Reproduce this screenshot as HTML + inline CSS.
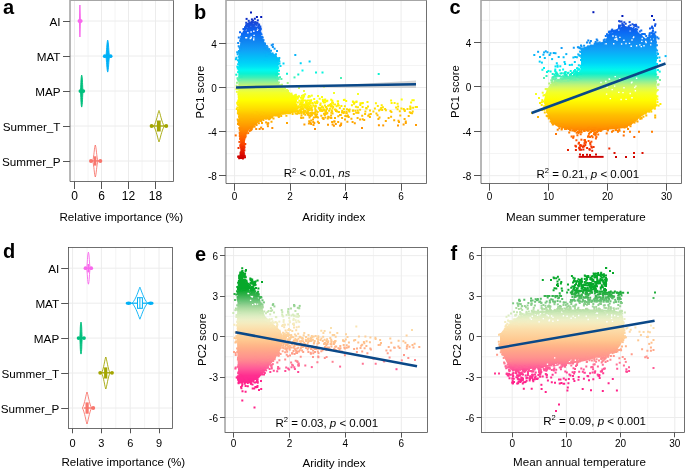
<!DOCTYPE html><html><head><meta charset="utf-8"><style>html,body{margin:0;padding:0;background:#fff;overflow:hidden}svg{display:block;will-change:transform}text{font-family:"Liberation Sans",sans-serif}</style></head><body><svg width="685" height="469" viewBox="0 0 685 469"><defs><linearGradient id="gb" gradientUnits="userSpaceOnUse" x1="0" y1="10" x2="0" y2="160"><stop offset="0.000" stop-color="#0018b8"/><stop offset="0.025" stop-color="#0018b8"/><stop offset="0.050" stop-color="#031dbb"/><stop offset="0.075" stop-color="#143ed1"/><stop offset="0.100" stop-color="#154fdf"/><stop offset="0.125" stop-color="#0f5bea"/><stop offset="0.150" stop-color="#0c67f2"/><stop offset="0.175" stop-color="#0c74f4"/><stop offset="0.200" stop-color="#1080f0"/><stop offset="0.225" stop-color="#108cf3"/><stop offset="0.250" stop-color="#1098f6"/><stop offset="0.275" stop-color="#0ea5f8"/><stop offset="0.300" stop-color="#08b4f8"/><stop offset="0.325" stop-color="#02c3f8"/><stop offset="0.350" stop-color="#00d0f8"/><stop offset="0.375" stop-color="#00e0f6"/><stop offset="0.400" stop-color="#00f8f0"/><stop offset="0.425" stop-color="#0cf2d2"/><stop offset="0.450" stop-color="#3ef0b7"/><stop offset="0.475" stop-color="#84f09d"/><stop offset="0.500" stop-color="#bbf279"/><stop offset="0.525" stop-color="#dcfa59"/><stop offset="0.550" stop-color="#f1ff2d"/><stop offset="0.575" stop-color="#f8ff16"/><stop offset="0.600" stop-color="#ffff00"/><stop offset="0.625" stop-color="#fff000"/><stop offset="0.650" stop-color="#ffe200"/><stop offset="0.675" stop-color="#ffd200"/><stop offset="0.700" stop-color="#ffc000"/><stop offset="0.725" stop-color="#ffb300"/><stop offset="0.750" stop-color="#ffa600"/><stop offset="0.775" stop-color="#ff9700"/><stop offset="0.800" stop-color="#ff8800"/><stop offset="0.825" stop-color="#ff7600"/><stop offset="0.850" stop-color="#ff6400"/><stop offset="0.875" stop-color="#fd5200"/><stop offset="0.900" stop-color="#f83f00"/><stop offset="0.925" stop-color="#ec2800"/><stop offset="0.950" stop-color="#e01400"/><stop offset="0.975" stop-color="#d30400"/><stop offset="1.000" stop-color="#cc0000"/></linearGradient><linearGradient id="gc" gradientUnits="userSpaceOnUse" x1="0" y1="10" x2="0" y2="160"><stop offset="0.000" stop-color="#0018b8"/><stop offset="0.025" stop-color="#0018b8"/><stop offset="0.050" stop-color="#0826c1"/><stop offset="0.075" stop-color="#1947d7"/><stop offset="0.100" stop-color="#1452e2"/><stop offset="0.125" stop-color="#0e5eec"/><stop offset="0.150" stop-color="#0b6af4"/><stop offset="0.175" stop-color="#0d77f3"/><stop offset="0.200" stop-color="#1083f1"/><stop offset="0.225" stop-color="#108ff4"/><stop offset="0.250" stop-color="#109bf7"/><stop offset="0.275" stop-color="#0da8f8"/><stop offset="0.300" stop-color="#07b7f8"/><stop offset="0.325" stop-color="#01c6f8"/><stop offset="0.350" stop-color="#00d2f8"/><stop offset="0.375" stop-color="#00e5f5"/><stop offset="0.400" stop-color="#02f7ea"/><stop offset="0.425" stop-color="#0ef1cd"/><stop offset="0.450" stop-color="#4bf0b3"/><stop offset="0.475" stop-color="#8ef096"/><stop offset="0.500" stop-color="#c1f475"/><stop offset="0.525" stop-color="#dffb51"/><stop offset="0.550" stop-color="#f2ff2a"/><stop offset="0.575" stop-color="#f9ff13"/><stop offset="0.600" stop-color="#fffd00"/><stop offset="0.625" stop-color="#ffef00"/><stop offset="0.650" stop-color="#ffe000"/><stop offset="0.675" stop-color="#ffd000"/><stop offset="0.700" stop-color="#ffbe00"/><stop offset="0.725" stop-color="#ffb200"/><stop offset="0.750" stop-color="#ffa500"/><stop offset="0.775" stop-color="#ff9600"/><stop offset="0.800" stop-color="#ff8600"/><stop offset="0.825" stop-color="#ff7400"/><stop offset="0.850" stop-color="#ff6300"/><stop offset="0.875" stop-color="#fd5100"/><stop offset="0.900" stop-color="#f73e00"/><stop offset="0.925" stop-color="#eb2700"/><stop offset="0.950" stop-color="#df1300"/><stop offset="0.975" stop-color="#d20400"/><stop offset="1.000" stop-color="#cc0000"/></linearGradient><linearGradient id="ge" gradientUnits="userSpaceOnUse" x1="0" y1="260" x2="0" y2="400"><stop offset="0.000" stop-color="#06a82a"/><stop offset="0.025" stop-color="#06a82a"/><stop offset="0.050" stop-color="#06a82a"/><stop offset="0.075" stop-color="#06a82a"/><stop offset="0.100" stop-color="#06a82a"/><stop offset="0.125" stop-color="#06a82a"/><stop offset="0.150" stop-color="#06a82a"/><stop offset="0.175" stop-color="#06a82a"/><stop offset="0.200" stop-color="#06a82a"/><stop offset="0.225" stop-color="#17ab36"/><stop offset="0.250" stop-color="#32b14a"/><stop offset="0.275" stop-color="#52bb64"/><stop offset="0.300" stop-color="#73c67d"/><stop offset="0.325" stop-color="#96d293"/><stop offset="0.350" stop-color="#b3dea5"/><stop offset="0.375" stop-color="#c9e7b5"/><stop offset="0.400" stop-color="#ddedc2"/><stop offset="0.425" stop-color="#ecefc7"/><stop offset="0.450" stop-color="#f4ecbf"/><stop offset="0.475" stop-color="#f9e4b3"/><stop offset="0.500" stop-color="#fcdca8"/><stop offset="0.525" stop-color="#fdd5a0"/><stop offset="0.550" stop-color="#fece97"/><stop offset="0.575" stop-color="#ffc78f"/><stop offset="0.600" stop-color="#ffbb8a"/><stop offset="0.625" stop-color="#ffb088"/><stop offset="0.650" stop-color="#ffa589"/><stop offset="0.675" stop-color="#ff9b8c"/><stop offset="0.700" stop-color="#ff918e"/><stop offset="0.725" stop-color="#ff8291"/><stop offset="0.750" stop-color="#ff6e95"/><stop offset="0.775" stop-color="#ff5a98"/><stop offset="0.800" stop-color="#ff4494"/><stop offset="0.825" stop-color="#ff2f90"/><stop offset="0.850" stop-color="#ff2990"/><stop offset="0.875" stop-color="#ff248c"/><stop offset="0.900" stop-color="#ff2088"/><stop offset="0.925" stop-color="#ff2088"/><stop offset="0.950" stop-color="#ff2088"/><stop offset="0.975" stop-color="#ff2088"/><stop offset="1.000" stop-color="#ff2088"/></linearGradient><linearGradient id="gf" gradientUnits="userSpaceOnUse" x1="0" y1="260" x2="0" y2="400"><stop offset="0.000" stop-color="#06a82a"/><stop offset="0.025" stop-color="#06a82a"/><stop offset="0.050" stop-color="#06a82a"/><stop offset="0.075" stop-color="#06a82a"/><stop offset="0.100" stop-color="#06a82a"/><stop offset="0.125" stop-color="#06a82a"/><stop offset="0.150" stop-color="#06a82a"/><stop offset="0.175" stop-color="#06a82a"/><stop offset="0.200" stop-color="#06a82a"/><stop offset="0.225" stop-color="#17ab36"/><stop offset="0.250" stop-color="#32b14a"/><stop offset="0.275" stop-color="#52bb64"/><stop offset="0.300" stop-color="#73c67d"/><stop offset="0.325" stop-color="#96d293"/><stop offset="0.350" stop-color="#b3dea5"/><stop offset="0.375" stop-color="#c9e7b5"/><stop offset="0.400" stop-color="#ddedc2"/><stop offset="0.425" stop-color="#ecefc7"/><stop offset="0.450" stop-color="#f4ecbf"/><stop offset="0.475" stop-color="#f9e4b3"/><stop offset="0.500" stop-color="#fcdca8"/><stop offset="0.525" stop-color="#fdd5a0"/><stop offset="0.550" stop-color="#fece97"/><stop offset="0.575" stop-color="#ffc78f"/><stop offset="0.600" stop-color="#ffbb8a"/><stop offset="0.625" stop-color="#ffb088"/><stop offset="0.650" stop-color="#ffa589"/><stop offset="0.675" stop-color="#ff9b8c"/><stop offset="0.700" stop-color="#ff918e"/><stop offset="0.725" stop-color="#ff8291"/><stop offset="0.750" stop-color="#ff6e95"/><stop offset="0.775" stop-color="#ff5a98"/><stop offset="0.800" stop-color="#ff4494"/><stop offset="0.825" stop-color="#ff2f90"/><stop offset="0.850" stop-color="#ff2990"/><stop offset="0.875" stop-color="#ff248c"/><stop offset="0.900" stop-color="#ff2088"/><stop offset="0.925" stop-color="#ff2088"/><stop offset="0.950" stop-color="#ff2088"/><stop offset="0.975" stop-color="#ff2088"/><stop offset="1.000" stop-color="#ff2088"/></linearGradient></defs><line x1="88.0" y1="0.5" x2="88.0" y2="181.5" stroke="#f4f4f4" stroke-width="1"/><line x1="115.0" y1="0.5" x2="115.0" y2="181.5" stroke="#f4f4f4" stroke-width="1"/><line x1="142.0" y1="0.5" x2="142.0" y2="181.5" stroke="#f4f4f4" stroke-width="1"/><line x1="169.0" y1="0.5" x2="169.0" y2="181.5" stroke="#f4f4f4" stroke-width="1"/><line x1="74.5" y1="0.5" x2="74.5" y2="181.5" stroke="#ececec" stroke-width="1"/><line x1="101.5" y1="0.5" x2="101.5" y2="181.5" stroke="#ececec" stroke-width="1"/><line x1="128.5" y1="0.5" x2="128.5" y2="181.5" stroke="#ececec" stroke-width="1"/><line x1="155.5" y1="0.5" x2="155.5" y2="181.5" stroke="#ececec" stroke-width="1"/><line x1="70" y1="21" x2="173.5" y2="21" stroke="#ececec" stroke-width="1"/><line x1="70" y1="56" x2="173.5" y2="56" stroke="#ececec" stroke-width="1"/><line x1="70" y1="91" x2="173.5" y2="91" stroke="#ececec" stroke-width="1"/><line x1="70" y1="126" x2="173.5" y2="126" stroke="#ececec" stroke-width="1"/><line x1="70" y1="161" x2="173.5" y2="161" stroke="#ececec" stroke-width="1"/><line x1="87.0" y1="247.5" x2="87.0" y2="428.5" stroke="#f4f4f4" stroke-width="1"/><line x1="115.79999999999998" y1="247.5" x2="115.79999999999998" y2="428.5" stroke="#f4f4f4" stroke-width="1"/><line x1="144.6" y1="247.5" x2="144.6" y2="428.5" stroke="#f4f4f4" stroke-width="1"/><line x1="72.6" y1="247.5" x2="72.6" y2="428.5" stroke="#ececec" stroke-width="1"/><line x1="101.39999999999999" y1="247.5" x2="101.39999999999999" y2="428.5" stroke="#ececec" stroke-width="1"/><line x1="130.2" y1="247.5" x2="130.2" y2="428.5" stroke="#ececec" stroke-width="1"/><line x1="159.0" y1="247.5" x2="159.0" y2="428.5" stroke="#ececec" stroke-width="1"/><line x1="68.5" y1="268.2" x2="172.5" y2="268.2" stroke="#ececec" stroke-width="1"/><line x1="68.5" y1="303.2" x2="172.5" y2="303.2" stroke="#ececec" stroke-width="1"/><line x1="68.5" y1="338.1" x2="172.5" y2="338.1" stroke="#ececec" stroke-width="1"/><line x1="68.5" y1="373.0" x2="172.5" y2="373.0" stroke="#ececec" stroke-width="1"/><line x1="68.5" y1="408.0" x2="172.5" y2="408.0" stroke="#ececec" stroke-width="1"/><line x1="262.35" y1="0.5" x2="262.35" y2="183.5" stroke="#f4f4f4" stroke-width="1"/><line x1="317.85" y1="0.5" x2="317.85" y2="183.5" stroke="#f4f4f4" stroke-width="1"/><line x1="373.35" y1="0.5" x2="373.35" y2="183.5" stroke="#f4f4f4" stroke-width="1"/><line x1="226" y1="153.68" x2="426.5" y2="153.68" stroke="#f4f4f4" stroke-width="1"/><line x1="226" y1="109.56" x2="426.5" y2="109.56" stroke="#f4f4f4" stroke-width="1"/><line x1="226" y1="65.44" x2="426.5" y2="65.44" stroke="#f4f4f4" stroke-width="1"/><line x1="226" y1="21.320000000000007" x2="426.5" y2="21.320000000000007" stroke="#f4f4f4" stroke-width="1"/><line x1="234.6" y1="0.5" x2="234.6" y2="183.5" stroke="#ececec" stroke-width="1"/><line x1="290.1" y1="0.5" x2="290.1" y2="183.5" stroke="#ececec" stroke-width="1"/><line x1="345.6" y1="0.5" x2="345.6" y2="183.5" stroke="#ececec" stroke-width="1"/><line x1="401.1" y1="0.5" x2="401.1" y2="183.5" stroke="#ececec" stroke-width="1"/><line x1="226" y1="175.74" x2="426.5" y2="175.74" stroke="#ececec" stroke-width="1"/><line x1="226" y1="131.62" x2="426.5" y2="131.62" stroke="#ececec" stroke-width="1"/><line x1="226" y1="87.5" x2="426.5" y2="87.5" stroke="#ececec" stroke-width="1"/><line x1="226" y1="43.38" x2="426.5" y2="43.38" stroke="#ececec" stroke-width="1"/><line x1="519.1" y1="0.5" x2="519.1" y2="183.5" stroke="#f4f4f4" stroke-width="1"/><line x1="578.1" y1="0.5" x2="578.1" y2="183.5" stroke="#f4f4f4" stroke-width="1"/><line x1="637.1" y1="0.5" x2="637.1" y2="183.5" stroke="#f4f4f4" stroke-width="1"/><line x1="481" y1="153.5" x2="681.5" y2="153.5" stroke="#f4f4f4" stroke-width="1"/><line x1="481" y1="109.10000000000001" x2="681.5" y2="109.10000000000001" stroke="#f4f4f4" stroke-width="1"/><line x1="481" y1="64.7" x2="681.5" y2="64.7" stroke="#f4f4f4" stroke-width="1"/><line x1="481" y1="20.30000000000001" x2="681.5" y2="20.30000000000001" stroke="#f4f4f4" stroke-width="1"/><line x1="489.6" y1="0.5" x2="489.6" y2="183.5" stroke="#ececec" stroke-width="1"/><line x1="548.6" y1="0.5" x2="548.6" y2="183.5" stroke="#ececec" stroke-width="1"/><line x1="607.6" y1="0.5" x2="607.6" y2="183.5" stroke="#ececec" stroke-width="1"/><line x1="666.6" y1="0.5" x2="666.6" y2="183.5" stroke="#ececec" stroke-width="1"/><line x1="481" y1="175.7" x2="681.5" y2="175.7" stroke="#ececec" stroke-width="1"/><line x1="481" y1="131.3" x2="681.5" y2="131.3" stroke="#ececec" stroke-width="1"/><line x1="481" y1="86.9" x2="681.5" y2="86.9" stroke="#ececec" stroke-width="1"/><line x1="481" y1="42.50000000000001" x2="681.5" y2="42.50000000000001" stroke="#ececec" stroke-width="1"/><line x1="261.55" y1="247.5" x2="261.55" y2="432.5" stroke="#f4f4f4" stroke-width="1"/><line x1="317.45" y1="247.5" x2="317.45" y2="432.5" stroke="#f4f4f4" stroke-width="1"/><line x1="373.35" y1="247.5" x2="373.35" y2="432.5" stroke="#f4f4f4" stroke-width="1"/><line x1="225" y1="397.255" x2="427.5" y2="397.255" stroke="#f4f4f4" stroke-width="1"/><line x1="225" y1="356.785" x2="427.5" y2="356.785" stroke="#f4f4f4" stroke-width="1"/><line x1="225" y1="316.315" x2="427.5" y2="316.315" stroke="#f4f4f4" stroke-width="1"/><line x1="225" y1="275.845" x2="427.5" y2="275.845" stroke="#f4f4f4" stroke-width="1"/><line x1="233.6" y1="247.5" x2="233.6" y2="432.5" stroke="#ececec" stroke-width="1"/><line x1="289.5" y1="247.5" x2="289.5" y2="432.5" stroke="#ececec" stroke-width="1"/><line x1="345.4" y1="247.5" x2="345.4" y2="432.5" stroke="#ececec" stroke-width="1"/><line x1="401.29999999999995" y1="247.5" x2="401.29999999999995" y2="432.5" stroke="#ececec" stroke-width="1"/><line x1="225" y1="417.49" x2="427.5" y2="417.49" stroke="#ececec" stroke-width="1"/><line x1="225" y1="377.02" x2="427.5" y2="377.02" stroke="#ececec" stroke-width="1"/><line x1="225" y1="336.55" x2="427.5" y2="336.55" stroke="#ececec" stroke-width="1"/><line x1="225" y1="296.08000000000004" x2="427.5" y2="296.08000000000004" stroke="#ececec" stroke-width="1"/><line x1="225" y1="255.61" x2="427.5" y2="255.61" stroke="#ececec" stroke-width="1"/><line x1="485.1" y1="247.5" x2="485.1" y2="432.5" stroke="#f4f4f4" stroke-width="1"/><line x1="539.3000000000001" y1="247.5" x2="539.3000000000001" y2="432.5" stroke="#f4f4f4" stroke-width="1"/><line x1="593.5" y1="247.5" x2="593.5" y2="432.5" stroke="#f4f4f4" stroke-width="1"/><line x1="647.7" y1="247.5" x2="647.7" y2="432.5" stroke="#f4f4f4" stroke-width="1"/><line x1="481.5" y1="397.255" x2="684.5" y2="397.255" stroke="#f4f4f4" stroke-width="1"/><line x1="481.5" y1="356.785" x2="684.5" y2="356.785" stroke="#f4f4f4" stroke-width="1"/><line x1="481.5" y1="316.315" x2="684.5" y2="316.315" stroke="#f4f4f4" stroke-width="1"/><line x1="481.5" y1="275.845" x2="684.5" y2="275.845" stroke="#f4f4f4" stroke-width="1"/><line x1="512.2" y1="247.5" x2="512.2" y2="432.5" stroke="#ececec" stroke-width="1"/><line x1="566.4000000000001" y1="247.5" x2="566.4000000000001" y2="432.5" stroke="#ececec" stroke-width="1"/><line x1="620.6" y1="247.5" x2="620.6" y2="432.5" stroke="#ececec" stroke-width="1"/><line x1="674.8000000000001" y1="247.5" x2="674.8000000000001" y2="432.5" stroke="#ececec" stroke-width="1"/><line x1="481.5" y1="417.49" x2="684.5" y2="417.49" stroke="#ececec" stroke-width="1"/><line x1="481.5" y1="377.02" x2="684.5" y2="377.02" stroke="#ececec" stroke-width="1"/><line x1="481.5" y1="336.55" x2="684.5" y2="336.55" stroke="#ececec" stroke-width="1"/><line x1="481.5" y1="296.08000000000004" x2="684.5" y2="296.08000000000004" stroke="#ececec" stroke-width="1"/><line x1="481.5" y1="255.61" x2="684.5" y2="255.61" stroke="#ececec" stroke-width="1"/><polygon points="246,24 252,21.5 258,23 260.5,30 261,36 264,41 266.5,48 270,52 276,55 279,60 278.5,66 278,80 279,84 281,87 286,90 292,94 296,97 297,112 285,114 272,117 262,120 255,125 249,130 246,135 245,140 244.5,150 244.5,158.5 238.5,158.5 239.5,155 240.5,150 240,140 239.5,135 239.8,130 239,125 238.6,120 238.4,115 238.3,105 238.3,70 238.5,60 238.5,56 239.5,50 240,45 240.5,40 241,35 244,30" fill="url(#gb)"/><path fill="#ffffff" d="M253.1 37.4h1.4v1.4h-1.4zM256.4 25.4h1.4v1.4h-1.4zM245.9 37.0h1.4v1.4h-1.4zM256.8 29.7h1.4v1.4h-1.4zM246.0 26.3h1.4v1.4h-1.4zM244.9 29.3h1.4v1.4h-1.4zM250.4 31.3h1.4v1.4h-1.4zM253.0 39.1h1.4v1.4h-1.4zM244.0 24.2h1.4v1.4h-1.4zM252.8 22.1h1.4v1.4h-1.4zM249.6 37.8h1.4v1.4h-1.4zM253.1 30.6h1.4v1.4h-1.4zM250.2 25.8h1.4v1.4h-1.4zM254.5 24.9h1.4v1.4h-1.4zM247.4 21.4h1.4v1.4h-1.4zM257.6 24.1h1.4v1.4h-1.4zM245.2 37.1h1.4v1.4h-1.4zM250.5 36.5h1.4v1.4h-1.4zM253.4 34.7h1.4v1.4h-1.4zM241.3 31.0h1.4v1.4h-1.4zM250.5 37.0h1.4v1.4h-1.4zM247.2 32.1h1.4v1.4h-1.4zM240.6 28.3h1.4v1.4h-1.4zM246.4 24.0h1.4v1.4h-1.4zM257.3 28.1h1.4v1.4h-1.4z"/><path fill="#184bdb" d="M248.9 22.4h2.0v2.0h-2.0zM256.5 22.5h2.0v2.0h-2.0z"/><path fill="#194ada" d="M249.1 22.1h2.0v2.0h-2.0zM256.2 22.2h2.0v2.0h-2.0z"/><path fill="#1550e0" d="M246.5 24.0h2.0v2.0h-2.0z"/><path fill="#184cdc" d="M246.6 22.8h2.0v2.0h-2.0z"/><path fill="#1949d9" d="M245.2 21.8h2.0v2.0h-2.0zM254.3 21.8h2.0v2.0h-2.0zM256.1 21.7h2.0v2.0h-2.0z"/><path fill="#164ede" d="M246.7 23.5h2.0v2.0h-2.0zM258.1 23.5h2.0v2.0h-2.0zM245.8 23.5h2.0v2.0h-2.0z"/><path fill="#1451e1" d="M247.7 24.5h2.0v2.0h-2.0zM258.1 24.5h2.0v2.0h-2.0zM245.0 24.5h2.0v2.0h-2.0zM248.9 24.6h2.0v2.0h-2.0z"/><path fill="#1138cd" d="M252.1 19.6h2.0v2.0h-2.0z"/><path fill="#1a48d8" d="M252.0 21.4h2.0v2.0h-2.0zM253.1 21.6h2.0v2.0h-2.0zM248.3 21.5h2.0v2.0h-2.0z"/><path fill="#1946d6" d="M254.4 21.1h2.0v2.0h-2.0z"/><path fill="#1452e2" d="M257.3 24.9h2.0v2.0h-2.0zM250.6 24.8h2.0v2.0h-2.0z"/><path fill="#0f5bea" d="M259.7 28.0h2.0v2.0h-2.0zM242.5 27.9h2.0v2.0h-2.0z"/><path fill="#1354e4" d="M259.3 25.5h2.0v2.0h-2.0z"/><path fill="#1059e8" d="M259.3 27.1h2.0v2.0h-2.0z"/><path fill="#164fdf" d="M255.0 23.7h2.0v2.0h-2.0zM253.0 23.7h2.0v2.0h-2.0z"/><path fill="#1058e8" d="M257.5 27.0h2.0v2.0h-2.0zM254.9 27.0h2.0v2.0h-2.0zM258.3 26.9h2.0v2.0h-2.0z"/><path fill="#0b71f5" d="M258.8 34.3h2.0v2.0h-2.0z"/><path fill="#0b6bf4" d="M259.8 32.5h2.0v2.0h-2.0z"/><path fill="#0c66f1" d="M259.3 31.2h2.0v2.0h-2.0zM239.0 31.3h2.0v2.0h-2.0z"/><path fill="#0a6ef6" d="M260.5 33.5h2.0v2.0h-2.0z"/><path fill="#0d62ef" d="M258.2 30.0h2.0v2.0h-2.0z"/><path fill="#0e5fec" d="M259.3 29.0h2.0v2.0h-2.0z"/><path fill="#0d77f3" d="M259.4 36.3h2.0v2.0h-2.0zM261.7 36.4h2.0v2.0h-2.0z"/><path fill="#1080f0" d="M262.5 39.1h2.0v2.0h-2.0z"/><path fill="#0f7ef1" d="M261.2 38.6h2.0v2.0h-2.0z"/><path fill="#107ff0" d="M259.5 38.8h2.0v2.0h-2.0z"/><path fill="#0d76f3" d="M260.9 36.0h2.0v2.0h-2.0z"/><path fill="#109af6" d="M264.3 47.0h2.0v2.0h-2.0zM265.8 47.1h2.0v2.0h-2.0z"/><path fill="#108bf3" d="M263.8 42.4h2.0v2.0h-2.0z"/><path fill="#1097f6" d="M266.5 46.3h2.0v2.0h-2.0z"/><path fill="#1099f6" d="M265.2 47.0h2.0v2.0h-2.0zM263.1 46.9h2.0v2.0h-2.0z"/><path fill="#108ff4" d="M263.9 43.8h2.0v2.0h-2.0z"/><path fill="#1093f5" d="M265.8 44.9h2.0v2.0h-2.0z"/><path fill="#108df3" d="M263.8 43.1h2.0v2.0h-2.0z"/><path fill="#0cabf8" d="M267.5 51.7h2.0v2.0h-2.0zM237.5 51.7h2.0v2.0h-2.0z"/><path fill="#10a0f8" d="M266.7 49.0h2.0v2.0h-2.0z"/><path fill="#0da8f8" d="M268.7 50.9h2.0v2.0h-2.0z"/><path fill="#0da6f8" d="M267.9 50.6h2.0v2.0h-2.0z"/><path fill="#0ea4f8" d="M267.9 50.0h2.0v2.0h-2.0zM237.9 50.0h2.0v2.0h-2.0zM238.8 50.0h2.0v2.0h-2.0zM276.0 50.0h2.0v2.0h-2.0z"/><path fill="#08b3f8" d="M270.6 53.7h2.0v2.0h-2.0zM272.6 53.8h2.0v2.0h-2.0z"/><path fill="#0fa3f8" d="M270.0 49.7h2.0v2.0h-2.0z"/><path fill="#06b8f8" d="M273.9 55.0h2.0v2.0h-2.0z"/><path fill="#0badf8" d="M269.2 52.3h2.0v2.0h-2.0zM268.7 52.2h2.0v2.0h-2.0z"/><path fill="#08b4f8" d="M271.1 54.0h2.0v2.0h-2.0zM294.3 53.9h2.0v2.0h-2.0z"/><path fill="#09b1f8" d="M275.0 53.3h2.0v2.0h-2.0zM236.7 53.2h2.0v2.0h-2.0z"/><path fill="#02c3f8" d="M276.0 57.7h2.0v2.0h-2.0z"/><path fill="#07b7f8" d="M274.5 54.7h2.0v2.0h-2.0zM240.0 54.8h2.0v2.0h-2.0z"/><path fill="#01c6f8" d="M276.1 58.6h2.0v2.0h-2.0zM277.8 58.5h2.0v2.0h-2.0zM234.9 58.3h2.0v2.0h-2.0zM264.1 58.5h2.0v2.0h-2.0z"/><path fill="#03c0f8" d="M278.3 57.0h2.0v2.0h-2.0zM235.4 56.8h2.0v2.0h-2.0z"/><path fill="#00c7f8" d="M277.0 58.7h2.0v2.0h-2.0z"/><path fill="#00c9f8" d="M277.4 59.2h2.0v2.0h-2.0zM277.8 59.1h2.0v2.0h-2.0zM237.0 59.3h2.0v2.0h-2.0z"/><path fill="#00cdf8" d="M278.4 60.5h2.0v2.0h-2.0zM308.6 60.5h2.0v2.0h-2.0z"/><path fill="#00d3f8" d="M276.9 62.3h2.0v2.0h-2.0zM299.7 62.3h2.0v2.0h-2.0zM282.5 62.5h2.0v2.0h-2.0z"/><path fill="#00d4f8" d="M278.5 62.6h2.0v2.0h-2.0z"/><path fill="#00d5f8" d="M277.3 63.0h2.0v2.0h-2.0z"/><path fill="#5ef0ac" d="M277.7 78.2h2.0v2.0h-2.0z"/><path fill="#3bf0b9" d="M276.4 76.3h2.0v2.0h-2.0z"/><path fill="#0ef1cc" d="M275.6 73.5h2.0v2.0h-2.0zM297.3 73.5h2.0v2.0h-2.0z"/><path fill="#0df2d0" d="M277.6 73.1h2.0v2.0h-2.0zM276.8 73.0h2.0v2.0h-2.0zM377.7 73.0h2.0v2.0h-2.0z"/><path fill="#3af0b9" d="M279.0 76.3h2.0v2.0h-2.0z"/><path fill="#46f0b5" d="M275.6 76.9h2.0v2.0h-2.0z"/><path fill="#03f7ea" d="M278.0 69.8h2.0v2.0h-2.0z"/><path fill="#00e9f4" d="M277.2 66.6h2.0v2.0h-2.0z"/><path fill="#37f0ba" d="M275.1 76.1h2.0v2.0h-2.0z"/><path fill="#49f0b4" d="M277.2 77.1h2.0v2.0h-2.0z"/><path fill="#00eaf3" d="M277.0 66.8h2.0v2.0h-2.0z"/><path fill="#4ef0b2" d="M275.9 77.3h2.0v2.0h-2.0z"/><path fill="#0ef1cd" d="M275.2 73.5h2.0v2.0h-2.0z"/><path fill="#98f090" d="M277.9 81.5h2.0v2.0h-2.0z"/><path fill="#a7f086" d="M276.9 82.4h2.0v2.0h-2.0z"/><path fill="#a3f089" d="M276.6 82.2h2.0v2.0h-2.0z"/><path fill="#aef082" d="M276.9 82.8h2.0v2.0h-2.0z"/><path fill="#b9f27a" d="M281.0 83.8h2.0v2.0h-2.0z"/><path fill="#bdf377" d="M279.8 84.3h2.0v2.0h-2.0zM278.6 84.3h2.0v2.0h-2.0z"/><path fill="#daf95c" d="M283.6 87.4h2.0v2.0h-2.0z"/><path fill="#d9f95f" d="M281.8 87.2h2.0v2.0h-2.0z"/><path fill="#d8f961" d="M283.9 87.1h2.0v2.0h-2.0z"/><path fill="#e6fc44" d="M280.5 89.4h2.0v2.0h-2.0z"/><path fill="#e7fd41" d="M281.5 89.6h2.0v2.0h-2.0z"/><path fill="#dbfa5b" d="M280.7 87.6h2.0v2.0h-2.0zM239.2 87.6h2.0v2.0h-2.0z"/><path fill="#e6fd43" d="M285.4 89.4h2.0v2.0h-2.0z"/><path fill="#f2ff28" d="M287.8 92.3h2.0v2.0h-2.0z"/><path fill="#e6fc45" d="M285.5 89.3h2.0v2.0h-2.0z"/><path fill="#e8fd40" d="M285.6 89.7h2.0v2.0h-2.0z"/><path fill="#e3fc4a" d="M286.2 89.0h2.0v2.0h-2.0z"/><path fill="#f3ff26" d="M290.5 92.6h2.0v2.0h-2.0z"/><path fill="#e9fd3e" d="M287.0 89.9h2.0v2.0h-2.0z"/><path fill="#f7ff19" d="M290.8 94.8h2.0v2.0h-2.0zM307.9 94.9h2.0v2.0h-2.0z"/><path fill="#f9ff13" d="M294.4 95.8h2.0v2.0h-2.0zM293.5 95.7h2.0v2.0h-2.0z"/><path fill="#f5ff1f" d="M294.9 93.8h2.0v2.0h-2.0z"/><path fill="#f8ff16" d="M294.4 95.3h2.0v2.0h-2.0zM298.0 95.3h2.0v2.0h-2.0zM303.1 95.4h2.0v2.0h-2.0z"/><path fill="#fbff0c" d="M294.8 97.0h2.0v2.0h-2.0z"/><path fill="#ffde00" d="M294.4 107.5h2.0v2.0h-2.0zM295.6 107.4h2.0v2.0h-2.0zM292.1 107.6h2.0v2.0h-2.0zM318.0 107.4h2.0v2.0h-2.0zM309.4 107.4h2.0v2.0h-2.0zM331.6 107.5h2.0v2.0h-2.0zM365.5 107.5h2.0v2.0h-2.0zM301.6 107.6h2.0v2.0h-2.0zM314.2 107.4h2.0v2.0h-2.0zM400.4 107.4h2.0v2.0h-2.0zM307.3 107.6h2.0v2.0h-2.0z"/><path fill="#fffb00" d="M294.9 100.0h2.0v2.0h-2.0zM309.4 100.0h2.0v2.0h-2.0zM345.2 99.9h2.0v2.0h-2.0zM322.0 100.1h2.0v2.0h-2.0z"/><path fill="#ffdf00" d="M295.9 107.2h2.0v2.0h-2.0zM239.3 107.2h2.0v2.0h-2.0zM326.1 107.4h2.0v2.0h-2.0zM319.2 107.3h2.0v2.0h-2.0z"/><path fill="#fdff07" d="M296.6 97.8h2.0v2.0h-2.0zM301.4 97.8h2.0v2.0h-2.0z"/><path fill="#ffdc00" d="M295.2 108.0h2.0v2.0h-2.0zM235.8 107.9h2.0v2.0h-2.0zM306.3 107.9h2.0v2.0h-2.0zM306.9 108.0h2.0v2.0h-2.0zM342.8 107.9h2.0v2.0h-2.0zM310.6 108.1h2.0v2.0h-2.0zM325.7 108.0h2.0v2.0h-2.0zM384.1 108.0h2.0v2.0h-2.0zM409.3 108.0h2.0v2.0h-2.0zM406.5 107.9h2.0v2.0h-2.0z"/><path fill="#ffe100" d="M297.2 106.7h2.0v2.0h-2.0zM296.1 106.8h2.0v2.0h-2.0zM238.3 106.7h2.0v2.0h-2.0zM293.0 106.7h2.0v2.0h-2.0zM295.1 106.6h2.0v2.0h-2.0zM308.5 106.8h2.0v2.0h-2.0zM304.3 106.7h2.0v2.0h-2.0zM412.1 106.8h2.0v2.0h-2.0zM395.1 106.6h2.0v2.0h-2.0zM322.2 106.6h2.0v2.0h-2.0zM317.8 106.7h2.0v2.0h-2.0zM409.6 106.7h2.0v2.0h-2.0z"/><path fill="#ffd300" d="M296.7 110.0h2.0v2.0h-2.0zM294.0 110.2h2.0v2.0h-2.0zM321.1 110.1h2.0v2.0h-2.0zM335.0 110.1h2.0v2.0h-2.0zM304.6 110.1h2.0v2.0h-2.0zM403.8 110.1h2.0v2.0h-2.0zM389.5 110.1h2.0v2.0h-2.0zM398.8 110.2h2.0v2.0h-2.0z"/><path fill="#ffdd00" d="M295.7 107.7h2.0v2.0h-2.0zM295.9 107.7h2.0v2.0h-2.0zM328.9 107.8h2.0v2.0h-2.0zM305.5 107.8h2.0v2.0h-2.0zM373.9 107.6h2.0v2.0h-2.0z"/><path fill="#ffe500" d="M295.2 105.7h2.0v2.0h-2.0zM296.2 105.8h2.0v2.0h-2.0zM308.6 105.8h2.0v2.0h-2.0zM354.9 105.7h2.0v2.0h-2.0zM314.3 105.7h2.0v2.0h-2.0zM313.6 105.6h2.0v2.0h-2.0zM367.0 105.6h2.0v2.0h-2.0zM308.2 105.7h2.0v2.0h-2.0zM397.1 105.6h2.0v2.0h-2.0z"/><path fill="#fff400" d="M294.5 101.7h2.0v2.0h-2.0zM304.9 101.8h2.0v2.0h-2.0zM307.2 101.9h2.0v2.0h-2.0zM353.5 101.7h2.0v2.0h-2.0zM332.0 101.8h2.0v2.0h-2.0zM308.9 101.9h2.0v2.0h-2.0zM316.1 101.9h2.0v2.0h-2.0zM361.8 101.9h2.0v2.0h-2.0z"/><path fill="#faff10" d="M296.6 96.4h2.0v2.0h-2.0zM237.8 96.3h2.0v2.0h-2.0z"/><path fill="#ffeb00" d="M295.4 104.1h2.0v2.0h-2.0zM330.6 104.1h2.0v2.0h-2.0zM300.7 104.0h2.0v2.0h-2.0zM304.0 104.3h2.0v2.0h-2.0zM359.3 104.1h2.0v2.0h-2.0zM380.7 104.2h2.0v2.0h-2.0zM336.7 104.2h2.0v2.0h-2.0zM350.9 104.2h2.0v2.0h-2.0zM337.1 104.3h2.0v2.0h-2.0z"/><path fill="#ffc900" d="M287.3 112.2h2.0v2.0h-2.0zM289.1 112.2h2.0v2.0h-2.0zM286.7 112.1h2.0v2.0h-2.0zM236.9 112.2h2.0v2.0h-2.0zM268.6 112.2h2.0v2.0h-2.0zM309.1 112.2h2.0v2.0h-2.0zM297.0 112.2h2.0v2.0h-2.0zM298.4 112.3h2.0v2.0h-2.0zM345.8 112.2h2.0v2.0h-2.0zM325.5 112.1h2.0v2.0h-2.0zM345.3 112.2h2.0v2.0h-2.0z"/><path fill="#ffca00" d="M285.9 112.0h2.0v2.0h-2.0zM261.7 112.0h2.0v2.0h-2.0zM263.5 112.0h2.0v2.0h-2.0zM309.7 112.0h2.0v2.0h-2.0zM326.3 111.9h2.0v2.0h-2.0zM409.8 111.9h2.0v2.0h-2.0zM306.0 111.9h2.0v2.0h-2.0zM311.8 112.0h2.0v2.0h-2.0zM342.7 112.1h2.0v2.0h-2.0zM300.6 112.0h2.0v2.0h-2.0z"/><path fill="#ffcd00" d="M291.3 111.3h2.0v2.0h-2.0zM253.8 111.5h2.0v2.0h-2.0zM260.4 111.3h2.0v2.0h-2.0zM254.6 111.3h2.0v2.0h-2.0zM299.8 111.4h2.0v2.0h-2.0zM311.0 111.4h2.0v2.0h-2.0zM357.4 111.5h2.0v2.0h-2.0z"/><path fill="#ffd100" d="M286.6 110.6h2.0v2.0h-2.0zM295.1 110.5h2.0v2.0h-2.0zM293.4 110.5h2.0v2.0h-2.0zM292.9 110.6h2.0v2.0h-2.0zM306.7 110.5h2.0v2.0h-2.0zM331.1 110.5h2.0v2.0h-2.0zM348.4 110.6h2.0v2.0h-2.0zM300.7 110.5h2.0v2.0h-2.0zM336.2 110.6h2.0v2.0h-2.0zM364.4 110.5h2.0v2.0h-2.0zM324.7 110.5h2.0v2.0h-2.0zM315.9 110.5h2.0v2.0h-2.0zM372.4 110.6h2.0v2.0h-2.0z"/><path fill="#ffcc00" d="M285.9 111.6h2.0v2.0h-2.0zM283.2 111.6h2.0v2.0h-2.0zM256.0 111.5h2.0v2.0h-2.0zM303.1 111.6h2.0v2.0h-2.0zM307.0 111.5h2.0v2.0h-2.0zM313.8 111.7h2.0v2.0h-2.0zM341.0 111.6h2.0v2.0h-2.0z"/><path fill="#ffd500" d="M294.2 109.6h2.0v2.0h-2.0zM237.1 109.5h2.0v2.0h-2.0zM303.0 109.6h2.0v2.0h-2.0zM298.2 109.5h2.0v2.0h-2.0zM369.0 109.6h2.0v2.0h-2.0zM347.6 109.5h2.0v2.0h-2.0zM330.6 109.6h2.0v2.0h-2.0zM352.2 109.5h2.0v2.0h-2.0z"/><path fill="#ffc800" d="M284.1 112.4h2.0v2.0h-2.0zM281.4 112.3h2.0v2.0h-2.0zM294.6 112.4h2.0v2.0h-2.0zM411.1 112.3h2.0v2.0h-2.0zM325.9 112.4h2.0v2.0h-2.0z"/><path fill="#ffce00" d="M286.8 111.2h2.0v2.0h-2.0zM237.2 111.2h2.0v2.0h-2.0zM300.3 111.2h2.0v2.0h-2.0zM408.8 111.2h2.0v2.0h-2.0zM316.7 111.1h2.0v2.0h-2.0zM306.5 111.2h2.0v2.0h-2.0z"/><path fill="#ffbd00" d="M285.4 114.8h2.0v2.0h-2.0zM277.2 114.7h2.0v2.0h-2.0zM344.3 114.9h2.0v2.0h-2.0zM320.3 114.7h2.0v2.0h-2.0zM315.2 114.9h2.0v2.0h-2.0zM367.3 114.7h2.0v2.0h-2.0zM361.2 114.8h2.0v2.0h-2.0z"/><path fill="#ffbc00" d="M280.2 115.1h2.0v2.0h-2.0zM268.2 115.3h2.0v2.0h-2.0zM309.5 115.0h2.0v2.0h-2.0zM337.3 115.3h2.0v2.0h-2.0zM346.0 115.2h2.0v2.0h-2.0zM407.7 115.1h2.0v2.0h-2.0z"/><path fill="#ffbb00" d="M278.3 115.3h2.0v2.0h-2.0zM270.5 115.4h2.0v2.0h-2.0zM315.1 115.6h2.0v2.0h-2.0z"/><path fill="#ffb900" d="M271.1 116.1h2.0v2.0h-2.0zM277.8 115.9h2.0v2.0h-2.0zM238.4 115.9h2.0v2.0h-2.0zM368.9 115.9h2.0v2.0h-2.0zM316.0 116.1h2.0v2.0h-2.0zM347.7 115.9h2.0v2.0h-2.0z"/><path fill="#ffb300" d="M272.5 117.6h2.0v2.0h-2.0zM265.0 117.8h2.0v2.0h-2.0zM260.9 117.9h2.0v2.0h-2.0zM350.4 117.7h2.0v2.0h-2.0z"/><path fill="#ffc300" d="M278.7 113.4h2.0v2.0h-2.0zM368.3 113.4h2.0v2.0h-2.0z"/><path fill="#ffc700" d="M282.2 112.5h2.0v2.0h-2.0zM256.3 112.6h2.0v2.0h-2.0zM310.2 112.6h2.0v2.0h-2.0zM375.4 112.6h2.0v2.0h-2.0zM312.5 112.5h2.0v2.0h-2.0zM331.6 112.6h2.0v2.0h-2.0z"/><path fill="#ffc100" d="M277.5 113.7h2.0v2.0h-2.0zM251.2 113.8h2.0v2.0h-2.0zM304.3 113.7h2.0v2.0h-2.0z"/><path fill="#ffbe00" d="M275.2 114.6h2.0v2.0h-2.0zM269.0 114.4h2.0v2.0h-2.0zM330.1 114.5h2.0v2.0h-2.0zM308.0 114.5h2.0v2.0h-2.0zM399.3 114.6h2.0v2.0h-2.0zM346.9 114.5h2.0v2.0h-2.0z"/><path fill="#ffbf00" d="M277.2 114.3h2.0v2.0h-2.0zM239.3 114.4h2.0v2.0h-2.0zM259.0 114.2h2.0v2.0h-2.0zM263.4 114.1h2.0v2.0h-2.0zM300.5 114.2h2.0v2.0h-2.0zM310.4 114.3h2.0v2.0h-2.0zM323.8 114.1h2.0v2.0h-2.0zM309.9 114.2h2.0v2.0h-2.0zM376.5 114.3h2.0v2.0h-2.0z"/><path fill="#ffb400" d="M267.1 117.5h2.0v2.0h-2.0zM268.9 117.4h2.0v2.0h-2.0zM326.8 117.4h2.0v2.0h-2.0z"/><path fill="#ffaf00" d="M262.4 119.1h2.0v2.0h-2.0zM249.2 119.0h2.0v2.0h-2.0zM363.2 119.0h2.0v2.0h-2.0z"/><path fill="#ffb700" d="M260.5 116.7h2.0v2.0h-2.0zM270.7 116.6h2.0v2.0h-2.0zM268.7 116.7h2.0v2.0h-2.0zM302.2 116.7h2.0v2.0h-2.0zM324.3 116.6h2.0v2.0h-2.0zM316.9 116.5h2.0v2.0h-2.0zM308.6 116.6h2.0v2.0h-2.0z"/><path fill="#ffb800" d="M268.8 116.3h2.0v2.0h-2.0zM260.1 116.3h2.0v2.0h-2.0zM300.2 116.4h2.0v2.0h-2.0zM312.8 116.5h2.0v2.0h-2.0zM378.5 116.4h2.0v2.0h-2.0zM327.7 116.2h2.0v2.0h-2.0zM314.4 116.2h2.0v2.0h-2.0z"/><path fill="#ffb600" d="M265.9 116.9h2.0v2.0h-2.0zM268.9 117.0h2.0v2.0h-2.0zM356.6 116.9h2.0v2.0h-2.0zM387.6 116.9h2.0v2.0h-2.0zM329.6 116.8h2.0v2.0h-2.0zM300.4 116.9h2.0v2.0h-2.0zM341.1 117.0h2.0v2.0h-2.0z"/><path fill="#ffa600" d="M254.8 121.6h2.0v2.0h-2.0zM254.8 121.6h2.0v2.0h-2.0zM309.1 121.6h2.0v2.0h-2.0z"/><path fill="#ff9c00" d="M255.6 124.0h2.0v2.0h-2.0zM312.5 123.9h2.0v2.0h-2.0zM339.9 124.1h2.0v2.0h-2.0z"/><path fill="#ffa400" d="M255.4 122.1h2.0v2.0h-2.0zM261.0 122.1h2.0v2.0h-2.0zM313.3 122.1h2.0v2.0h-2.0zM317.9 121.9h2.0v2.0h-2.0zM404.8 122.1h2.0v2.0h-2.0zM286.0 122.0h2.0v2.0h-2.0z"/><path fill="#ffad00" d="M259.6 119.6h2.0v2.0h-2.0zM237.1 119.6h2.0v2.0h-2.0zM253.3 119.5h2.0v2.0h-2.0z"/><path fill="#ffae00" d="M259.5 119.4h2.0v2.0h-2.0zM310.2 119.4h2.0v2.0h-2.0zM393.2 119.3h2.0v2.0h-2.0z"/><path fill="#ffaa00" d="M255.8 120.5h2.0v2.0h-2.0zM404.8 120.5h2.0v2.0h-2.0zM333.5 120.4h2.0v2.0h-2.0z"/><path fill="#ff9f00" d="M254.2 123.3h2.0v2.0h-2.0zM266.5 123.2h2.0v2.0h-2.0zM331.6 123.4h2.0v2.0h-2.0zM310.2 123.1h2.0v2.0h-2.0z"/><path fill="#ffa300" d="M257.9 122.3h2.0v2.0h-2.0zM267.3 122.2h2.0v2.0h-2.0zM309.7 122.2h2.0v2.0h-2.0zM353.8 122.3h2.0v2.0h-2.0z"/><path fill="#ff9000" d="M250.5 126.9h2.0v2.0h-2.0zM238.4 127.0h2.0v2.0h-2.0zM271.3 126.9h2.0v2.0h-2.0zM361.0 127.0h2.0v2.0h-2.0z"/><path fill="#ff9800" d="M251.9 124.9h2.0v2.0h-2.0z"/><path fill="#ff8e00" d="M249.8 127.5h2.0v2.0h-2.0zM239.3 127.5h2.0v2.0h-2.0z"/><path fill="#ff8d00" d="M247.5 127.8h2.0v2.0h-2.0zM240.7 127.8h2.0v2.0h-2.0z"/><path fill="#ff9300" d="M251.7 126.3h2.0v2.0h-2.0zM250.4 126.4h2.0v2.0h-2.0zM249.8 126.3h2.0v2.0h-2.0z"/><path fill="#ff8700" d="M249.8 129.2h2.0v2.0h-2.0z"/><path fill="#ff8b00" d="M250.8 128.3h2.0v2.0h-2.0zM261.8 128.1h2.0v2.0h-2.0zM258.6 128.1h2.0v2.0h-2.0z"/><path fill="#ff7700" d="M245.5 132.4h2.0v2.0h-2.0z"/><path fill="#ff7300" d="M244.3 133.3h2.0v2.0h-2.0zM238.9 133.3h2.0v2.0h-2.0z"/><path fill="#ff8300" d="M245.0 130.0h2.0v2.0h-2.0zM248.6 129.9h2.0v2.0h-2.0z"/><path fill="#ff7900" d="M247.2 132.1h2.0v2.0h-2.0z"/><path fill="#ff5a00" d="M243.3 138.5h2.0v2.0h-2.0z"/><path fill="#ff6500" d="M244.3 136.2h2.0v2.0h-2.0z"/><path fill="#ff6400" d="M243.4 136.5h2.0v2.0h-2.0zM240.0 136.4h2.0v2.0h-2.0z"/><path fill="#ff6300" d="M243.1 136.7h2.0v2.0h-2.0z"/><path fill="#ff6b00" d="M244.6 134.9h2.0v2.0h-2.0z"/><path fill="#f84200" d="M243.6 143.5h2.0v2.0h-2.0z"/><path fill="#f13300" d="M242.4 146.0h2.0v2.0h-2.0z"/><path fill="#ee2c00" d="M242.8 147.0h2.0v2.0h-2.0zM237.5 147.1h2.0v2.0h-2.0z"/><path fill="#f43800" d="M242.6 145.2h2.0v2.0h-2.0zM239.6 145.2h2.0v2.0h-2.0z"/><path fill="#f23400" d="M243.2 145.8h2.0v2.0h-2.0z"/><path fill="#f94400" d="M244.2 143.1h2.0v2.0h-2.0zM244.3 143.0h2.0v2.0h-2.0z"/><path fill="#fa4600" d="M242.4 142.7h2.0v2.0h-2.0z"/><path fill="#f02f00" d="M243.5 146.5h2.0v2.0h-2.0z"/><path fill="#fa4800" d="M242.6 142.3h2.0v2.0h-2.0z"/><path fill="#cf0200" d="M244.0 156.2h2.0v2.0h-2.0zM241.6 156.3h2.0v2.0h-2.0zM240.5 156.2h2.0v2.0h-2.0zM239.6 156.2h2.0v2.0h-2.0z"/><path fill="#db0d00" d="M241.3 152.8h2.0v2.0h-2.0z"/><path fill="#e71f00" d="M243.4 149.3h2.0v2.0h-2.0z"/><path fill="#d80800" d="M242.5 153.7h2.0v2.0h-2.0z"/><path fill="#d40600" d="M243.7 154.8h2.0v2.0h-2.0z"/><path fill="#dc0e00" d="M242.5 152.6h2.0v2.0h-2.0zM240.2 152.7h2.0v2.0h-2.0z"/><path fill="#e01400" d="M242.5 151.5h2.0v2.0h-2.0z"/><path fill="#d20400" d="M237.5 155.5h2.0v2.0h-2.0z"/><path fill="#d30400" d="M240.8 155.3h2.0v2.0h-2.0z"/><path fill="#cd0000" d="M240.0 156.9h2.0v2.0h-2.0z"/><path fill="#cc0000" d="M238.2 157.3h2.0v2.0h-2.0zM241.9 157.4h2.0v2.0h-2.0z"/><path fill="#d40500" d="M239.9 154.9h2.0v2.0h-2.0z"/><path fill="#d10300" d="M237.2 155.8h2.0v2.0h-2.0z"/><path fill="#df1200" d="M239.6 151.7h2.0v2.0h-2.0z"/><path fill="#dd0f00" d="M242.2 152.4h2.0v2.0h-2.0z"/><path fill="#e01300" d="M240.4 151.5h2.0v2.0h-2.0z"/><path fill="#e31900" d="M241.1 150.5h2.0v2.0h-2.0z"/><path fill="#fc4f00" d="M238.4 140.9h2.0v2.0h-2.0z"/><path fill="#ea2400" d="M240.6 148.3h2.0v2.0h-2.0z"/><path fill="#f03000" d="M240.0 146.5h2.0v2.0h-2.0zM240.2 146.4h2.0v2.0h-2.0z"/><path fill="#f03100" d="M240.8 146.3h2.0v2.0h-2.0z"/><path fill="#f84100" d="M239.5 143.7h2.0v2.0h-2.0z"/><path fill="#f13200" d="M240.4 146.1h2.0v2.0h-2.0z"/><path fill="#f53a00" d="M239.6 144.8h2.0v2.0h-2.0z"/><path fill="#ff5d00" d="M239.2 138.0h2.0v2.0h-2.0z"/><path fill="#ff6000" d="M239.2 137.4h2.0v2.0h-2.0z"/><path fill="#ff6800" d="M239.5 135.6h2.0v2.0h-2.0z"/><path fill="#ff6a00" d="M238.8 135.1h2.0v2.0h-2.0z"/><path fill="#ff7500" d="M240.3 132.8h2.0v2.0h-2.0z"/><path fill="#ff7b00" d="M239.2 131.6h2.0v2.0h-2.0z"/><path fill="#ff7a00" d="M238.7 131.8h2.0v2.0h-2.0z"/><path fill="#ff7400" d="M239.2 133.2h2.0v2.0h-2.0z"/><path fill="#ff8900" d="M239.6 128.7h2.0v2.0h-2.0zM250.0 128.8h2.0v2.0h-2.0z"/><path fill="#ff8c00" d="M240.2 127.9h2.0v2.0h-2.0zM255.2 127.9h2.0v2.0h-2.0zM314.0 128.0h2.0v2.0h-2.0z"/><path fill="#ff8800" d="M238.8 128.9h2.0v2.0h-2.0z"/><path fill="#ffa000" d="M238.9 123.1h2.0v2.0h-2.0zM237.0 123.0h2.0v2.0h-2.0zM334.8 123.1h2.0v2.0h-2.0z"/><path fill="#ff9d00" d="M238.0 123.8h2.0v2.0h-2.0zM253.4 123.8h2.0v2.0h-2.0zM327.0 123.7h2.0v2.0h-2.0z"/><path fill="#ffa800" d="M237.4 121.0h2.0v2.0h-2.0zM312.3 121.0h2.0v2.0h-2.0zM331.1 121.0h2.0v2.0h-2.0zM337.2 121.0h2.0v2.0h-2.0zM398.0 121.0h2.0v2.0h-2.0z"/><path fill="#ffb100" d="M236.7 118.5h2.0v2.0h-2.0zM268.1 118.2h2.0v2.0h-2.0zM252.3 118.3h2.0v2.0h-2.0zM312.0 118.5h2.0v2.0h-2.0zM361.7 118.2h2.0v2.0h-2.0zM344.0 118.5h2.0v2.0h-2.0z"/><path fill="#ffb000" d="M240.6 118.7h2.0v2.0h-2.0zM250.3 118.7h2.0v2.0h-2.0zM359.1 118.5h2.0v2.0h-2.0z"/><path fill="#ffba00" d="M238.1 115.6h2.0v2.0h-2.0zM251.2 115.7h2.0v2.0h-2.0zM327.3 115.7h2.0v2.0h-2.0zM390.1 115.8h2.0v2.0h-2.0z"/><path fill="#ffd800" d="M237.8 108.9h2.0v2.0h-2.0zM299.3 108.8h2.0v2.0h-2.0zM348.1 109.0h2.0v2.0h-2.0zM314.6 108.9h2.0v2.0h-2.0zM334.8 108.8h2.0v2.0h-2.0zM307.4 108.8h2.0v2.0h-2.0zM403.5 109.0h2.0v2.0h-2.0z"/><path fill="#ffd400" d="M237.1 109.8h2.0v2.0h-2.0zM341.2 109.9h2.0v2.0h-2.0zM335.5 109.8h2.0v2.0h-2.0zM354.4 109.8h2.0v2.0h-2.0zM325.2 109.7h2.0v2.0h-2.0zM319.4 109.8h2.0v2.0h-2.0zM328.1 109.7h2.0v2.0h-2.0zM351.8 109.8h2.0v2.0h-2.0z"/><path fill="#ffe200" d="M236.4 106.5h2.0v2.0h-2.0zM306.2 106.4h2.0v2.0h-2.0zM299.1 106.6h2.0v2.0h-2.0zM320.4 106.6h2.0v2.0h-2.0z"/><path fill="#ffc400" d="M237.7 113.2h2.0v2.0h-2.0zM269.9 113.2h2.0v2.0h-2.0zM306.9 113.1h2.0v2.0h-2.0zM316.0 113.3h2.0v2.0h-2.0z"/><path fill="#ffec00" d="M237.2 103.9h2.0v2.0h-2.0zM237.3 103.8h2.0v2.0h-2.0zM305.4 103.8h2.0v2.0h-2.0zM319.3 104.0h2.0v2.0h-2.0zM328.7 103.9h2.0v2.0h-2.0z"/><path fill="#f8ff15" d="M237.9 95.4h2.0v2.0h-2.0z"/><path fill="#35f0bb" d="M238.5 76.0h2.0v2.0h-2.0z"/><path fill="#faff0e" d="M237.9 96.6h2.0v2.0h-2.0z"/><path fill="#07f5df" d="M237.1 71.1h2.0v2.0h-2.0z"/><path fill="#75f0a4" d="M237.5 79.4h2.0v2.0h-2.0z"/><path fill="#2bf0be" d="M240.5 75.5h2.0v2.0h-2.0z"/><path fill="#cef76c" d="M236.9 85.9h2.0v2.0h-2.0z"/><path fill="#c2f474" d="M235.6 84.7h2.0v2.0h-2.0z"/><path fill="#fff700" d="M237.2 101.0h2.0v2.0h-2.0zM366.5 101.1h2.0v2.0h-2.0zM352.3 101.1h2.0v2.0h-2.0zM355.4 101.0h2.0v2.0h-2.0z"/><path fill="#4cf0b3" d="M236.6 77.2h2.0v2.0h-2.0z"/><path fill="#f4ff24" d="M237.5 93.1h2.0v2.0h-2.0zM357.0 93.0h2.0v2.0h-2.0z"/><path fill="#defa54" d="M235.3 88.1h2.0v2.0h-2.0z"/><path fill="#f5ff20" d="M237.6 93.7h2.0v2.0h-2.0z"/><path fill="#9cf08d" d="M236.0 81.8h2.0v2.0h-2.0z"/><path fill="#eeff33" d="M235.9 90.8h2.0v2.0h-2.0z"/><path fill="#78f0a3" d="M237.7 79.6h2.0v2.0h-2.0z"/><path fill="#ffef00" d="M236.6 103.1h2.0v2.0h-2.0z"/><path fill="#6ef0a7" d="M239.2 79.0h2.0v2.0h-2.0z"/><path fill="#62f0ab" d="M237.1 78.4h2.0v2.0h-2.0z"/><path fill="#dffb51" d="M237.0 88.3h2.0v2.0h-2.0z"/><path fill="#f4ff22" d="M238.0 93.3h2.0v2.0h-2.0zM304.1 93.3h2.0v2.0h-2.0z"/><path fill="#fdff06" d="M238.5 97.9h2.0v2.0h-2.0zM313.2 97.9h2.0v2.0h-2.0z"/><path fill="#dbfa59" d="M237.3 87.7h2.0v2.0h-2.0z"/><path fill="#5df0ac" d="M236.8 78.1h2.0v2.0h-2.0z"/><path fill="#f6ff1b" d="M238.5 94.4h2.0v2.0h-2.0z"/><path fill="#d2f76a" d="M237.9 86.3h2.0v2.0h-2.0z"/><path fill="#fffc00" d="M237.3 99.6h2.0v2.0h-2.0zM298.4 99.8h2.0v2.0h-2.0zM301.3 99.6h2.0v2.0h-2.0zM331.3 99.8h2.0v2.0h-2.0zM326.3 99.8h2.0v2.0h-2.0z"/><path fill="#daf95d" d="M238.2 87.4h2.0v2.0h-2.0z"/><path fill="#fff500" d="M236.2 101.7h2.0v2.0h-2.0zM296.8 101.6h2.0v2.0h-2.0zM322.7 101.5h2.0v2.0h-2.0zM331.1 101.4h2.0v2.0h-2.0zM410.1 101.6h2.0v2.0h-2.0z"/><path fill="#0ff1cb" d="M235.3 73.7h2.0v2.0h-2.0z"/><path fill="#f0ff30" d="M237.6 91.1h2.0v2.0h-2.0z"/><path fill="#00e7f4" d="M237.1 66.3h2.0v2.0h-2.0z"/><path fill="#00daf7" d="M239.4 64.3h2.0v2.0h-2.0z"/><path fill="#00f6f1" d="M237.7 68.6h2.0v2.0h-2.0z"/><path fill="#00eef2" d="M236.8 67.5h2.0v2.0h-2.0z"/><path fill="#00d6f8" d="M237.1 63.3h2.0v2.0h-2.0zM238.0 63.2h2.0v2.0h-2.0z"/><path fill="#00e3f5" d="M236.3 65.7h2.0v2.0h-2.0z"/><path fill="#00d0f8" d="M238.5 61.5h2.0v2.0h-2.0z"/><path fill="#00cef8" d="M237.9 61.0h2.0v2.0h-2.0z"/><path fill="#04bff8" d="M238.8 56.7h2.0v2.0h-2.0z"/><path fill="#05bbf8" d="M237.8 55.7h2.0v2.0h-2.0z"/><path fill="#0ca9f8" d="M236.2 51.3h2.0v2.0h-2.0zM263.6 51.3h2.0v2.0h-2.0z"/><path fill="#109bf7" d="M239.2 47.4h2.0v2.0h-2.0z"/><path fill="#1098f6" d="M238.5 46.6h2.0v2.0h-2.0zM239.3 46.6h2.0v2.0h-2.0z"/><path fill="#109ff8" d="M239.1 48.7h2.0v2.0h-2.0zM266.5 48.6h2.0v2.0h-2.0z"/><path fill="#1094f5" d="M237.7 45.2h2.0v2.0h-2.0z"/><path fill="#108af2" d="M237.2 42.0h2.0v2.0h-2.0z"/><path fill="#1084f1" d="M241.5 40.5h2.0v2.0h-2.0z"/><path fill="#1083f1" d="M240.9 40.1h2.0v2.0h-2.0zM239.5 40.1h2.0v2.0h-2.0z"/><path fill="#1082f0" d="M239.3 39.6h2.0v2.0h-2.0z"/><path fill="#0c75f4" d="M240.1 35.7h2.0v2.0h-2.0z"/><path fill="#0f7df1" d="M239.9 38.2h2.0v2.0h-2.0z"/><path fill="#0e7bf2" d="M240.5 37.7h2.0v2.0h-2.0z"/><path fill="#0f7cf1" d="M239.8 37.9h2.0v2.0h-2.0z"/><path fill="#0d78f3" d="M237.8 36.5h2.0v2.0h-2.0z"/><path fill="#0a6cf5" d="M241.7 33.1h2.0v2.0h-2.0z"/><path fill="#0b6af4" d="M241.2 32.5h2.0v2.0h-2.0z"/><path fill="#0b6cf5" d="M241.2 33.0h2.0v2.0h-2.0z"/><path fill="#0d64f0" d="M242.8 30.6h2.0v2.0h-2.0z"/><path fill="#0d63ef" d="M243.9 30.3h2.0v2.0h-2.0z"/><path fill="#0f5cea" d="M242.9 28.0h2.0v2.0h-2.0z"/><path fill="#1255e5" d="M245.6 25.8h2.0v2.0h-2.0z"/><path fill="#1156e6" d="M244.0 26.2h2.0v2.0h-2.0zM249.3 26.4h2.0v2.0h-2.0zM244.5 26.2h2.0v2.0h-2.0zM250.0 26.4h2.0v2.0h-2.0z"/><path fill="#0f5deb" d="M244.0 28.5h2.0v2.0h-2.0z"/><path fill="#0a2ac4" d="M245.6 17.9h2.0v2.0h-2.0z"/><path fill="#0827c2" d="M253.8 17.7h2.0v2.0h-2.0z"/><path fill="#1551e1" d="M253.0 24.4h2.0v2.0h-2.0z"/><path fill="#1353e3" d="M246.5 25.1h2.0v2.0h-2.0z"/><path fill="#1157e7" d="M259.1 26.5h2.0v2.0h-2.0z"/><path fill="#1742d4" d="M250.5 20.7h2.0v2.0h-2.0z"/><path fill="#1743d5" d="M251.2 20.9h2.0v2.0h-2.0z"/><path fill="#0c2ec6" d="M250.9 18.4h2.0v2.0h-2.0z"/><path fill="#1036cc" d="M256.8 19.3h2.0v2.0h-2.0z"/><path fill="#123ace" d="M247.7 19.8h2.0v2.0h-2.0z"/><path fill="#109df7" d="M268.2 48.2h2.0v2.0h-2.0z"/><path fill="#1096f6" d="M271.9 46.0h2.0v2.0h-2.0z"/><path fill="#08b5f8" d="M264.5 54.2h2.0v2.0h-2.0zM271.4 54.2h2.0v2.0h-2.0z"/><path fill="#109cf7" d="M273.6 47.7h2.0v2.0h-2.0z"/><path fill="#108ef4" d="M271.9 43.5h2.0v2.0h-2.0zM263.1 43.6h2.0v2.0h-2.0zM264.0 43.5h2.0v2.0h-2.0z"/><path fill="#0aaef8" d="M271.5 52.4h2.0v2.0h-2.0z"/><path fill="#07b5f8" d="M265.2 54.3h2.0v2.0h-2.0z"/><path fill="#00c8f8" d="M265.8 58.9h2.0v2.0h-2.0z"/><path fill="#0aaff8" d="M267.0 52.7h2.0v2.0h-2.0z"/><path fill="#01c5f8" d="M276.9 58.2h2.0v2.0h-2.0z"/><path fill="#109ef7" d="M267.7 48.2h2.0v2.0h-2.0zM265.8 48.3h2.0v2.0h-2.0z"/><path fill="#1091f4" d="M270.7 44.2h2.0v2.0h-2.0z"/><path fill="#07b6f8" d="M265.9 54.3h2.0v2.0h-2.0z"/><path fill="#03c2f8" d="M276.5 57.4h2.0v2.0h-2.0z"/><path fill="#ffc600" d="M263.0 112.7h2.0v2.0h-2.0zM260.1 112.7h2.0v2.0h-2.0zM296.1 112.8h2.0v2.0h-2.0zM302.8 112.7h2.0v2.0h-2.0zM323.0 112.7h2.0v2.0h-2.0z"/><path fill="#ffa200" d="M251.8 122.4h2.0v2.0h-2.0zM267.0 122.5h2.0v2.0h-2.0zM307.9 122.4h2.0v2.0h-2.0zM340.2 122.4h2.0v2.0h-2.0z"/><path fill="#ff9e00" d="M251.8 123.5h2.0v2.0h-2.0zM249.3 123.6h2.0v2.0h-2.0zM402.6 123.6h2.0v2.0h-2.0zM303.4 123.6h2.0v2.0h-2.0z"/><path fill="#ff9700" d="M266.9 125.2h2.0v2.0h-2.0z"/><path fill="#ffab00" d="M255.8 120.1h2.0v2.0h-2.0zM260.2 120.1h2.0v2.0h-2.0zM308.2 120.2h2.0v2.0h-2.0z"/><path fill="#ff9100" d="M260.1 126.6h2.0v2.0h-2.0z"/><path fill="#ffa700" d="M265.1 121.4h2.0v2.0h-2.0z"/><path fill="#ff9500" d="M253.6 125.7h2.0v2.0h-2.0z"/><path fill="#ffa900" d="M270.5 120.7h2.0v2.0h-2.0zM346.4 120.7h2.0v2.0h-2.0zM351.6 120.9h2.0v2.0h-2.0zM316.9 120.8h2.0v2.0h-2.0zM333.2 120.6h2.0v2.0h-2.0z"/><path fill="#fff000" d="M300.9 102.8h2.0v2.0h-2.0zM308.5 102.9h2.0v2.0h-2.0zM329.8 102.9h2.0v2.0h-2.0z"/><path fill="#fffd00" d="M308.2 99.5h2.0v2.0h-2.0zM307.1 99.5h2.0v2.0h-2.0zM301.4 99.5h2.0v2.0h-2.0zM300.3 99.4h2.0v2.0h-2.0zM304.1 99.6h2.0v2.0h-2.0zM306.6 99.5h2.0v2.0h-2.0zM302.2 99.6h2.0v2.0h-2.0zM390.1 99.4h2.0v2.0h-2.0z"/><path fill="#fffa00" d="M305.4 100.3h2.0v2.0h-2.0zM309.7 100.2h2.0v2.0h-2.0zM337.1 100.3h2.0v2.0h-2.0zM315.9 100.3h2.0v2.0h-2.0zM336.7 100.2h2.0v2.0h-2.0zM325.6 100.2h2.0v2.0h-2.0z"/><path fill="#ffd600" d="M292.1 109.3h2.0v2.0h-2.0zM308.8 109.3h2.0v2.0h-2.0zM307.2 109.3h2.0v2.0h-2.0zM378.1 109.4h2.0v2.0h-2.0zM319.0 109.3h2.0v2.0h-2.0zM322.8 109.3h2.0v2.0h-2.0zM321.8 109.4h2.0v2.0h-2.0zM356.7 109.4h2.0v2.0h-2.0zM311.1 109.2h2.0v2.0h-2.0z"/><path fill="#fff600" d="M301.8 101.2h2.0v2.0h-2.0zM299.8 101.3h2.0v2.0h-2.0zM313.8 101.3h2.0v2.0h-2.0zM308.8 101.3h2.0v2.0h-2.0zM324.0 101.2h2.0v2.0h-2.0z"/><path fill="#faff0f" d="M293.5 96.4h2.0v2.0h-2.0zM296.3 96.6h2.0v2.0h-2.0z"/><path fill="#f6ff1c" d="M293.8 94.3h2.0v2.0h-2.0z"/><path fill="#ffe700" d="M294.8 105.1h2.0v2.0h-2.0zM300.4 105.3h2.0v2.0h-2.0zM297.5 105.2h2.0v2.0h-2.0zM306.4 105.2h2.0v2.0h-2.0zM330.8 105.3h2.0v2.0h-2.0zM307.7 105.1h2.0v2.0h-2.0zM335.6 105.2h2.0v2.0h-2.0zM343.9 105.3h2.0v2.0h-2.0z"/><path fill="#fff300" d="M299.4 102.2h2.0v2.0h-2.0zM305.4 102.1h2.0v2.0h-2.0zM311.2 102.0h2.0v2.0h-2.0zM299.9 102.1h2.0v2.0h-2.0zM299.8 102.0h2.0v2.0h-2.0zM390.6 102.0h2.0v2.0h-2.0zM393.6 102.0h2.0v2.0h-2.0z"/><path fill="#ffcf00" d="M297.2 111.0h2.0v2.0h-2.0zM302.6 110.9h2.0v2.0h-2.0zM390.4 111.0h2.0v2.0h-2.0zM324.5 110.9h2.0v2.0h-2.0zM337.9 111.0h2.0v2.0h-2.0z"/><path fill="#ffed00" d="M298.9 103.6h2.0v2.0h-2.0zM298.8 103.7h2.0v2.0h-2.0zM302.0 103.7h2.0v2.0h-2.0zM299.2 103.6h2.0v2.0h-2.0zM306.0 103.6h2.0v2.0h-2.0zM334.0 103.6h2.0v2.0h-2.0zM333.2 103.6h2.0v2.0h-2.0z"/><path fill="#fbff0e" d="M292.9 96.6h2.0v2.0h-2.0zM302.2 96.6h2.0v2.0h-2.0z"/><path fill="#f7ff1b" d="M310.8 94.6h2.0v2.0h-2.0z"/><path fill="#fbff0b" d="M291.3 97.1h2.0v2.0h-2.0z"/><path fill="#f9ff14" d="M295.3 95.6h2.0v2.0h-2.0zM308.9 95.6h2.0v2.0h-2.0zM296.8 95.7h2.0v2.0h-2.0z"/><path fill="#faff12" d="M297.4 96.1h2.0v2.0h-2.0z"/><path fill="#ffe400" d="M301.8 106.0h2.0v2.0h-2.0zM299.7 106.0h2.0v2.0h-2.0zM361.6 105.9h2.0v2.0h-2.0zM325.0 106.1h2.0v2.0h-2.0zM299.4 106.1h2.0v2.0h-2.0zM415.9 106.1h2.0v2.0h-2.0zM414.7 105.9h2.0v2.0h-2.0zM301.8 106.0h2.0v2.0h-2.0z"/><path fill="#ffd200" d="M299.6 110.4h2.0v2.0h-2.0zM411.7 110.4h2.0v2.0h-2.0zM314.7 110.2h2.0v2.0h-2.0zM299.2 110.3h2.0v2.0h-2.0z"/><path fill="#ffe900" d="M293.3 104.7h2.0v2.0h-2.0zM327.1 104.7h2.0v2.0h-2.0zM304.6 104.8h2.0v2.0h-2.0zM323.9 104.6h2.0v2.0h-2.0zM312.3 104.6h2.0v2.0h-2.0z"/><path fill="#ffe300" d="M294.5 106.2h2.0v2.0h-2.0zM356.9 106.3h2.0v2.0h-2.0zM306.0 106.3h2.0v2.0h-2.0zM381.9 106.2h2.0v2.0h-2.0zM303.8 106.2h2.0v2.0h-2.0zM310.8 106.3h2.0v2.0h-2.0zM332.2 106.1h2.0v2.0h-2.0zM356.4 106.3h2.0v2.0h-2.0z"/><path fill="#ffc500" d="M291.6 112.9h2.0v2.0h-2.0zM364.1 112.9h2.0v2.0h-2.0zM324.8 113.0h2.0v2.0h-2.0zM352.8 113.0h2.0v2.0h-2.0zM369.8 113.1h2.0v2.0h-2.0z"/><path fill="#f7ff18" d="M300.9 94.9h2.0v2.0h-2.0z"/><path fill="#fcff09" d="M302.0 97.5h2.0v2.0h-2.0z"/><path fill="#f6ff1d" d="M302.4 94.1h2.0v2.0h-2.0z"/><path fill="#ffdb00" d="M293.4 108.3h2.0v2.0h-2.0zM302.0 108.1h2.0v2.0h-2.0zM402.7 108.1h2.0v2.0h-2.0zM300.3 108.1h2.0v2.0h-2.0zM396.6 108.3h2.0v2.0h-2.0z"/><path fill="#fbff0d" d="M300.0 96.8h2.0v2.0h-2.0z"/><path fill="#f8ff17" d="M308.1 95.1h2.0v2.0h-2.0z"/><path fill="#ffd900" d="M300.2 108.6h2.0v2.0h-2.0zM359.1 108.8h2.0v2.0h-2.0zM348.6 108.6h2.0v2.0h-2.0zM299.8 108.8h2.0v2.0h-2.0zM323.5 108.8h2.0v2.0h-2.0zM319.8 108.7h2.0v2.0h-2.0zM320.3 108.7h2.0v2.0h-2.0zM379.5 108.6h2.0v2.0h-2.0z"/><path fill="#ffff00" d="M294.9 99.1h2.0v2.0h-2.0zM323.9 99.0h2.0v2.0h-2.0zM342.9 99.1h2.0v2.0h-2.0z"/><path fill="#ffcb00" d="M303.6 111.7h2.0v2.0h-2.0zM314.1 111.8h2.0v2.0h-2.0zM355.2 111.8h2.0v2.0h-2.0zM330.3 111.8h2.0v2.0h-2.0zM357.2 111.7h2.0v2.0h-2.0z"/><path fill="#fdff08" d="M291.3 97.7h2.0v2.0h-2.0zM318.7 97.7h2.0v2.0h-2.0z"/><path fill="#ffd000" d="M300.2 110.7h2.0v2.0h-2.0zM345.5 110.8h2.0v2.0h-2.0zM304.3 110.8h2.0v2.0h-2.0zM343.1 110.8h2.0v2.0h-2.0z"/><path fill="#f8ff18" d="M303.0 95.0h2.0v2.0h-2.0zM317.0 95.0h2.0v2.0h-2.0z"/><path fill="#fffe00" d="M310.2 99.3h2.0v2.0h-2.0zM411.4 99.2h2.0v2.0h-2.0zM412.7 99.2h2.0v2.0h-2.0z"/><path fill="#ffff01" d="M321.8 98.8h2.0v2.0h-2.0zM343.6 98.8h2.0v2.0h-2.0zM330.2 98.7h2.0v2.0h-2.0z"/><path fill="#ffda00" d="M334.0 108.4h2.0v2.0h-2.0zM346.0 108.3h2.0v2.0h-2.0zM322.5 108.5h2.0v2.0h-2.0z"/><path fill="#ffb500" d="M334.0 117.1h2.0v2.0h-2.0zM330.3 117.1h2.0v2.0h-2.0zM321.6 117.1h2.0v2.0h-2.0zM322.0 117.3h2.0v2.0h-2.0z"/><path fill="#ffea00" d="M306.3 104.5h2.0v2.0h-2.0zM337.8 104.5h2.0v2.0h-2.0zM309.8 104.5h2.0v2.0h-2.0zM302.4 104.4h2.0v2.0h-2.0zM328.5 104.4h2.0v2.0h-2.0zM307.0 104.3h2.0v2.0h-2.0z"/><path fill="#ffc000" d="M339.8 113.9h2.0v2.0h-2.0zM307.3 114.1h2.0v2.0h-2.0zM310.8 114.1h2.0v2.0h-2.0zM315.1 114.1h2.0v2.0h-2.0zM339.0 114.0h2.0v2.0h-2.0z"/><path fill="#fff900" d="M355.5 100.6h2.0v2.0h-2.0zM351.9 100.6h2.0v2.0h-2.0z"/><path fill="#fff200" d="M314.6 102.5h2.0v2.0h-2.0zM374.9 102.2h2.0v2.0h-2.0zM359.4 102.3h2.0v2.0h-2.0zM361.2 102.3h2.0v2.0h-2.0z"/><path fill="#fff100" d="M319.6 102.6h2.0v2.0h-2.0zM353.0 102.7h2.0v2.0h-2.0zM337.1 102.6h2.0v2.0h-2.0zM311.8 102.6h2.0v2.0h-2.0zM396.6 102.7h2.0v2.0h-2.0z"/><path fill="#fff800" d="M305.6 100.7h2.0v2.0h-2.0zM316.4 100.9h2.0v2.0h-2.0z"/><path fill="#f9ff12" d="M321.0 96.0h2.0v2.0h-2.0z"/><path fill="#feff03" d="M400.7 98.5h2.0v2.0h-2.0zM324.2 98.4h2.0v2.0h-2.0z"/><path fill="#ffe600" d="M303.8 105.3h2.0v2.0h-2.0zM314.8 105.3h2.0v2.0h-2.0zM321.1 105.4h2.0v2.0h-2.0zM330.0 105.5h2.0v2.0h-2.0zM409.2 105.4h2.0v2.0h-2.0z"/><path fill="#ffd700" d="M384.9 109.2h2.0v2.0h-2.0zM381.2 109.0h2.0v2.0h-2.0z"/><path fill="#ffee00" d="M303.3 103.5h2.0v2.0h-2.0zM306.6 103.4h2.0v2.0h-2.0z"/><path fill="#ffe800" d="M340.4 105.0h2.0v2.0h-2.0zM314.5 105.0h2.0v2.0h-2.0zM376.8 105.0h2.0v2.0h-2.0z"/><path fill="#ffb200" d="M377.4 118.0h2.0v2.0h-2.0zM322.6 118.0h2.0v2.0h-2.0zM403.6 118.1h2.0v2.0h-2.0z"/><path fill="#faff11" d="M307.4 96.2h2.0v2.0h-2.0z"/><path fill="#ffe000" d="M338.8 107.1h2.0v2.0h-2.0zM365.3 107.0h2.0v2.0h-2.0zM380.2 107.0h2.0v2.0h-2.0z"/><path fill="#ffc200" d="M314.1 113.6h2.0v2.0h-2.0z"/><path fill="#ff9900" d="M332.9 124.8h2.0v2.0h-2.0zM339.1 124.7h2.0v2.0h-2.0z"/><path fill="#ff9b00" d="M377.9 124.3h2.0v2.0h-2.0zM397.0 124.4h2.0v2.0h-2.0zM415.0 124.1h2.0v2.0h-2.0z"/><path fill="#ffac00" d="M397.5 119.7h2.0v2.0h-2.0zM384.8 120.0h2.0v2.0h-2.0z"/><path fill="#ff9a00" d="M382.2 124.4h2.0v2.0h-2.0z"/><path fill="#0018b8" d="M250.0 11.5h2.0v2.0h-2.0z"/><path fill="#0019b9" d="M255.9 16.0h2.0v2.0h-2.0zM260.2 16.0h2.0v2.0h-2.0z"/><path fill="#02f7ec" d="M301.5 69.5h2.0v2.0h-2.0z"/><path fill="#0cf2d3" d="M286.0 72.7h2.0v2.0h-2.0z"/><path fill="#3cf0b8" d="M293.5 76.4h2.0v2.0h-2.0z"/><path fill="#08f4dc" d="M315.0 71.5h2.0v2.0h-2.0zM321.5 71.5h2.0v2.0h-2.0z"/><path fill="#48f0b4" d="M340.0 77.0h2.0v2.0h-2.0z"/><path fill="#00def6" d="M279.5 65.0h2.0v2.0h-2.0z"/><path fill="#5bf0ad" d="M280.4 78.0h2.0v2.0h-2.0z"/><path fill="#a0f08a" d="M286.7 82.0h2.0v2.0h-2.0z"/><path fill="#d7f962" d="M298.0 87.0h2.0v2.0h-2.0z"/><path fill="#ff6e00" d="M234.7 134.4h2.0v2.0h-2.0z"/><path fill="#eafd3d" d="M303.0 90.0h2.0v2.0h-2.0z"/><path fill="#cff76b" d="M323.0 86.0h2.0v2.0h-2.0z"/><path fill="#f2ff2a" d="M333.0 92.0h2.0v2.0h-2.0z"/><polygon points="320,86.2 416,80.6 416,88 320,87.6" fill="#c8c8c8" opacity="0.75"/><line x1="236" y1="87.4" x2="416" y2="84.2" stroke="#0a4888" stroke-width="2.5"/><polygon points="581,48 590,45.5 600,43 605,41 608,35 614,32 618,28 624,26 630,27 636,29 640,34 645,38 650,36 652,32 655,33 656.5,38 656.5,106 652,110 645,114 638,119 632,124 625,128 605,130 585,130.5 568,129.5 558,127 552,123 548,116 545,108 544,100 546,92 549,86 556,80 566,77 576,74 581,70" fill="url(#gc)"/><path fill="#ffffff" d="M645.3 37.1h1.4v1.4h-1.4zM639.2 44.2h1.4v1.4h-1.4zM629.4 30.2h1.4v1.4h-1.4zM645.4 41.8h1.4v1.4h-1.4zM650.3 34.2h1.4v1.4h-1.4zM643.3 45.0h1.4v1.4h-1.4zM619.2 36.7h1.4v1.4h-1.4zM618.0 29.4h1.4v1.4h-1.4zM612.3 35.3h1.4v1.4h-1.4zM605.4 43.1h1.4v1.4h-1.4zM623.2 39.5h1.4v1.4h-1.4zM615.2 35.8h1.4v1.4h-1.4zM641.5 37.8h1.4v1.4h-1.4zM632.7 36.9h1.4v1.4h-1.4zM630.5 45.5h1.4v1.4h-1.4zM614.3 38.6h1.4v1.4h-1.4zM637.8 30.9h1.4v1.4h-1.4zM653.2 38.3h1.4v1.4h-1.4zM613.0 43.0h1.4v1.4h-1.4zM645.0 40.7h1.4v1.4h-1.4zM650.6 30.9h1.4v1.4h-1.4zM628.8 42.7h1.4v1.4h-1.4zM650.6 40.8h1.4v1.4h-1.4zM633.0 36.3h1.4v1.4h-1.4zM631.3 39.3h1.4v1.4h-1.4zM650.0 44.2h1.4v1.4h-1.4zM640.6 45.9h1.4v1.4h-1.4zM603.0 43.2h1.4v1.4h-1.4zM625.3 42.8h1.4v1.4h-1.4zM615.9 37.7h1.4v1.4h-1.4zM645.5 29.9h1.4v1.4h-1.4zM615.6 38.1h1.4v1.4h-1.4zM647.0 34.2h1.4v1.4h-1.4zM645.4 33.7h1.4v1.4h-1.4zM616.3 39.3h1.4v1.4h-1.4zM635.9 45.1h1.4v1.4h-1.4zM648.6 33.8h1.4v1.4h-1.4zM641.1 40.7h1.4v1.4h-1.4zM620.9 43.3h1.4v1.4h-1.4zM649.6 37.9h1.4v1.4h-1.4z"/><path fill="#ffffff" d="M635.9 77.5h1.4v1.4h-1.4zM605.9 93.4h1.4v1.4h-1.4zM611.5 88.9h1.4v1.4h-1.4zM619.2 77.9h1.4v1.4h-1.4zM629.5 92.8h1.4v1.4h-1.4zM605.1 80.8h1.4v1.4h-1.4zM631.3 97.1h1.4v1.4h-1.4zM634.1 86.8h1.4v1.4h-1.4zM614.0 85.4h1.4v1.4h-1.4zM606.4 86.7h1.4v1.4h-1.4zM608.5 78.3h1.4v1.4h-1.4zM614.5 75.9h1.4v1.4h-1.4zM618.1 91.7h1.4v1.4h-1.4zM625.4 98.7h1.4v1.4h-1.4zM634.7 90.1h1.4v1.4h-1.4zM635.2 85.4h1.4v1.4h-1.4zM631.3 81.4h1.4v1.4h-1.4zM620.4 98.8h1.4v1.4h-1.4zM623.3 87.0h1.4v1.4h-1.4zM630.8 82.1h1.4v1.4h-1.4zM632.5 74.8h1.4v1.4h-1.4zM608.8 78.7h1.4v1.4h-1.4zM609.6 97.9h1.4v1.4h-1.4zM600.3 81.8h1.4v1.4h-1.4zM622.3 91.9h1.4v1.4h-1.4z"/><path fill="#1095f5" d="M583.1 44.7h2.0v2.0h-2.0zM580.0 44.6h2.0v2.0h-2.0zM589.8 44.6h2.0v2.0h-2.0zM591.3 44.7h2.0v2.0h-2.0z"/><path fill="#109bf7" d="M588.2 46.7h2.0v2.0h-2.0zM572.8 46.7h2.0v2.0h-2.0zM577.9 46.4h2.0v2.0h-2.0z"/><path fill="#109df7" d="M584.8 47.1h2.0v2.0h-2.0z"/><path fill="#109af7" d="M586.9 46.4h2.0v2.0h-2.0z"/><path fill="#10a1f8" d="M585.4 48.3h2.0v2.0h-2.0z"/><path fill="#109ef8" d="M586.2 47.6h2.0v2.0h-2.0z"/><path fill="#1098f6" d="M580.5 45.5h2.0v2.0h-2.0z"/><path fill="#1097f6" d="M587.1 45.3h2.0v2.0h-2.0z"/><path fill="#1096f6" d="M589.6 45.1h2.0v2.0h-2.0z"/><path fill="#1096f5" d="M593.2 45.0h2.0v2.0h-2.0z"/><path fill="#108df3" d="M594.7 42.2h2.0v2.0h-2.0zM595.6 42.3h2.0v2.0h-2.0zM600.3 42.3h2.0v2.0h-2.0zM597.3 42.3h2.0v2.0h-2.0z"/><path fill="#108ef4" d="M597.2 42.6h2.0v2.0h-2.0z"/><path fill="#1089f2" d="M594.6 41.1h2.0v2.0h-2.0zM603.1 40.9h2.0v2.0h-2.0z"/><path fill="#1090f4" d="M593.7 43.1h2.0v2.0h-2.0zM602.4 43.0h2.0v2.0h-2.0z"/><path fill="#1081f0" d="M595.7 38.6h2.0v2.0h-2.0zM603.8 38.5h2.0v2.0h-2.0zM653.7 38.5h2.0v2.0h-2.0z"/><path fill="#109ff8" d="M590.0 47.9h2.0v2.0h-2.0zM579.7 47.7h2.0v2.0h-2.0z"/><path fill="#1084f1" d="M602.8 39.3h2.0v2.0h-2.0zM607.6 39.5h2.0v2.0h-2.0zM587.3 39.6h2.0v2.0h-2.0z"/><path fill="#108cf3" d="M602.2 41.8h2.0v2.0h-2.0zM654.0 41.9h2.0v2.0h-2.0z"/><path fill="#0d76f3" d="M606.8 35.0h2.0v2.0h-2.0zM609.1 35.2h2.0v2.0h-2.0zM645.2 35.1h2.0v2.0h-2.0zM650.6 35.2h2.0v2.0h-2.0z"/><path fill="#0d78f3" d="M607.1 35.6h2.0v2.0h-2.0zM650.5 35.8h2.0v2.0h-2.0z"/><path fill="#1088f2" d="M605.8 40.8h2.0v2.0h-2.0z"/><path fill="#0c75f4" d="M604.8 34.9h2.0v2.0h-2.0zM640.2 34.8h2.0v2.0h-2.0zM648.3 34.7h2.0v2.0h-2.0z"/><path fill="#0c67f1" d="M608.4 30.4h2.0v2.0h-2.0zM610.1 30.5h2.0v2.0h-2.0zM638.8 30.4h2.0v2.0h-2.0z"/><path fill="#0b72f5" d="M608.3 33.9h2.0v2.0h-2.0zM639.6 33.8h2.0v2.0h-2.0z"/><path fill="#0a6cf5" d="M609.8 32.1h2.0v2.0h-2.0z"/><path fill="#0c67f2" d="M610.8 30.6h2.0v2.0h-2.0z"/><path fill="#0c68f2" d="M615.0 30.8h2.0v2.0h-2.0z"/><path fill="#0d65f0" d="M612.7 29.8h2.0v2.0h-2.0z"/><path fill="#0d62ef" d="M616.3 29.1h2.0v2.0h-2.0z"/><path fill="#0d64ef" d="M614.5 29.5h2.0v2.0h-2.0zM610.7 29.5h2.0v2.0h-2.0z"/><path fill="#0c66f1" d="M613.9 30.2h2.0v2.0h-2.0zM651.8 30.3h2.0v2.0h-2.0zM611.9 30.1h2.0v2.0h-2.0z"/><path fill="#1254e4" d="M622.5 24.7h2.0v2.0h-2.0zM621.7 24.7h2.0v2.0h-2.0z"/><path fill="#1058e8" d="M622.7 26.1h2.0v2.0h-2.0zM623.6 25.9h2.0v2.0h-2.0zM618.0 26.0h2.0v2.0h-2.0z"/><path fill="#1156e6" d="M618.7 25.2h2.0v2.0h-2.0zM627.8 25.2h2.0v2.0h-2.0zM635.6 25.4h2.0v2.0h-2.0z"/><path fill="#1354e4" d="M618.1 24.4h2.0v2.0h-2.0zM619.7 24.4h2.0v2.0h-2.0z"/><path fill="#164ede" d="M621.4 22.6h2.0v2.0h-2.0zM624.7 22.7h2.0v2.0h-2.0z"/><path fill="#0f5deb" d="M622.7 27.4h2.0v2.0h-2.0zM649.0 27.4h2.0v2.0h-2.0z"/><path fill="#0f5bea" d="M627.3 27.0h2.0v2.0h-2.0zM650.8 26.8h2.0v2.0h-2.0z"/><path fill="#0e5eec" d="M626.8 27.8h2.0v2.0h-2.0zM629.4 27.8h2.0v2.0h-2.0z"/><path fill="#0e5fec" d="M634.8 28.0h2.0v2.0h-2.0z"/><path fill="#0e5fed" d="M631.6 28.2h2.0v2.0h-2.0z"/><path fill="#0e61ed" d="M629.0 28.5h2.0v2.0h-2.0z"/><path fill="#0d64f0" d="M632.7 29.7h2.0v2.0h-2.0zM640.3 29.6h2.0v2.0h-2.0zM652.0 29.6h2.0v2.0h-2.0z"/><path fill="#105ae9" d="M632.7 26.4h2.0v2.0h-2.0z"/><path fill="#0d62ee" d="M631.5 29.0h2.0v2.0h-2.0z"/><path fill="#0b6af4" d="M635.7 31.5h2.0v2.0h-2.0z"/><path fill="#1059e9" d="M637.4 26.3h2.0v2.0h-2.0z"/><path fill="#0e60ed" d="M636.2 28.5h2.0v2.0h-2.0z"/><path fill="#0a6ef6" d="M633.9 32.7h2.0v2.0h-2.0zM609.2 32.7h2.0v2.0h-2.0z"/><path fill="#0b70f5" d="M643.9 33.3h2.0v2.0h-2.0zM642.9 33.1h2.0v2.0h-2.0zM606.0 33.2h2.0v2.0h-2.0z"/><path fill="#0a6ff6" d="M641.2 32.9h2.0v2.0h-2.0zM653.2 32.8h2.0v2.0h-2.0z"/><path fill="#0c73f4" d="M640.2 34.2h2.0v2.0h-2.0zM652.5 34.2h2.0v2.0h-2.0z"/><path fill="#0f7ef1" d="M647.0 37.6h2.0v2.0h-2.0zM646.5 37.6h2.0v2.0h-2.0zM657.5 37.6h2.0v2.0h-2.0z"/><path fill="#107ff0" d="M648.5 37.8h2.0v2.0h-2.0z"/><path fill="#0a6df5" d="M648.8 32.2h2.0v2.0h-2.0z"/><path fill="#0b6bf4" d="M650.4 31.7h2.0v2.0h-2.0zM612.5 31.9h2.0v2.0h-2.0z"/><path fill="#0b71f5" d="M648.6 33.6h2.0v2.0h-2.0zM608.4 33.6h2.0v2.0h-2.0z"/><path fill="#0d77f3" d="M654.4 35.3h2.0v2.0h-2.0z"/><path fill="#0e7af2" d="M656.2 36.3h2.0v2.0h-2.0z"/><path fill="#0f7df1" d="M653.7 37.2h2.0v2.0h-2.0zM653.8 37.2h2.0v2.0h-2.0z"/><path fill="#faff11" d="M656.4 95.5h2.0v2.0h-2.0z"/><path fill="#c9f570" d="M654.2 84.8h2.0v2.0h-2.0z"/><path fill="#13f0c7" d="M655.2 73.5h2.0v2.0h-2.0z"/><path fill="#00d4f8" d="M653.2 62.0h2.0v2.0h-2.0z"/><path fill="#ffff01" d="M656.3 98.3h2.0v2.0h-2.0z"/><path fill="#eafe3c" d="M656.0 89.5h2.0v2.0h-2.0z"/><path fill="#0ea5f8" d="M656.1 49.5h2.0v2.0h-2.0zM582.0 49.5h2.0v2.0h-2.0z"/><path fill="#41f0b6" d="M656.2 76.0h2.0v2.0h-2.0zM552.4 76.0h2.0v2.0h-2.0zM566.1 76.0h2.0v2.0h-2.0z"/><path fill="#07b5f8" d="M652.3 53.5h2.0v2.0h-2.0z"/><path fill="#00cbf8" d="M654.9 59.1h2.0v2.0h-2.0z"/><path fill="#67f0a9" d="M654.7 78.0h2.0v2.0h-2.0z"/><path fill="#02c3f8" d="M656.1 57.0h2.0v2.0h-2.0zM543.8 56.9h2.0v2.0h-2.0z"/><path fill="#ffe700" d="M657.6 104.6h2.0v2.0h-2.0z"/><path fill="#0fa2f8" d="M654.9 48.5h2.0v2.0h-2.0z"/><path fill="#00f4f1" d="M654.0 67.7h2.0v2.0h-2.0z"/><path fill="#05f6e5" d="M654.4 69.7h2.0v2.0h-2.0z"/><path fill="#fcff0b" d="M655.0 96.7h2.0v2.0h-2.0z"/><path fill="#108af3" d="M654.9 41.3h2.0v2.0h-2.0z"/><path fill="#ffe900" d="M655.6 104.1h2.0v2.0h-2.0z"/><path fill="#09b1f8" d="M656.3 52.3h2.0v2.0h-2.0zM549.5 52.3h2.0v2.0h-2.0z"/><path fill="#c4f572" d="M652.7 84.3h2.0v2.0h-2.0z"/><path fill="#00d1f8" d="M652.6 61.0h2.0v2.0h-2.0zM573.8 61.0h2.0v2.0h-2.0zM563.5 60.9h2.0v2.0h-2.0z"/><path fill="#02c4f8" d="M654.1 57.2h2.0v2.0h-2.0z"/><path fill="#06b9f8" d="M654.3 54.3h2.0v2.0h-2.0zM578.3 54.4h2.0v2.0h-2.0z"/><path fill="#f0ff2f" d="M654.8 90.6h2.0v2.0h-2.0z"/><path fill="#5df0ad" d="M656.7 77.5h2.0v2.0h-2.0zM570.9 77.5h2.0v2.0h-2.0z"/><path fill="#b1f07f" d="M653.5 82.4h2.0v2.0h-2.0z"/><path fill="#dafa5b" d="M653.0 87.0h2.0v2.0h-2.0zM654.7 87.0h2.0v2.0h-2.0z"/><path fill="#ffee00" d="M659.4 103.0h2.0v2.0h-2.0z"/><path fill="#40f0b7" d="M656.8 75.9h2.0v2.0h-2.0zM552.6 75.9h2.0v2.0h-2.0z"/><path fill="#04bef8" d="M653.5 55.7h2.0v2.0h-2.0z"/><path fill="#98f090" d="M654.9 80.9h2.0v2.0h-2.0z"/><path fill="#02c2f8" d="M658.4 56.6h2.0v2.0h-2.0zM572.4 56.6h2.0v2.0h-2.0z"/><path fill="#1093f5" d="M655.9 44.2h2.0v2.0h-2.0zM653.8 44.1h2.0v2.0h-2.0z"/><path fill="#1094f5" d="M654.4 44.5h2.0v2.0h-2.0z"/><path fill="#e7fd42" d="M656.7 89.0h2.0v2.0h-2.0z"/><path fill="#00d7f8" d="M656.0 63.0h2.0v2.0h-2.0zM564.1 62.9h2.0v2.0h-2.0z"/><path fill="#f8ff16" d="M652.0 94.8h2.0v2.0h-2.0zM545.2 94.8h2.0v2.0h-2.0z"/><path fill="#00cdf8" d="M658.9 59.9h2.0v2.0h-2.0z"/><path fill="#bef377" d="M656.9 83.7h2.0v2.0h-2.0zM556.6 83.7h2.0v2.0h-2.0z"/><path fill="#ffe800" d="M655.1 104.4h2.0v2.0h-2.0z"/><path fill="#aef081" d="M654.4 82.2h2.0v2.0h-2.0z"/><path fill="#eafe3b" d="M652.2 89.6h2.0v2.0h-2.0z"/><path fill="#05bbf8" d="M655.4 54.9h2.0v2.0h-2.0z"/><path fill="#10f0c9" d="M654.1 73.3h2.0v2.0h-2.0zM575.9 73.2h2.0v2.0h-2.0zM556.5 73.2h2.0v2.0h-2.0z"/><path fill="#e0fb50" d="M653.4 87.9h2.0v2.0h-2.0z"/><path fill="#f3ff27" d="M654.0 91.9h2.0v2.0h-2.0z"/><path fill="#07f4de" d="M658.7 70.6h2.0v2.0h-2.0z"/><path fill="#eefe35" d="M654.2 90.1h2.0v2.0h-2.0z"/><path fill="#08b3f8" d="M657.0 53.0h2.0v2.0h-2.0z"/><path fill="#baf279" d="M657.6 83.4h2.0v2.0h-2.0z"/><path fill="#f9ff14" d="M655.4 95.2h2.0v2.0h-2.0z"/><path fill="#fff500" d="M656.5 101.1h2.0v2.0h-2.0z"/><path fill="#ffea00" d="M653.6 103.9h2.0v2.0h-2.0zM540.7 104.0h2.0v2.0h-2.0z"/><path fill="#00e8f4" d="M655.5 65.8h2.0v2.0h-2.0zM556.6 65.8h2.0v2.0h-2.0z"/><path fill="#1086f2" d="M653.7 40.1h2.0v2.0h-2.0zM589.9 40.1h2.0v2.0h-2.0z"/><path fill="#ffdb00" d="M653.8 107.6h2.0v2.0h-2.0z"/><path fill="#ffe500" d="M653.8 105.2h2.0v2.0h-2.0zM543.2 105.2h2.0v2.0h-2.0zM547.4 105.1h2.0v2.0h-2.0z"/><path fill="#ffdd00" d="M653.4 107.2h2.0v2.0h-2.0zM544.1 107.2h2.0v2.0h-2.0z"/><path fill="#ffe000" d="M651.1 106.5h2.0v2.0h-2.0z"/><path fill="#ffe400" d="M653.8 105.5h2.0v2.0h-2.0z"/><path fill="#ffd500" d="M649.5 109.1h2.0v2.0h-2.0z"/><path fill="#ffc500" d="M644.5 112.5h2.0v2.0h-2.0z"/><path fill="#ffce00" d="M648.1 110.7h2.0v2.0h-2.0z"/><path fill="#ffcd00" d="M645.0 110.9h2.0v2.0h-2.0z"/><path fill="#ffcf00" d="M650.3 110.6h2.0v2.0h-2.0z"/><path fill="#ffbd00" d="M645.3 114.4h2.0v2.0h-2.0zM654.2 114.5h2.0v2.0h-2.0z"/><path fill="#ffca00" d="M644.8 111.6h2.0v2.0h-2.0zM543.8 111.5h2.0v2.0h-2.0z"/><path fill="#ffb900" d="M638.9 115.5h2.0v2.0h-2.0z"/><path fill="#ffb500" d="M640.3 116.9h2.0v2.0h-2.0z"/><path fill="#ffcb00" d="M642.7 111.4h2.0v2.0h-2.0z"/><path fill="#ffb800" d="M642.4 115.8h2.0v2.0h-2.0zM547.6 115.8h2.0v2.0h-2.0zM537.0 116.0h2.0v2.0h-2.0z"/><path fill="#ffb200" d="M639.2 117.8h2.0v2.0h-2.0z"/><path fill="#ffb300" d="M640.6 117.4h2.0v2.0h-2.0zM547.8 117.4h2.0v2.0h-2.0z"/><path fill="#ffbb00" d="M638.5 115.1h2.0v2.0h-2.0z"/><path fill="#ffb700" d="M636.9 116.3h2.0v2.0h-2.0z"/><path fill="#ffab00" d="M634.6 119.8h2.0v2.0h-2.0z"/><path fill="#ffbe00" d="M632.1 114.2h2.0v2.0h-2.0z"/><path fill="#ffac00" d="M630.4 119.3h2.0v2.0h-2.0z"/><path fill="#ffa800" d="M636.5 120.5h2.0v2.0h-2.0zM549.6 120.5h2.0v2.0h-2.0z"/><path fill="#ffa600" d="M631.9 121.2h2.0v2.0h-2.0z"/><path fill="#ffb000" d="M635.9 118.4h2.0v2.0h-2.0z"/><path fill="#ffa200" d="M630.4 122.0h2.0v2.0h-2.0z"/><path fill="#ff9400" d="M625.9 125.6h2.0v2.0h-2.0z"/><path fill="#ff9500" d="M625.7 125.4h2.0v2.0h-2.0zM624.1 125.5h2.0v2.0h-2.0zM616.0 125.3h2.0v2.0h-2.0z"/><path fill="#ff9e00" d="M629.9 123.1h2.0v2.0h-2.0z"/><path fill="#ff9600" d="M629.5 125.2h2.0v2.0h-2.0z"/><path fill="#ff8a00" d="M627.0 128.1h2.0v2.0h-2.0zM602.0 128.2h2.0v2.0h-2.0z"/><path fill="#ff9b00" d="M628.2 123.8h2.0v2.0h-2.0zM556.5 124.0h2.0v2.0h-2.0z"/><path fill="#ff8800" d="M615.2 128.5h2.0v2.0h-2.0zM598.6 128.6h2.0v2.0h-2.0zM598.8 128.6h2.0v2.0h-2.0z"/><path fill="#ff7600" d="M605.7 132.4h2.0v2.0h-2.0z"/><path fill="#ff8900" d="M618.2 128.3h2.0v2.0h-2.0zM614.8 128.4h2.0v2.0h-2.0zM575.9 128.3h2.0v2.0h-2.0zM560.6 128.4h2.0v2.0h-2.0z"/><path fill="#ff9100" d="M623.6 126.5h2.0v2.0h-2.0z"/><path fill="#ff9300" d="M609.8 125.9h2.0v2.0h-2.0z"/><path fill="#ff9700" d="M620.7 124.8h2.0v2.0h-2.0z"/><path fill="#ff8200" d="M612.2 129.8h2.0v2.0h-2.0zM590.4 129.8h2.0v2.0h-2.0zM583.5 129.9h2.0v2.0h-2.0zM573.4 130.0h2.0v2.0h-2.0z"/><path fill="#ff8600" d="M614.7 129.1h2.0v2.0h-2.0zM582.9 129.2h2.0v2.0h-2.0zM573.7 129.1h2.0v2.0h-2.0z"/><path fill="#ff9000" d="M611.9 126.6h2.0v2.0h-2.0z"/><path fill="#ff8b00" d="M606.6 127.9h2.0v2.0h-2.0zM606.5 127.8h2.0v2.0h-2.0zM588.0 127.9h2.0v2.0h-2.0zM568.9 128.0h2.0v2.0h-2.0zM568.1 128.0h2.0v2.0h-2.0zM564.1 127.9h2.0v2.0h-2.0zM565.2 128.0h2.0v2.0h-2.0zM567.8 127.9h2.0v2.0h-2.0z"/><path fill="#ff8d00" d="M615.7 127.3h2.0v2.0h-2.0zM593.4 127.3h2.0v2.0h-2.0zM558.3 127.3h2.0v2.0h-2.0zM560.9 127.5h2.0v2.0h-2.0zM587.1 127.4h2.0v2.0h-2.0zM580.0 127.4h2.0v2.0h-2.0z"/><path fill="#ff8400" d="M606.7 129.5h2.0v2.0h-2.0zM593.0 129.5h2.0v2.0h-2.0zM571.3 129.5h2.0v2.0h-2.0zM598.0 129.4h2.0v2.0h-2.0z"/><path fill="#ff8700" d="M607.0 128.8h2.0v2.0h-2.0zM615.1 128.9h2.0v2.0h-2.0zM591.2 128.9h2.0v2.0h-2.0zM572.7 128.9h2.0v2.0h-2.0zM556.7 128.8h2.0v2.0h-2.0z"/><path fill="#ff8300" d="M618.5 129.7h2.0v2.0h-2.0zM592.6 129.7h2.0v2.0h-2.0zM587.0 129.7h2.0v2.0h-2.0z"/><path fill="#ff8100" d="M616.9 130.1h2.0v2.0h-2.0zM599.7 130.1h2.0v2.0h-2.0zM583.3 130.1h2.0v2.0h-2.0zM591.7 130.0h2.0v2.0h-2.0zM597.1 130.1h2.0v2.0h-2.0z"/><path fill="#ff8500" d="M600.5 129.3h2.0v2.0h-2.0zM585.6 129.2h2.0v2.0h-2.0zM587.8 129.3h2.0v2.0h-2.0zM578.3 129.2h2.0v2.0h-2.0zM575.4 129.2h2.0v2.0h-2.0zM580.5 129.3h2.0v2.0h-2.0zM594.0 129.3h2.0v2.0h-2.0zM569.1 129.2h2.0v2.0h-2.0z"/><path fill="#ff8000" d="M595.8 130.3h2.0v2.0h-2.0zM596.2 130.3h2.0v2.0h-2.0zM573.9 130.3h2.0v2.0h-2.0zM573.9 130.3h2.0v2.0h-2.0z"/><path fill="#ff8f00" d="M588.2 126.8h2.0v2.0h-2.0z"/><path fill="#ff8c00" d="M587.3 127.5h2.0v2.0h-2.0zM594.5 127.5h2.0v2.0h-2.0zM577.3 127.7h2.0v2.0h-2.0zM564.5 127.7h2.0v2.0h-2.0z"/><path fill="#ff7b00" d="M580.6 131.3h2.0v2.0h-2.0zM589.0 131.4h2.0v2.0h-2.0zM594.6 131.4h2.0v2.0h-2.0z"/><path fill="#ff7a00" d="M568.2 131.5h2.0v2.0h-2.0z"/><path fill="#ff7f00" d="M577.9 130.6h2.0v2.0h-2.0z"/><path fill="#ff7e00" d="M580.1 130.8h2.0v2.0h-2.0zM651.0 130.7h2.0v2.0h-2.0zM611.0 130.7h2.0v2.0h-2.0zM617.0 130.7h2.0v2.0h-2.0zM623.0 130.7h2.0v2.0h-2.0zM629.0 130.7h2.0v2.0h-2.0zM638.0 130.7h2.0v2.0h-2.0z"/><path fill="#ff9f00" d="M559.7 123.0h2.0v2.0h-2.0zM556.8 122.9h2.0v2.0h-2.0z"/><path fill="#ff9d00" d="M561.2 123.5h2.0v2.0h-2.0zM555.0 123.3h2.0v2.0h-2.0zM551.8 123.4h2.0v2.0h-2.0zM552.2 123.3h2.0v2.0h-2.0z"/><path fill="#ffa300" d="M551.2 121.8h2.0v2.0h-2.0z"/><path fill="#ffb600" d="M549.1 116.5h2.0v2.0h-2.0zM654.2 116.5h2.0v2.0h-2.0z"/><path fill="#ffb400" d="M549.5 117.0h2.0v2.0h-2.0z"/><path fill="#ffa500" d="M551.0 121.4h2.0v2.0h-2.0z"/><path fill="#ffaf00" d="M550.1 118.5h2.0v2.0h-2.0z"/><path fill="#ffba00" d="M546.4 115.2h2.0v2.0h-2.0z"/><path fill="#ffd600" d="M543.3 108.8h2.0v2.0h-2.0zM541.0 109.0h2.0v2.0h-2.0z"/><path fill="#ffbc00" d="M545.7 114.8h2.0v2.0h-2.0z"/><path fill="#ffdf00" d="M547.7 106.7h2.0v2.0h-2.0z"/><path fill="#ffcc00" d="M546.1 111.2h2.0v2.0h-2.0z"/><path fill="#fff700" d="M542.5 100.5h2.0v2.0h-2.0z"/><path fill="#fffa00" d="M546.9 99.6h2.0v2.0h-2.0z"/><path fill="#fff200" d="M544.1 101.9h2.0v2.0h-2.0z"/><path fill="#fff400" d="M540.8 101.2h2.0v2.0h-2.0z"/><path fill="#fffc00" d="M541.3 99.2h2.0v2.0h-2.0z"/><path fill="#f7ff1b" d="M543.7 94.0h2.0v2.0h-2.0z"/><path fill="#f8ff18" d="M542.5 94.5h2.0v2.0h-2.0z"/><path fill="#f4ff22" d="M545.6 92.8h2.0v2.0h-2.0z"/><path fill="#f2ff28" d="M541.7 91.7h2.0v2.0h-2.0z"/><path fill="#f5ff20" d="M545.7 93.1h2.0v2.0h-2.0z"/><path fill="#f4ff24" d="M547.4 92.5h2.0v2.0h-2.0z"/><path fill="#ecfe38" d="M546.7 89.8h2.0v2.0h-2.0z"/><path fill="#e1fb4e" d="M544.7 88.0h2.0v2.0h-2.0zM545.9 88.0h2.0v2.0h-2.0z"/><path fill="#e3fc4a" d="M545.7 88.3h2.0v2.0h-2.0z"/><path fill="#f2ff2b" d="M547.0 91.3h2.0v2.0h-2.0z"/><path fill="#dffb51" d="M548.5 87.7h2.0v2.0h-2.0z"/><path fill="#8df098" d="M553.7 80.1h2.0v2.0h-2.0z"/><path fill="#71f0a5" d="M554.1 78.6h2.0v2.0h-2.0zM568.9 78.6h2.0v2.0h-2.0z"/><path fill="#bff376" d="M551.7 83.8h2.0v2.0h-2.0z"/><path fill="#a2f089" d="M550.6 81.5h2.0v2.0h-2.0z"/><path fill="#b3f17e" d="M548.2 82.6h2.0v2.0h-2.0zM553.3 82.6h2.0v2.0h-2.0z"/><path fill="#8df097" d="M554.7 80.2h2.0v2.0h-2.0z"/><path fill="#b7f27b" d="M552.5 83.0h2.0v2.0h-2.0z"/><path fill="#c1f475" d="M549.8 84.0h2.0v2.0h-2.0z"/><path fill="#77f0a3" d="M557.5 78.9h2.0v2.0h-2.0z"/><path fill="#64f0aa" d="M559.7 77.9h2.0v2.0h-2.0zM552.7 77.9h2.0v2.0h-2.0z"/><path fill="#61f0ab" d="M555.2 77.7h2.0v2.0h-2.0z"/><path fill="#2ff0bd" d="M555.5 75.0h2.0v2.0h-2.0zM545.5 75.0h2.0v2.0h-2.0z"/><path fill="#74f0a4" d="M563.4 78.7h2.0v2.0h-2.0z"/><path fill="#66f0a9" d="M561.4 78.0h2.0v2.0h-2.0z"/><path fill="#2ef0bd" d="M564.7 74.9h2.0v2.0h-2.0zM558.6 75.0h2.0v2.0h-2.0z"/><path fill="#2cf0be" d="M564.1 74.9h2.0v2.0h-2.0zM576.1 74.9h2.0v2.0h-2.0z"/><path fill="#2af0bf" d="M564.7 74.7h2.0v2.0h-2.0z"/><path fill="#3df0b8" d="M568.4 75.8h2.0v2.0h-2.0z"/><path fill="#21f0c2" d="M569.3 74.3h2.0v2.0h-2.0zM556.8 74.3h2.0v2.0h-2.0z"/><path fill="#20f0c2" d="M569.6 74.2h2.0v2.0h-2.0z"/><path fill="#4df0b2" d="M568.1 76.6h2.0v2.0h-2.0z"/><path fill="#4ff0b1" d="M565.5 76.7h2.0v2.0h-2.0z"/><path fill="#4af0b3" d="M570.3 76.5h2.0v2.0h-2.0z"/><path fill="#5ef0ac" d="M569.1 77.5h2.0v2.0h-2.0zM554.5 77.5h2.0v2.0h-2.0z"/><path fill="#17f0c6" d="M569.9 73.7h2.0v2.0h-2.0z"/><path fill="#01f7ed" d="M578.7 68.6h2.0v2.0h-2.0zM554.3 68.6h2.0v2.0h-2.0zM577.3 68.7h2.0v2.0h-2.0z"/><path fill="#1ef0c3" d="M576.9 74.1h2.0v2.0h-2.0zM568.9 74.1h2.0v2.0h-2.0zM576.2 74.1h2.0v2.0h-2.0z"/><path fill="#00f8ef" d="M578.2 68.4h2.0v2.0h-2.0z"/><path fill="#10f0c8" d="M576.5 73.3h2.0v2.0h-2.0z"/><path fill="#0cf2d3" d="M576.3 72.0h2.0v2.0h-2.0zM577.1 71.9h2.0v2.0h-2.0zM571.1 72.0h2.0v2.0h-2.0z"/><path fill="#00caf8" d="M580.0 58.9h2.0v2.0h-2.0z"/><path fill="#0bacf8" d="M580.1 51.0h2.0v2.0h-2.0zM546.5 51.2h2.0v2.0h-2.0z"/><path fill="#00e2f6" d="M579.6 64.8h2.0v2.0h-2.0zM579.8 64.8h2.0v2.0h-2.0z"/><path fill="#03c0f8" d="M580.3 56.2h2.0v2.0h-2.0z"/><path fill="#00d2f8" d="M582.1 61.5h2.0v2.0h-2.0z"/><path fill="#00ebf3" d="M579.8 66.3h2.0v2.0h-2.0z"/><path fill="#00f3f1" d="M576.8 67.4h2.0v2.0h-2.0z"/><path fill="#00ecf3" d="M581.6 66.3h2.0v2.0h-2.0z"/><path fill="#00d5f8" d="M581.6 62.2h2.0v2.0h-2.0zM555.8 62.2h2.0v2.0h-2.0z"/><path fill="#00f2f1" d="M576.0 67.3h2.0v2.0h-2.0z"/><path fill="#06baf8" d="M579.1 54.6h2.0v2.0h-2.0z"/><path fill="#08b5f8" d="M577.3 53.4h2.0v2.0h-2.0z"/><path fill="#09b2f8" d="M582.4 52.7h2.0v2.0h-2.0z"/><path fill="#00dff6" d="M577.8 64.3h2.0v2.0h-2.0zM556.5 64.4h2.0v2.0h-2.0z"/><path fill="#00d8f8" d="M581.3 63.3h2.0v2.0h-2.0z"/><path fill="#0caaf8" d="M579.1 50.6h2.0v2.0h-2.0z"/><path fill="#0ab0f8" d="M554.5 52.2h2.0v2.0h-2.0zM552.7 52.1h2.0v2.0h-2.0z"/><path fill="#00dbf7" d="M571.0 63.7h2.0v2.0h-2.0z"/><path fill="#06f5e2" d="M554.2 70.1h2.0v2.0h-2.0zM573.1 70.1h2.0v2.0h-2.0z"/><path fill="#09f4da" d="M564.6 71.0h2.0v2.0h-2.0zM546.0 71.0h2.0v2.0h-2.0z"/><path fill="#00e5f5" d="M559.3 65.3h2.0v2.0h-2.0z"/><path fill="#0cf2d2" d="M566.9 72.1h2.0v2.0h-2.0z"/><path fill="#00c8f8" d="M551.1 58.1h2.0v2.0h-2.0z"/><path fill="#03c1f8" d="M575.9 56.3h2.0v2.0h-2.0zM562.6 56.3h2.0v2.0h-2.0z"/><path fill="#02f7eb" d="M541.4 68.8h2.0v2.0h-2.0zM574.1 68.9h2.0v2.0h-2.0z"/><path fill="#109cf7" d="M578.8 46.9h2.0v2.0h-2.0zM560.6 47.1h2.0v2.0h-2.0z"/><path fill="#109af6" d="M576.9 46.2h2.0v2.0h-2.0z"/><path fill="#08b4f8" d="M565.3 53.1h2.0v2.0h-2.0z"/><path fill="#0badf8" d="M543.1 51.4h2.0v2.0h-2.0z"/><path fill="#0da8f8" d="M544.8 50.3h2.0v2.0h-2.0z"/><path fill="#07b7f8" d="M548.6 54.0h2.0v2.0h-2.0zM533.3 54.0h2.0v2.0h-2.0z"/><path fill="#0af3d8" d="M555.3 71.3h2.0v2.0h-2.0z"/><path fill="#03f7e9" d="M558.8 69.2h2.0v2.0h-2.0zM574.0 69.1h2.0v2.0h-2.0z"/><path fill="#07b6f8" d="M542.4 53.7h2.0v2.0h-2.0z"/><path fill="#04bff8" d="M574.2 55.9h2.0v2.0h-2.0zM557.7 55.9h2.0v2.0h-2.0z"/><path fill="#00ddf7" d="M568.8 64.0h2.0v2.0h-2.0z"/><path fill="#05f5e3" d="M547.4 69.9h2.0v2.0h-2.0zM569.7 69.9h2.0v2.0h-2.0z"/><path fill="#0cabf8" d="M537.1 50.8h2.0v2.0h-2.0z"/><path fill="#01f8ee" d="M562.1 68.5h2.0v2.0h-2.0z"/><path fill="#00d3f8" d="M540.9 61.6h2.0v2.0h-2.0z"/><path fill="#00d0f8" d="M538.7 60.6h2.0v2.0h-2.0z"/><path fill="#00e6f5" d="M554.5 65.4h2.0v2.0h-2.0z"/><path fill="#0ef1ce" d="M563.4 72.6h2.0v2.0h-2.0zM554.6 72.6h2.0v2.0h-2.0z"/><path fill="#07f5df" d="M549.6 70.5h2.0v2.0h-2.0z"/><path fill="#93f093" d="M560.3 80.6h2.0v2.0h-2.0z"/><path fill="#39f0b9" d="M573.8 75.5h2.0v2.0h-2.0zM570.7 75.6h2.0v2.0h-2.0z"/><path fill="#8af099" d="M562.3 80.0h2.0v2.0h-2.0zM563.3 80.0h2.0v2.0h-2.0zM551.3 80.0h2.0v2.0h-2.0z"/><path fill="#69f0a8" d="M551.5 78.1h2.0v2.0h-2.0zM571.6 78.1h2.0v2.0h-2.0z"/><path fill="#0ff1cb" d="M580.0 73.0h2.0v2.0h-2.0z"/><path fill="#33f0bc" d="M562.1 75.2h2.0v2.0h-2.0z"/><path fill="#87f09b" d="M566.0 79.8h2.0v2.0h-2.0zM567.5 79.8h2.0v2.0h-2.0z"/><path fill="#4cf0b2" d="M551.4 76.6h2.0v2.0h-2.0z"/><path fill="#14f0c6" d="M573.0 73.6h2.0v2.0h-2.0z"/><path fill="#3af0b9" d="M554.5 75.6h2.0v2.0h-2.0z"/><path fill="#33f0bb" d="M558.2 75.2h2.0v2.0h-2.0z"/><path fill="#73f0a5" d="M573.7 78.6h2.0v2.0h-2.0zM565.8 78.7h2.0v2.0h-2.0z"/><path fill="#0bf2d4" d="M567.5 71.8h2.0v2.0h-2.0zM576.0 71.9h2.0v2.0h-2.0z"/><path fill="#88f09b" d="M555.9 79.8h2.0v2.0h-2.0z"/><path fill="#0ff0ca" d="M563.8 73.1h2.0v2.0h-2.0zM551.7 73.1h2.0v2.0h-2.0zM569.9 73.1h2.0v2.0h-2.0z"/><path fill="#8bf099" d="M565.9 80.0h2.0v2.0h-2.0z"/><path fill="#9ef08c" d="M554.2 81.2h2.0v2.0h-2.0z"/><path fill="#6ef0a6" d="M574.8 78.4h2.0v2.0h-2.0z"/><path fill="#3cf0b8" d="M569.8 75.7h2.0v2.0h-2.0z"/><path fill="#bcf378" d="M551.1 83.5h2.0v2.0h-2.0z"/><path fill="#46f0b5" d="M569.5 76.3h2.0v2.0h-2.0zM570.6 76.2h2.0v2.0h-2.0z"/><path fill="#7af0a2" d="M566.9 79.1h2.0v2.0h-2.0z"/><path fill="#51f0b1" d="M567.2 76.8h2.0v2.0h-2.0z"/><path fill="#0df1ce" d="M559.5 72.5h2.0v2.0h-2.0z"/><path fill="#70f0a6" d="M572.6 78.5h2.0v2.0h-2.0z"/><path fill="#bbf378" d="M553.2 83.5h2.0v2.0h-2.0zM554.5 83.5h2.0v2.0h-2.0z"/><path fill="#d2f869" d="M549.3 85.7h2.0v2.0h-2.0z"/><path fill="#15f0c6" d="M564.7 73.6h2.0v2.0h-2.0z"/><path fill="#6af0a8" d="M560.8 78.2h2.0v2.0h-2.0z"/><path fill="#06f5e0" d="M579.7 70.2h2.0v2.0h-2.0zM576.1 70.3h2.0v2.0h-2.0z"/><path fill="#55f0af" d="M579.9 77.1h2.0v2.0h-2.0z"/><path fill="#31f0bc" d="M554.4 75.1h2.0v2.0h-2.0z"/><path fill="#68f0a9" d="M551.9 78.1h2.0v2.0h-2.0z"/><path fill="#c9f66f" d="M550.9 84.9h2.0v2.0h-2.0z"/><path fill="#96f092" d="M553.9 80.7h2.0v2.0h-2.0z"/><path fill="#7bf0a2" d="M558.5 79.1h2.0v2.0h-2.0zM567.1 79.1h2.0v2.0h-2.0z"/><path fill="#5af0ae" d="M570.6 77.3h2.0v2.0h-2.0zM573.7 77.3h2.0v2.0h-2.0z"/><path fill="#89f09a" d="M565.0 79.9h2.0v2.0h-2.0zM564.1 79.9h2.0v2.0h-2.0z"/><path fill="#0df1cf" d="M577.6 72.5h2.0v2.0h-2.0z"/><path fill="#3bf0b9" d="M577.5 75.7h2.0v2.0h-2.0zM560.1 75.7h2.0v2.0h-2.0z"/><path fill="#80f0a0" d="M550.3 79.3h2.0v2.0h-2.0z"/><path fill="#36f0bb" d="M555.7 75.4h2.0v2.0h-2.0z"/><path fill="#18f0c5" d="M553.5 73.8h2.0v2.0h-2.0z"/><path fill="#44f0b6" d="M578.5 76.1h2.0v2.0h-2.0z"/><path fill="#63f0aa" d="M560.5 77.8h2.0v2.0h-2.0z"/><path fill="#53f0b0" d="M562.2 76.9h2.0v2.0h-2.0z"/><path fill="#5bf0ad" d="M562.3 77.4h2.0v2.0h-2.0z"/><path fill="#7ff0a0" d="M556.7 79.3h2.0v2.0h-2.0z"/><path fill="#0df2d0" d="M560.8 72.3h2.0v2.0h-2.0zM575.1 72.3h2.0v2.0h-2.0zM555.7 72.3h2.0v2.0h-2.0z"/><path fill="#26f0c0" d="M565.7 74.5h2.0v2.0h-2.0z"/><path fill="#a3f089" d="M551.6 81.5h2.0v2.0h-2.0z"/><path fill="#0ef1cc" d="M573.5 72.8h2.0v2.0h-2.0z"/><path fill="#09f3d9" d="M574.8 71.1h2.0v2.0h-2.0zM564.3 71.2h2.0v2.0h-2.0zM572.5 71.2h2.0v2.0h-2.0z"/><path fill="#47f0b4" d="M563.7 76.3h2.0v2.0h-2.0zM573.8 76.3h2.0v2.0h-2.0z"/><path fill="#72f0a5" d="M576.9 78.6h2.0v2.0h-2.0z"/><path fill="#b0f080" d="M555.5 82.4h2.0v2.0h-2.0z"/><path fill="#0cf2d1" d="M563.5 72.2h2.0v2.0h-2.0z"/><path fill="#caf66e" d="M551.1 84.9h2.0v2.0h-2.0z"/><path fill="#50f0b1" d="M571.4 76.8h2.0v2.0h-2.0z"/><path fill="#19f0c5" d="M565.3 73.8h2.0v2.0h-2.0z"/><path fill="#84f09d" d="M559.2 79.6h2.0v2.0h-2.0z"/><path fill="#5ff0ac" d="M573.6 77.6h2.0v2.0h-2.0z"/><path fill="#48f0b4" d="M568.6 76.3h2.0v2.0h-2.0z"/><path fill="#c7f570" d="M550.7 84.7h2.0v2.0h-2.0z"/><path fill="#0ff1cc" d="M555.8 72.9h2.0v2.0h-2.0z"/><path fill="#aff081" d="M554.9 82.3h2.0v2.0h-2.0z"/><path fill="#0df2d1" d="M574.5 72.3h2.0v2.0h-2.0z"/><path fill="#1845d6" d="M618.1 20.1h2.0v2.0h-2.0z"/><path fill="#1a48d8" d="M620.5 20.4h2.0v2.0h-2.0zM619.1 20.4h2.0v2.0h-2.0z"/><path fill="#1255e5" d="M622.5 25.1h2.0v2.0h-2.0zM634.2 25.1h2.0v2.0h-2.0zM654.0 24.8h2.0v2.0h-2.0z"/><path fill="#1353e3" d="M622.7 24.3h2.0v2.0h-2.0zM634.8 24.3h2.0v2.0h-2.0zM629.4 24.3h2.0v2.0h-2.0z"/><path fill="#1451e1" d="M621.6 23.7h2.0v2.0h-2.0zM634.9 23.7h2.0v2.0h-2.0z"/><path fill="#184bdb" d="M623.3 21.3h2.0v2.0h-2.0z"/><path fill="#194ada" d="M628.6 21.1h2.0v2.0h-2.0z"/><path fill="#1452e2" d="M633.1 24.0h2.0v2.0h-2.0z"/><path fill="#1550e0" d="M631.5 23.3h2.0v2.0h-2.0zM654.4 23.3h2.0v2.0h-2.0z"/><path fill="#0f5ceb" d="M630.0 27.2h2.0v2.0h-2.0zM651.9 27.2h2.0v2.0h-2.0z"/><path fill="#0b6af3" d="M654.4 31.3h2.0v2.0h-2.0zM608.0 31.3h2.0v2.0h-2.0z"/><path fill="#1157e7" d="M651.1 25.6h2.0v2.0h-2.0z"/><path fill="#0e61ee" d="M611.2 28.6h2.0v2.0h-2.0z"/><path fill="#108bf3" d="M586.0 41.5h2.0v2.0h-2.0zM588.8 41.7h2.0v2.0h-2.0zM598.7 41.6h2.0v2.0h-2.0z"/><path fill="#1085f1" d="M596.4 39.6h2.0v2.0h-2.0z"/><path fill="#f53b00" d="M582.5 144.5h2.0v2.0h-2.0z"/><path fill="#ff7d00" d="M576.9 131.0h2.0v2.0h-2.0zM578.6 131.0h2.0v2.0h-2.0zM596.2 131.0h2.0v2.0h-2.0z"/><path fill="#ff6a00" d="M590.7 135.0h2.0v2.0h-2.0z"/><path fill="#f23400" d="M590.3 145.5h2.0v2.0h-2.0zM575.0 145.6h2.0v2.0h-2.0z"/><path fill="#ff6b00" d="M587.6 134.7h2.0v2.0h-2.0zM622.7 134.6h2.0v2.0h-2.0z"/><path fill="#ff7800" d="M593.3 131.9h2.0v2.0h-2.0z"/><path fill="#ff6700" d="M570.6 135.5h2.0v2.0h-2.0z"/><path fill="#ff6600" d="M587.0 135.8h2.0v2.0h-2.0z"/><path fill="#e51b00" d="M591.2 149.8h2.0v2.0h-2.0z"/><path fill="#f43900" d="M574.4 144.8h2.0v2.0h-2.0z"/><path fill="#f94500" d="M577.6 142.6h2.0v2.0h-2.0z"/><path fill="#e82000" d="M588.7 148.8h2.0v2.0h-2.0zM574.9 148.9h2.0v2.0h-2.0zM580.2 148.8h2.0v2.0h-2.0z"/><path fill="#ff5e00" d="M594.9 137.5h2.0v2.0h-2.0z"/><path fill="#fa4700" d="M583.5 142.1h2.0v2.0h-2.0z"/><path fill="#fc4f00" d="M590.4 140.7h2.0v2.0h-2.0z"/><path fill="#ec2900" d="M578.6 147.4h2.0v2.0h-2.0z"/><path fill="#e82100" d="M578.8 148.7h2.0v2.0h-2.0z"/><path fill="#f13100" d="M592.6 146.0h2.0v2.0h-2.0z"/><path fill="#f53a00" d="M579.1 144.6h2.0v2.0h-2.0z"/><path fill="#f13200" d="M581.9 145.9h2.0v2.0h-2.0z"/><path fill="#ff6500" d="M595.4 136.0h2.0v2.0h-2.0zM589.0 136.0h2.0v2.0h-2.0zM633.3 136.0h2.0v2.0h-2.0z"/><path fill="#fe5500" d="M583.5 139.3h2.0v2.0h-2.0z"/><path fill="#ff8e00" d="M570.0 127.0h2.0v2.0h-2.0zM591.5 127.1h2.0v2.0h-2.0z"/><path fill="#fe5600" d="M583.8 139.1h2.0v2.0h-2.0zM575.4 139.2h2.0v2.0h-2.0z"/><path fill="#ff7100" d="M594.3 133.5h2.0v2.0h-2.0z"/><path fill="#f73e00" d="M584.3 144.0h2.0v2.0h-2.0zM579.6 143.9h2.0v2.0h-2.0z"/><path fill="#ea2400" d="M588.5 148.1h2.0v2.0h-2.0z"/><path fill="#ff7200" d="M592.9 133.3h2.0v2.0h-2.0zM579.7 133.3h2.0v2.0h-2.0z"/><path fill="#fd5200" d="M587.6 139.9h2.0v2.0h-2.0zM584.1 140.0h2.0v2.0h-2.0z"/><path fill="#f02f00" d="M590.9 146.4h2.0v2.0h-2.0zM578.6 146.4h2.0v2.0h-2.0z"/><path fill="#ff6400" d="M591.6 136.2h2.0v2.0h-2.0z"/><path fill="#ff5800" d="M580.4 138.7h2.0v2.0h-2.0z"/><path fill="#f84000" d="M589.4 143.5h2.0v2.0h-2.0z"/><path fill="#fa4800" d="M589.2 142.0h2.0v2.0h-2.0z"/><path fill="#f33500" d="M583.3 145.4h2.0v2.0h-2.0z"/><path fill="#ff7c00" d="M590.0 131.0h2.0v2.0h-2.0z"/><path fill="#ff7000" d="M597.2 133.5h2.0v2.0h-2.0z"/><path fill="#ff6800" d="M572.6 135.4h2.0v2.0h-2.0z"/><path fill="#e92200" d="M582.4 148.5h2.0v2.0h-2.0z"/><path fill="#fb4a00" d="M584.8 141.6h2.0v2.0h-2.0z"/><path fill="#ee2c00" d="M578.3 147.0h2.0v2.0h-2.0z"/><path fill="#fb4c00" d="M584.8 141.2h2.0v2.0h-2.0z"/><path fill="#ee2b00" d="M586.1 147.0h2.0v2.0h-2.0z"/><path fill="#ff6d00" d="M576.4 134.3h2.0v2.0h-2.0zM594.6 134.2h2.0v2.0h-2.0z"/><path fill="#ff7900" d="M575.7 131.8h2.0v2.0h-2.0zM594.2 131.7h2.0v2.0h-2.0z"/><path fill="#fb4900" d="M578.0 141.8h2.0v2.0h-2.0z"/><path fill="#ff7400" d="M594.7 132.7h2.0v2.0h-2.0zM588.0 132.7h2.0v2.0h-2.0z"/><path fill="#f43800" d="M580.2 144.9h2.0v2.0h-2.0z"/><path fill="#ff7700" d="M577.5 132.1h2.0v2.0h-2.0z"/><path fill="#ff6100" d="M572.2 136.8h2.0v2.0h-2.0z"/><path fill="#d80900" d="M579.0 153.5h2.0v2.0h-2.0z"/><path fill="#d70700" d="M582.0 154.0h2.0v2.0h-2.0zM589.0 154.0h2.0v2.0h-2.0z"/><path fill="#d70800" d="M586.0 153.8h2.0v2.0h-2.0z"/><path fill="#d80800" d="M595.0 153.6h2.0v2.0h-2.0z"/><path fill="#0018b8" d="M592.4 11.2h2.0v2.0h-2.0z"/><path fill="#0119b9" d="M621.4 15.0h2.0v2.0h-2.0zM651.0 15.0h2.0v2.0h-2.0z"/><path fill="#133cd0" d="M653.0 19.0h2.0v2.0h-2.0z"/><path fill="#03bff8" d="M539.0 56.0h2.0v2.0h-2.0z"/><path fill="#00f0f2" d="M543.0 67.0h2.0v2.0h-2.0z"/><path fill="#54f0b0" d="M543.0 77.0h2.0v2.0h-2.0z"/><path fill="#f5ff21" d="M535.0 93.0h2.0v2.0h-2.0z"/><path fill="#fcff09" d="M538.0 97.0h2.0v2.0h-2.0z"/><path fill="#ff7300" d="M555.0 133.0h2.0v2.0h-2.0z"/><path fill="#e71f00" d="M567.0 149.0h2.0v2.0h-2.0z"/><path fill="#ffd300" d="M643.0 109.7h2.0v2.0h-2.0z"/><path fill="#ffa400" d="M633.5 121.6h2.0v2.0h-2.0z"/><path fill="#ec2800" d="M608.3 147.5h2.0v2.0h-2.0z"/><path fill="#dd1000" d="M613.5 152.0h2.0v2.0h-2.0zM633.0 152.0h2.0v2.0h-2.0zM641.5 152.0h2.0v2.0h-2.0z"/><path fill="#05bcf8" d="M664.6 55.1h2.0v2.0h-2.0z"/><path fill="#fff100" d="M539.0 102.0h2.0v2.0h-2.0z"/><path fill="#ffc800" d="M531.0 112.0h2.0v2.0h-2.0z"/><path fill="#cf0200" d="M625.0 156.0h2.0v2.0h-2.0zM633.0 156.0h2.0v2.0h-2.0zM615.0 156.0h2.0v2.0h-2.0z"/><path fill="#79f0a2" d="M659.0 79.0h2.0v2.0h-2.0z"/><path fill="#02f7ea" d="M657.0 69.0h2.0v2.0h-2.0z"/><rect x="578.6" y="155.9" width="25" height="1.9" fill="#cc0000"/><line x1="531.6" y1="113" x2="665.5" y2="63.5" stroke="#0a4888" stroke-width="2.5"/><polygon points="238.5,284 243,281 247,283 252,288 256,292 259.5,297 261,303 263,310 265,316 271,322 278,328 282,334 283,340 282,346 280,351 275,359 270,365 265,371 259,378 252,382 246,383 240,382 238.5,378 237.5,360 237,340 237,320 237.5,300 238,290" fill="url(#ge)"/><path fill="#ffffff" d="M254.0 291.9h1.4v1.4h-1.4zM247.9 292.9h1.4v1.4h-1.4zM251.5 296.4h1.4v1.4h-1.4zM250.5 291.5h1.4v1.4h-1.4zM256.5 292.0h1.4v1.4h-1.4zM250.6 295.6h1.4v1.4h-1.4zM249.9 299.7h1.4v1.4h-1.4zM247.4 292.8h1.4v1.4h-1.4zM251.8 291.7h1.4v1.4h-1.4zM257.2 293.3h1.4v1.4h-1.4zM251.8 295.3h1.4v1.4h-1.4zM257.1 291.0h1.4v1.4h-1.4zM257.1 303.4h1.4v1.4h-1.4zM249.8 290.2h1.4v1.4h-1.4zM256.6 292.6h1.4v1.4h-1.4zM249.3 288.6h1.4v1.4h-1.4zM254.3 303.2h1.4v1.4h-1.4zM257.8 297.3h1.4v1.4h-1.4zM252.0 303.9h1.4v1.4h-1.4zM254.9 303.6h1.4v1.4h-1.4z"/><path fill="#06a82a" d="M241.6 282.4h2.0v2.0h-2.0zM238.1 282.7h2.0v2.0h-2.0zM237.1 281.8h2.0v2.0h-2.0zM242.4 280.7h2.0v2.0h-2.0zM240.3 285.7h2.0v2.0h-2.0zM241.1 283.7h2.0v2.0h-2.0zM244.9 280.6h2.0v2.0h-2.0zM241.9 280.8h2.0v2.0h-2.0zM243.7 279.7h2.0v2.0h-2.0zM250.1 282.0h2.0v2.0h-2.0zM248.3 283.6h2.0v2.0h-2.0zM248.4 287.3h2.0v2.0h-2.0zM250.7 286.1h2.0v2.0h-2.0zM247.2 282.7h2.0v2.0h-2.0zM251.9 285.8h2.0v2.0h-2.0zM252.3 287.2h2.0v2.0h-2.0zM237.8 286.4h2.0v2.0h-2.0zM236.3 286.1h2.0v2.0h-2.0zM239.0 285.6h2.0v2.0h-2.0zM239.3 285.5h2.0v2.0h-2.0zM239.2 285.4h2.0v2.0h-2.0zM236.9 288.1h2.0v2.0h-2.0zM245.0 269.1h2.0v2.0h-2.0zM239.8 281.9h2.0v2.0h-2.0zM239.4 271.5h2.0v2.0h-2.0zM238.9 280.0h2.0v2.0h-2.0zM240.1 279.0h2.0v2.0h-2.0zM243.7 276.1h2.0v2.0h-2.0zM245.9 281.6h2.0v2.0h-2.0zM240.2 278.9h2.0v2.0h-2.0zM242.1 287.0h2.0v2.0h-2.0zM241.5 270.1h2.0v2.0h-2.0zM243.8 273.9h2.0v2.0h-2.0zM240.2 272.0h2.0v2.0h-2.0zM240.2 282.2h2.0v2.0h-2.0zM242.8 285.2h2.0v2.0h-2.0zM238.5 278.3h2.0v2.0h-2.0zM240.9 275.3h2.0v2.0h-2.0zM243.3 285.1h2.0v2.0h-2.0zM241.3 280.0h2.0v2.0h-2.0zM239.7 274.6h2.0v2.0h-2.0zM244.0 279.1h2.0v2.0h-2.0zM242.1 275.5h2.0v2.0h-2.0zM239.0 286.6h2.0v2.0h-2.0zM238.6 275.5h2.0v2.0h-2.0zM244.3 275.6h2.0v2.0h-2.0zM242.2 280.8h2.0v2.0h-2.0zM242.0 286.0h2.0v2.0h-2.0zM237.9 281.0h2.0v2.0h-2.0zM244.6 270.1h2.0v2.0h-2.0zM242.4 278.7h2.0v2.0h-2.0zM241.1 280.8h2.0v2.0h-2.0zM243.1 284.5h2.0v2.0h-2.0zM245.6 283.4h2.0v2.0h-2.0zM239.9 272.2h2.0v2.0h-2.0zM238.1 274.9h2.0v2.0h-2.0zM238.6 284.0h2.0v2.0h-2.0zM243.7 282.5h2.0v2.0h-2.0zM240.9 279.2h2.0v2.0h-2.0zM242.7 273.0h2.0v2.0h-2.0zM245.2 279.6h2.0v2.0h-2.0zM240.8 270.4h2.0v2.0h-2.0zM240.0 282.0h2.0v2.0h-2.0zM242.7 275.7h2.0v2.0h-2.0zM245.1 284.2h2.0v2.0h-2.0zM244.8 276.2h2.0v2.0h-2.0zM242.6 274.7h2.0v2.0h-2.0zM239.3 273.5h2.0v2.0h-2.0zM238.5 274.3h2.0v2.0h-2.0zM239.5 283.8h2.0v2.0h-2.0zM241.3 273.4h2.0v2.0h-2.0zM243.7 273.9h2.0v2.0h-2.0zM242.5 272.9h2.0v2.0h-2.0zM241.8 288.1h2.0v2.0h-2.0zM240.2 280.6h2.0v2.0h-2.0zM241.4 270.5h2.0v2.0h-2.0zM237.7 287.5h2.0v2.0h-2.0zM240.6 284.1h2.0v2.0h-2.0zM241.2 287.4h2.0v2.0h-2.0zM239.3 279.6h2.0v2.0h-2.0zM242.4 286.5h2.0v2.0h-2.0zM241.8 282.0h2.0v2.0h-2.0zM238.8 281.0h2.0v2.0h-2.0zM243.7 285.1h2.0v2.0h-2.0zM239.5 278.7h2.0v2.0h-2.0zM240.2 277.5h2.0v2.0h-2.0zM239.4 275.3h2.0v2.0h-2.0zM245.2 287.5h2.0v2.0h-2.0zM245.0 269.0h2.0v2.0h-2.0zM244.1 279.9h2.0v2.0h-2.0zM245.7 288.2h2.0v2.0h-2.0zM237.9 280.0h2.0v2.0h-2.0zM239.7 278.7h2.0v2.0h-2.0zM238.1 276.9h2.0v2.0h-2.0zM241.9 273.6h2.0v2.0h-2.0zM241.4 277.3h2.0v2.0h-2.0zM239.4 275.2h2.0v2.0h-2.0zM238.1 287.6h2.0v2.0h-2.0zM241.9 282.2h2.0v2.0h-2.0zM245.5 279.9h2.0v2.0h-2.0zM240.0 280.7h2.0v2.0h-2.0zM242.0 275.6h2.0v2.0h-2.0zM239.6 276.9h2.0v2.0h-2.0zM244.1 272.6h2.0v2.0h-2.0zM240.0 271.7h2.0v2.0h-2.0zM241.0 277.2h2.0v2.0h-2.0zM239.7 286.8h2.0v2.0h-2.0zM240.3 277.9h2.0v2.0h-2.0zM240.9 284.4h2.0v2.0h-2.0zM237.7 284.3h2.0v2.0h-2.0zM239.5 278.9h2.0v2.0h-2.0zM243.6 272.8h2.0v2.0h-2.0zM242.2 287.4h2.0v2.0h-2.0zM239.0 279.3h2.0v2.0h-2.0zM239.2 272.2h2.0v2.0h-2.0zM241.9 279.0h2.0v2.0h-2.0zM243.3 287.9h2.0v2.0h-2.0zM243.9 276.4h2.0v2.0h-2.0zM241.9 283.8h2.0v2.0h-2.0zM245.0 284.0h2.0v2.0h-2.0zM242.0 271.9h2.0v2.0h-2.0zM250.7 278.6h2.0v2.0h-2.0zM249.6 282.1h2.0v2.0h-2.0zM250.7 287.1h2.0v2.0h-2.0zM249.3 284.8h2.0v2.0h-2.0zM254.0 281.7h2.0v2.0h-2.0zM252.5 283.6h2.0v2.0h-2.0zM249.3 278.2h2.0v2.0h-2.0zM251.5 280.3h2.0v2.0h-2.0zM249.7 279.4h2.0v2.0h-2.0zM249.2 284.7h2.0v2.0h-2.0zM251.1 279.2h2.0v2.0h-2.0zM250.9 279.1h2.0v2.0h-2.0zM255.0 287.1h2.0v2.0h-2.0zM253.6 287.7h2.0v2.0h-2.0zM249.7 278.1h2.0v2.0h-2.0zM251.8 286.9h2.0v2.0h-2.0zM250.9 280.2h2.0v2.0h-2.0zM252.7 284.4h2.0v2.0h-2.0zM253.1 281.3h2.0v2.0h-2.0zM249.3 277.6h2.0v2.0h-2.0zM249.6 287.1h2.0v2.0h-2.0zM252.9 282.6h2.0v2.0h-2.0zM251.2 278.6h2.0v2.0h-2.0zM254.6 280.6h2.0v2.0h-2.0zM251.8 282.7h2.0v2.0h-2.0zM257.4 287.5h2.0v2.0h-2.0zM253.9 281.0h2.0v2.0h-2.0zM254.6 283.8h2.0v2.0h-2.0zM253.7 284.2h2.0v2.0h-2.0zM251.4 282.1h2.0v2.0h-2.0zM249.8 282.5h2.0v2.0h-2.0zM241.2 267.2h2.0v2.0h-2.0zM256.6 279.5h2.0v2.0h-2.0zM261.0 281.0h2.0v2.0h-2.0z"/><path fill="#15ab35" d="M250.3 290.3h2.0v2.0h-2.0zM254.2 290.3h2.0v2.0h-2.0zM249.7 290.3h2.0v2.0h-2.0zM250.8 290.2h2.0v2.0h-2.0z"/><path fill="#19ac38" d="M252.6 290.8h2.0v2.0h-2.0zM257.1 290.8h2.0v2.0h-2.0z"/><path fill="#0da92f" d="M251.0 289.2h2.0v2.0h-2.0zM237.8 289.3h2.0v2.0h-2.0zM239.8 289.2h2.0v2.0h-2.0z"/><path fill="#25ae40" d="M256.1 292.3h2.0v2.0h-2.0zM250.9 292.3h2.0v2.0h-2.0z"/><path fill="#4eba61" d="M254.9 297.1h2.0v2.0h-2.0zM258.8 297.1h2.0v2.0h-2.0z"/><path fill="#31b049" d="M257.0 293.8h2.0v2.0h-2.0z"/><path fill="#3ab350" d="M256.6 294.8h2.0v2.0h-2.0z"/><path fill="#2daf46" d="M257.8 293.3h2.0v2.0h-2.0zM235.3 293.4h2.0v2.0h-2.0z"/><path fill="#3fb554" d="M258.1 295.4h2.0v2.0h-2.0z"/><path fill="#78c880" d="M257.6 301.5h2.0v2.0h-2.0z"/><path fill="#49b85c" d="M260.4 296.5h2.0v2.0h-2.0z"/><path fill="#62c171" d="M261.5 299.3h2.0v2.0h-2.0z"/><path fill="#45b75a" d="M260.0 296.1h2.0v2.0h-2.0z"/><path fill="#58bd69" d="M256.5 298.2h2.0v2.0h-2.0z"/><path fill="#82cb87" d="M260.5 302.5h2.0v2.0h-2.0z"/><path fill="#90d090" d="M261.5 303.9h2.0v2.0h-2.0z"/><path fill="#8ccf8d" d="M258.3 303.5h2.0v2.0h-2.0z"/><path fill="#87cd8a" d="M260.3 302.9h2.0v2.0h-2.0z"/><path fill="#a1d79a" d="M261.7 305.9h2.0v2.0h-2.0z"/><path fill="#a8da9e" d="M261.4 306.7h2.0v2.0h-2.0z"/><path fill="#bfe3ad" d="M260.4 309.7h2.0v2.0h-2.0z"/><path fill="#c8e6b4" d="M259.0 311.3h2.0v2.0h-2.0zM287.1 311.3h2.0v2.0h-2.0z"/><path fill="#c6e5b3" d="M266.5 311.0h2.0v2.0h-2.0z"/><path fill="#cbe7b6" d="M260.8 311.7h2.0v2.0h-2.0z"/><path fill="#cde8b8" d="M265.0 312.2h2.0v2.0h-2.0z"/><path fill="#c3e4b0" d="M263.3 310.5h2.0v2.0h-2.0z"/><path fill="#d4ebbd" d="M269.2 313.3h2.0v2.0h-2.0z"/><path fill="#eef0c7" d="M266.3 318.8h2.0v2.0h-2.0zM268.5 319.0h2.0v2.0h-2.0zM292.4 318.9h2.0v2.0h-2.0zM282.7 319.0h2.0v2.0h-2.0z"/><path fill="#ebefc6" d="M268.6 318.2h2.0v2.0h-2.0z"/><path fill="#f5ebbe" d="M267.9 322.4h2.0v2.0h-2.0zM276.0 322.3h2.0v2.0h-2.0zM292.8 322.4h2.0v2.0h-2.0z"/><path fill="#f2eec5" d="M268.3 320.3h2.0v2.0h-2.0z"/><path fill="#eff0c8" d="M264.6 319.2h2.0v2.0h-2.0z"/><path fill="#f1efc6" d="M267.0 319.9h2.0v2.0h-2.0zM297.3 319.8h2.0v2.0h-2.0zM288.6 319.8h2.0v2.0h-2.0z"/><path fill="#f4ecc0" d="M270.7 321.8h2.0v2.0h-2.0zM272.8 321.8h2.0v2.0h-2.0z"/><path fill="#fae1ae" d="M274.1 327.1h2.0v2.0h-2.0zM330.0 327.0h2.0v2.0h-2.0z"/><path fill="#f9e5b4" d="M272.8 325.4h2.0v2.0h-2.0z"/><path fill="#f9e4b3" d="M268.9 325.7h2.0v2.0h-2.0zM297.8 325.7h2.0v2.0h-2.0zM355.3 325.6h2.0v2.0h-2.0z"/><path fill="#f9e6b5" d="M270.2 324.9h2.0v2.0h-2.0zM281.2 325.0h2.0v2.0h-2.0zM275.9 325.0h2.0v2.0h-2.0z"/><path fill="#fae3b2" d="M275.8 326.0h2.0v2.0h-2.0z"/><path fill="#f1efc5" d="M271.5 320.2h2.0v2.0h-2.0zM236.8 320.2h2.0v2.0h-2.0z"/><path fill="#fdd6a1" d="M282.1 331.8h2.0v2.0h-2.0zM303.3 332.0h2.0v2.0h-2.0zM322.4 332.0h2.0v2.0h-2.0z"/><path fill="#fdd8a3" d="M279.0 331.2h2.0v2.0h-2.0z"/><path fill="#fcdca9" d="M275.5 328.8h2.0v2.0h-2.0z"/><path fill="#fcdaa6" d="M278.6 329.7h2.0v2.0h-2.0zM323.6 330.0h2.0v2.0h-2.0z"/><path fill="#fcdba7" d="M277.1 329.5h2.0v2.0h-2.0z"/><path fill="#fcdba6" d="M277.1 329.6h2.0v2.0h-2.0zM284.6 329.6h2.0v2.0h-2.0zM320.3 329.7h2.0v2.0h-2.0z"/><path fill="#fed09a" d="M282.6 334.8h2.0v2.0h-2.0zM236.4 334.9h2.0v2.0h-2.0zM314.7 334.9h2.0v2.0h-2.0zM287.0 334.9h2.0v2.0h-2.0zM310.8 335.0h2.0v2.0h-2.0z"/><path fill="#fecc95" d="M282.5 337.0h2.0v2.0h-2.0zM236.1 337.0h2.0v2.0h-2.0zM233.6 337.0h2.0v2.0h-2.0zM374.4 336.8h2.0v2.0h-2.0zM317.4 336.8h2.0v2.0h-2.0zM329.3 336.9h2.0v2.0h-2.0zM309.9 337.1h2.0v2.0h-2.0zM301.3 336.9h2.0v2.0h-2.0z"/><path fill="#ffc991" d="M283.1 338.8h2.0v2.0h-2.0zM281.9 338.5h2.0v2.0h-2.0zM311.7 338.7h2.0v2.0h-2.0zM317.0 338.8h2.0v2.0h-2.0zM344.8 338.6h2.0v2.0h-2.0zM323.6 338.7h2.0v2.0h-2.0zM311.9 338.7h2.0v2.0h-2.0zM304.8 338.7h2.0v2.0h-2.0zM330.2 338.7h2.0v2.0h-2.0zM311.6 338.7h2.0v2.0h-2.0z"/><path fill="#fdd39d" d="M278.7 333.7h2.0v2.0h-2.0zM237.0 333.6h2.0v2.0h-2.0zM293.9 333.5h2.0v2.0h-2.0zM282.7 333.6h2.0v2.0h-2.0zM287.7 333.4h2.0v2.0h-2.0z"/><path fill="#ffbf8c" d="M283.6 341.8h2.0v2.0h-2.0zM390.3 341.7h2.0v2.0h-2.0zM303.2 341.8h2.0v2.0h-2.0z"/><path fill="#ffbc8a" d="M279.7 342.9h2.0v2.0h-2.0zM284.2 342.8h2.0v2.0h-2.0zM316.5 342.8h2.0v2.0h-2.0zM293.8 342.8h2.0v2.0h-2.0zM287.0 342.7h2.0v2.0h-2.0zM413.6 342.7h2.0v2.0h-2.0zM284.3 342.7h2.0v2.0h-2.0zM329.6 342.9h2.0v2.0h-2.0zM323.1 342.9h2.0v2.0h-2.0z"/><path fill="#ffc28d" d="M280.0 340.9h2.0v2.0h-2.0zM327.0 340.9h2.0v2.0h-2.0zM316.9 340.8h2.0v2.0h-2.0zM291.7 340.9h2.0v2.0h-2.0zM362.9 341.1h2.0v2.0h-2.0zM307.3 341.0h2.0v2.0h-2.0z"/><path fill="#ffc08c" d="M281.4 341.7h2.0v2.0h-2.0zM279.1 341.4h2.0v2.0h-2.0zM238.5 341.6h2.0v2.0h-2.0zM288.9 341.6h2.0v2.0h-2.0zM313.2 341.4h2.0v2.0h-2.0zM404.4 341.7h2.0v2.0h-2.0zM284.6 341.5h2.0v2.0h-2.0zM333.8 341.6h2.0v2.0h-2.0zM347.9 341.6h2.0v2.0h-2.0z"/><path fill="#ffc68f" d="M283.3 339.7h2.0v2.0h-2.0zM310.4 339.8h2.0v2.0h-2.0zM292.8 339.6h2.0v2.0h-2.0zM288.4 339.5h2.0v2.0h-2.0zM309.5 339.6h2.0v2.0h-2.0zM294.9 339.6h2.0v2.0h-2.0zM397.6 339.8h2.0v2.0h-2.0z"/><path fill="#ffae88" d="M282.5 347.2h2.0v2.0h-2.0zM313.0 347.0h2.0v2.0h-2.0zM299.8 347.3h2.0v2.0h-2.0zM305.1 347.1h2.0v2.0h-2.0zM286.2 347.3h2.0v2.0h-2.0zM363.6 347.2h2.0v2.0h-2.0zM339.5 347.2h2.0v2.0h-2.0zM317.7 347.1h2.0v2.0h-2.0zM337.4 347.3h2.0v2.0h-2.0z"/><path fill="#ffb288" d="M277.6 346.1h2.0v2.0h-2.0zM301.6 345.9h2.0v2.0h-2.0zM314.7 345.9h2.0v2.0h-2.0zM387.7 346.1h2.0v2.0h-2.0zM314.4 346.0h2.0v2.0h-2.0zM324.0 345.9h2.0v2.0h-2.0zM334.2 345.8h2.0v2.0h-2.0z"/><path fill="#ffb088" d="M281.8 346.4h2.0v2.0h-2.0zM290.0 346.6h2.0v2.0h-2.0zM343.3 346.5h2.0v2.0h-2.0zM326.0 346.4h2.0v2.0h-2.0zM345.7 346.7h2.0v2.0h-2.0zM313.2 346.5h2.0v2.0h-2.0zM393.7 346.7h2.0v2.0h-2.0zM393.1 346.5h2.0v2.0h-2.0zM412.5 346.4h2.0v2.0h-2.0z"/><path fill="#ffa589" d="M281.7 350.3h2.0v2.0h-2.0zM320.3 350.2h2.0v2.0h-2.0zM292.5 350.1h2.0v2.0h-2.0z"/><path fill="#ffaf88" d="M279.6 346.9h2.0v2.0h-2.0zM398.6 347.0h2.0v2.0h-2.0zM297.3 346.7h2.0v2.0h-2.0zM307.5 346.8h2.0v2.0h-2.0zM307.4 346.9h2.0v2.0h-2.0zM359.5 346.9h2.0v2.0h-2.0z"/><path fill="#ffa489" d="M276.9 350.5h2.0v2.0h-2.0zM236.7 350.4h2.0v2.0h-2.0zM361.2 350.4h2.0v2.0h-2.0zM316.8 350.4h2.0v2.0h-2.0zM340.8 350.6h2.0v2.0h-2.0zM295.9 350.6h2.0v2.0h-2.0zM297.9 350.5h2.0v2.0h-2.0z"/><path fill="#ffac88" d="M275.3 347.8h2.0v2.0h-2.0zM237.1 347.8h2.0v2.0h-2.0zM317.6 347.7h2.0v2.0h-2.0zM310.6 347.7h2.0v2.0h-2.0zM353.1 347.9h2.0v2.0h-2.0zM333.3 347.8h2.0v2.0h-2.0zM284.3 347.8h2.0v2.0h-2.0z"/><path fill="#ffa08a" d="M277.5 352.0h2.0v2.0h-2.0zM234.6 352.0h2.0v2.0h-2.0zM237.8 351.8h2.0v2.0h-2.0zM309.7 351.8h2.0v2.0h-2.0zM295.2 351.9h2.0v2.0h-2.0zM296.1 351.9h2.0v2.0h-2.0z"/><path fill="#ff998c" d="M277.4 354.5h2.0v2.0h-2.0zM343.9 354.3h2.0v2.0h-2.0z"/><path fill="#ff9a8c" d="M277.4 353.9h2.0v2.0h-2.0zM234.7 354.0h2.0v2.0h-2.0zM277.2 354.0h2.0v2.0h-2.0zM403.0 354.0h2.0v2.0h-2.0z"/><path fill="#ff918e" d="M273.3 357.0h2.0v2.0h-2.0zM237.0 357.0h2.0v2.0h-2.0zM237.5 356.8h2.0v2.0h-2.0zM323.8 357.0h2.0v2.0h-2.0zM407.3 357.1h2.0v2.0h-2.0z"/><path fill="#ff9d8b" d="M279.6 353.0h2.0v2.0h-2.0zM309.9 352.8h2.0v2.0h-2.0zM254.1 352.8h2.0v2.0h-2.0zM293.6 353.0h2.0v2.0h-2.0z"/><path fill="#ff9f8b" d="M275.2 352.2h2.0v2.0h-2.0zM238.1 352.3h2.0v2.0h-2.0zM366.4 352.3h2.0v2.0h-2.0zM386.7 352.2h2.0v2.0h-2.0zM312.3 352.2h2.0v2.0h-2.0zM268.6 352.3h2.0v2.0h-2.0zM291.5 352.4h2.0v2.0h-2.0zM278.2 352.3h2.0v2.0h-2.0zM291.2 352.3h2.0v2.0h-2.0z"/><path fill="#ff988d" d="M277.6 354.7h2.0v2.0h-2.0z"/><path fill="#ff7693" d="M268.1 362.6h2.0v2.0h-2.0zM265.6 362.6h2.0v2.0h-2.0zM297.7 362.6h2.0v2.0h-2.0zM256.9 362.6h2.0v2.0h-2.0z"/><path fill="#ff8591" d="M272.2 360.0h2.0v2.0h-2.0z"/><path fill="#ff7e92" d="M269.3 361.3h2.0v2.0h-2.0zM316.4 361.3h2.0v2.0h-2.0z"/><path fill="#ff6a96" d="M270.5 364.8h2.0v2.0h-2.0z"/><path fill="#ff7394" d="M271.8 363.1h2.0v2.0h-2.0z"/><path fill="#ff6d95" d="M270.4 364.2h2.0v2.0h-2.0z"/><path fill="#ff6b95" d="M269.8 364.5h2.0v2.0h-2.0zM297.9 364.4h2.0v2.0h-2.0zM304.3 364.5h2.0v2.0h-2.0z"/><path fill="#ff6c95" d="M267.0 364.3h2.0v2.0h-2.0zM237.5 364.3h2.0v2.0h-2.0zM292.0 364.4h2.0v2.0h-2.0zM297.3 364.4h2.0v2.0h-2.0z"/><path fill="#ff5797" d="M268.6 368.0h2.0v2.0h-2.0zM293.9 367.9h2.0v2.0h-2.0z"/><path fill="#ff5a98" d="M270.7 367.5h2.0v2.0h-2.0zM278.4 367.4h2.0v2.0h-2.0z"/><path fill="#ff6097" d="M267.1 366.5h2.0v2.0h-2.0zM234.7 366.5h2.0v2.0h-2.0zM237.7 366.5h2.0v2.0h-2.0zM285.2 366.5h2.0v2.0h-2.0zM270.6 366.5h2.0v2.0h-2.0z"/><path fill="#ff5e98" d="M266.5 366.7h2.0v2.0h-2.0z"/><path fill="#ff5b98" d="M263.8 367.4h2.0v2.0h-2.0z"/><path fill="#ff6996" d="M265.7 364.9h2.0v2.0h-2.0z"/><path fill="#ff3491" d="M263.0 373.5h2.0v2.0h-2.0zM261.3 373.6h2.0v2.0h-2.0z"/><path fill="#ff3d92" d="M263.8 372.0h2.0v2.0h-2.0zM260.3 372.0h2.0v2.0h-2.0z"/><path fill="#ff4994" d="M262.6 370.2h2.0v2.0h-2.0z"/><path fill="#ff4c95" d="M262.3 369.7h2.0v2.0h-2.0zM272.8 369.7h2.0v2.0h-2.0z"/><path fill="#ff4393" d="M261.7 371.2h2.0v2.0h-2.0z"/><path fill="#ff4b95" d="M261.6 369.8h2.0v2.0h-2.0z"/><path fill="#ff2990" d="M253.9 378.0h2.0v2.0h-2.0zM239.3 378.4h2.0v2.0h-2.0zM237.1 377.9h2.0v2.0h-2.0zM248.7 378.1h2.0v2.0h-2.0zM256.6 378.2h2.0v2.0h-2.0zM254.6 378.0h2.0v2.0h-2.0z"/><path fill="#ff248c" d="M256.7 381.7h2.0v2.0h-2.0zM249.6 381.4h2.0v2.0h-2.0zM239.3 381.5h2.0v2.0h-2.0zM241.1 381.7h2.0v2.0h-2.0zM244.7 381.3h2.0v2.0h-2.0zM254.0 381.6h2.0v2.0h-2.0zM237.7 381.5h2.0v2.0h-2.0zM248.8 381.3h2.0v2.0h-2.0z"/><path fill="#ff278f" d="M256.1 379.2h2.0v2.0h-2.0zM247.4 379.5h2.0v2.0h-2.0zM237.3 379.1h2.0v2.0h-2.0zM243.8 379.3h2.0v2.0h-2.0zM244.7 379.2h2.0v2.0h-2.0z"/><path fill="#ff2e90" d="M254.6 375.1h2.0v2.0h-2.0zM236.9 375.3h2.0v2.0h-2.0zM240.2 375.6h2.0v2.0h-2.0zM238.5 375.4h2.0v2.0h-2.0z"/><path fill="#ff2890" d="M255.9 379.0h2.0v2.0h-2.0zM249.7 378.8h2.0v2.0h-2.0zM241.0 378.7h2.0v2.0h-2.0zM251.2 379.0h2.0v2.0h-2.0zM246.0 379.0h2.0v2.0h-2.0z"/><path fill="#ff258d" d="M252.3 380.7h2.0v2.0h-2.0zM241.1 381.1h2.0v2.0h-2.0zM237.9 380.6h2.0v2.0h-2.0zM243.7 381.0h2.0v2.0h-2.0zM255.7 381.1h2.0v2.0h-2.0zM247.9 381.0h2.0v2.0h-2.0z"/><path fill="#ff2a90" d="M255.1 377.8h2.0v2.0h-2.0zM245.1 377.7h2.0v2.0h-2.0zM241.5 377.7h2.0v2.0h-2.0z"/><path fill="#ff238b" d="M246.8 382.0h2.0v2.0h-2.0zM237.6 382.2h2.0v2.0h-2.0zM249.9 382.2h2.0v2.0h-2.0z"/><path fill="#ff228a" d="M250.0 382.7h2.0v2.0h-2.0zM243.8 382.7h2.0v2.0h-2.0z"/><path fill="#ff268e" d="M249.9 380.1h2.0v2.0h-2.0zM239.3 379.9h2.0v2.0h-2.0zM256.7 380.4h2.0v2.0h-2.0zM260.0 379.9h2.0v2.0h-2.0zM239.8 380.2h2.0v2.0h-2.0zM243.4 380.4h2.0v2.0h-2.0z"/><path fill="#ff2189" d="M241.4 383.3h2.0v2.0h-2.0zM251.5 383.5h2.0v2.0h-2.0z"/><path fill="#ff2b90" d="M241.8 376.8h2.0v2.0h-2.0zM240.6 377.1h2.0v2.0h-2.0zM236.7 376.8h2.0v2.0h-2.0z"/><path fill="#ff2c90" d="M237.1 376.4h2.0v2.0h-2.0zM235.7 376.5h2.0v2.0h-2.0z"/><path fill="#ff2d90" d="M238.6 375.8h2.0v2.0h-2.0z"/><path fill="#ff3090" d="M239.6 374.2h2.0v2.0h-2.0z"/><path fill="#ff3b92" d="M237.2 372.3h2.0v2.0h-2.0z"/><path fill="#ff5997" d="M234.4 367.6h2.0v2.0h-2.0z"/><path fill="#ff6497" d="M236.8 365.8h2.0v2.0h-2.0z"/><path fill="#ff4193" d="M237.5 371.3h2.0v2.0h-2.0z"/><path fill="#ff8a90" d="M238.0 359.1h2.0v2.0h-2.0zM262.0 359.1h2.0v2.0h-2.0zM278.4 359.2h2.0v2.0h-2.0zM414.0 359.0h2.0v2.0h-2.0z"/><path fill="#ffc18c" d="M234.9 341.3h2.0v2.0h-2.0zM234.4 341.4h2.0v2.0h-2.0zM368.9 341.3h2.0v2.0h-2.0zM357.3 341.4h2.0v2.0h-2.0zM285.4 341.3h2.0v2.0h-2.0zM287.0 341.3h2.0v2.0h-2.0z"/><path fill="#ff8f8f" d="M237.8 357.7h2.0v2.0h-2.0zM372.5 357.7h2.0v2.0h-2.0z"/><path fill="#ffc48e" d="M235.3 340.2h2.0v2.0h-2.0zM327.2 340.3h2.0v2.0h-2.0zM302.0 340.2h2.0v2.0h-2.0zM334.1 340.3h2.0v2.0h-2.0zM402.4 340.3h2.0v2.0h-2.0zM293.1 340.3h2.0v2.0h-2.0zM343.4 340.3h2.0v2.0h-2.0zM365.6 340.3h2.0v2.0h-2.0zM330.5 340.3h2.0v2.0h-2.0zM333.9 340.3h2.0v2.0h-2.0zM298.8 340.3h2.0v2.0h-2.0zM301.0 340.2h2.0v2.0h-2.0z"/><path fill="#ff8c8f" d="M236.9 358.5h2.0v2.0h-2.0z"/><path fill="#ffad88" d="M236.1 347.5h2.0v2.0h-2.0zM327.1 347.5h2.0v2.0h-2.0zM405.8 347.6h2.0v2.0h-2.0zM343.8 347.5h2.0v2.0h-2.0zM296.1 347.4h2.0v2.0h-2.0zM285.3 347.4h2.0v2.0h-2.0zM288.3 347.6h2.0v2.0h-2.0zM356.0 347.6h2.0v2.0h-2.0zM369.3 347.6h2.0v2.0h-2.0zM293.6 347.5h2.0v2.0h-2.0z"/><path fill="#ff8c90" d="M239.4 358.6h2.0v2.0h-2.0zM284.2 358.6h2.0v2.0h-2.0z"/><path fill="#ffa38a" d="M236.4 350.9h2.0v2.0h-2.0zM313.9 350.9h2.0v2.0h-2.0zM302.2 351.0h2.0v2.0h-2.0zM307.4 351.0h2.0v2.0h-2.0zM233.0 351.0h2.0v2.0h-2.0z"/><path fill="#ffc790" d="M237.8 339.3h2.0v2.0h-2.0zM295.5 339.2h2.0v2.0h-2.0zM287.1 339.3h2.0v2.0h-2.0zM342.0 339.3h2.0v2.0h-2.0z"/><path fill="#f3edc2" d="M236.2 321.1h2.0v2.0h-2.0zM298.3 321.1h2.0v2.0h-2.0zM274.5 321.0h2.0v2.0h-2.0z"/><path fill="#fdd49f" d="M238.5 332.8h2.0v2.0h-2.0zM297.2 332.8h2.0v2.0h-2.0z"/><path fill="#fdd7a2" d="M234.6 331.3h2.0v2.0h-2.0zM235.2 331.6h2.0v2.0h-2.0zM329.1 331.4h2.0v2.0h-2.0zM285.5 331.4h2.0v2.0h-2.0z"/><path fill="#ffcb94" d="M235.0 337.4h2.0v2.0h-2.0zM389.3 337.5h2.0v2.0h-2.0zM320.4 337.5h2.0v2.0h-2.0zM301.3 337.6h2.0v2.0h-2.0z"/><path fill="#f0f0c8" d="M236.8 319.3h2.0v2.0h-2.0zM294.6 319.3h2.0v2.0h-2.0z"/><path fill="#f8e7b7" d="M235.7 324.5h2.0v2.0h-2.0z"/><path fill="#f8e8b8" d="M236.5 324.0h2.0v2.0h-2.0zM292.9 324.0h2.0v2.0h-2.0zM281.8 324.0h2.0v2.0h-2.0z"/><path fill="#fed099" d="M235.4 335.1h2.0v2.0h-2.0zM317.3 335.2h2.0v2.0h-2.0z"/><path fill="#f6eabc" d="M236.9 322.8h2.0v2.0h-2.0zM292.1 322.9h2.0v2.0h-2.0z"/><path fill="#fcddaa" d="M237.3 328.4h2.0v2.0h-2.0z"/><path fill="#f7e9b9" d="M233.3 323.7h2.0v2.0h-2.0zM276.4 323.8h2.0v2.0h-2.0z"/><path fill="#fbe0ad" d="M236.6 327.5h2.0v2.0h-2.0z"/><path fill="#d8ecc0" d="M235.7 314.0h2.0v2.0h-2.0zM288.1 314.1h2.0v2.0h-2.0zM285.6 314.0h2.0v2.0h-2.0z"/><path fill="#cce8b7" d="M232.3 312.0h2.0v2.0h-2.0z"/><path fill="#b9e0a9" d="M236.2 308.8h2.0v2.0h-2.0z"/><path fill="#68c375" d="M237.4 299.9h2.0v2.0h-2.0z"/><path fill="#b0dda3" d="M234.9 307.6h2.0v2.0h-2.0zM290.0 307.6h2.0v2.0h-2.0z"/><path fill="#e1edc3" d="M235.4 315.9h2.0v2.0h-2.0zM236.6 316.0h2.0v2.0h-2.0z"/><path fill="#ddedc2" d="M237.1 315.0h2.0v2.0h-2.0zM298.0 315.1h2.0v2.0h-2.0z"/><path fill="#d0e9ba" d="M237.9 312.6h2.0v2.0h-2.0z"/><path fill="#daecc1" d="M235.7 314.3h2.0v2.0h-2.0zM290.5 314.5h2.0v2.0h-2.0z"/><path fill="#addca2" d="M237.2 307.3h2.0v2.0h-2.0z"/><path fill="#6dc479" d="M238.0 300.4h2.0v2.0h-2.0z"/><path fill="#cfe9ba" d="M237.5 312.5h2.0v2.0h-2.0z"/><path fill="#bce1ab" d="M234.3 309.2h2.0v2.0h-2.0z"/><path fill="#94d192" d="M236.2 304.3h2.0v2.0h-2.0z"/><path fill="#7cc983" d="M238.9 301.9h2.0v2.0h-2.0z"/><path fill="#d9ecc0" d="M238.4 314.3h2.0v2.0h-2.0z"/><path fill="#cbe7b7" d="M239.2 311.8h2.0v2.0h-2.0z"/><path fill="#1dac3a" d="M236.7 291.3h2.0v2.0h-2.0z"/><path fill="#2aaf43" d="M237.0 292.9h2.0v2.0h-2.0z"/><path fill="#14ab34" d="M236.1 290.2h2.0v2.0h-2.0z"/><path fill="#4dba60" d="M236.8 297.0h2.0v2.0h-2.0z"/><path fill="#42b657" d="M236.6 295.7h2.0v2.0h-2.0z"/><path fill="#1dac3b" d="M237.6 291.3h2.0v2.0h-2.0zM253.4 291.3h2.0v2.0h-2.0z"/><path fill="#5bbe6c" d="M236.6 298.6h2.0v2.0h-2.0z"/><path fill="#0aa92d" d="M242.0 288.8h2.0v2.0h-2.0zM253.0 288.8h2.0v2.0h-2.0zM250.0 288.8h2.0v2.0h-2.0z"/><path fill="#0ba92d" d="M242.4 289.0h2.0v2.0h-2.0zM238.0 288.9h2.0v2.0h-2.0z"/><path fill="#08a82b" d="M244.0 288.6h2.0v2.0h-2.0z"/><path fill="#11aa32" d="M240.8 289.8h2.0v2.0h-2.0zM238.0 289.8h2.0v2.0h-2.0z"/><path fill="#12aa32" d="M237.6 289.8h2.0v2.0h-2.0z"/><path fill="#09a92c" d="M241.8 288.7h2.0v2.0h-2.0zM243.6 288.7h2.0v2.0h-2.0zM249.7 288.7h2.0v2.0h-2.0z"/><path fill="#08a82c" d="M238.7 288.6h2.0v2.0h-2.0zM251.6 288.6h2.0v2.0h-2.0z"/><path fill="#2aaf44" d="M252.3 292.9h2.0v2.0h-2.0zM233.5 293.0h2.0v2.0h-2.0z"/><path fill="#2eb046" d="M250.5 293.4h2.0v2.0h-2.0z"/><path fill="#24ae3f" d="M252.3 292.2h2.0v2.0h-2.0z"/><path fill="#20ad3d" d="M252.3 291.7h2.0v2.0h-2.0z"/><path fill="#28ae42" d="M251.5 292.6h2.0v2.0h-2.0zM256.6 292.7h2.0v2.0h-2.0z"/><path fill="#22ad3e" d="M252.4 292.0h2.0v2.0h-2.0z"/><path fill="#2baf44" d="M251.9 293.1h2.0v2.0h-2.0z"/><path fill="#21ad3e" d="M256.3 291.8h2.0v2.0h-2.0z"/><path fill="#1cac3a" d="M250.3 291.2h2.0v2.0h-2.0z"/><path fill="#37b24e" d="M255.8 294.5h2.0v2.0h-2.0z"/><path fill="#30b048" d="M251.1 293.7h2.0v2.0h-2.0zM252.5 293.7h2.0v2.0h-2.0z"/><path fill="#34b14b" d="M255.1 294.1h2.0v2.0h-2.0z"/><path fill="#35b24c" d="M255.1 294.2h2.0v2.0h-2.0z"/><path fill="#9dd598" d="M273.4 305.4h2.0v2.0h-2.0z"/><path fill="#bce2ab" d="M271.1 309.3h2.0v2.0h-2.0z"/><path fill="#dbecc1" d="M293.6 314.6h2.0v2.0h-2.0z"/><path fill="#77c880" d="M262.9 301.4h2.0v2.0h-2.0z"/><path fill="#bbe1ab" d="M280.7 309.1h2.0v2.0h-2.0z"/><path fill="#dcedc1" d="M281.5 314.9h2.0v2.0h-2.0z"/><path fill="#f3edc3" d="M282.6 320.9h2.0v2.0h-2.0z"/><path fill="#92d191" d="M271.8 304.1h2.0v2.0h-2.0zM293.0 304.1h2.0v2.0h-2.0z"/><path fill="#c9e6b4" d="M273.0 311.4h2.0v2.0h-2.0z"/><path fill="#eaefc6" d="M270.8 317.9h2.0v2.0h-2.0z"/><path fill="#c0e3ae" d="M270.1 310.0h2.0v2.0h-2.0zM267.6 310.0h2.0v2.0h-2.0z"/><path fill="#fcdca8" d="M287.3 329.1h2.0v2.0h-2.0zM289.3 329.0h2.0v2.0h-2.0zM287.7 328.9h2.0v2.0h-2.0zM411.0 329.0h2.0v2.0h-2.0z"/><path fill="#d5ebbd" d="M281.2 313.4h2.0v2.0h-2.0z"/><path fill="#f2eec4" d="M278.3 320.6h2.0v2.0h-2.0z"/><path fill="#d2eabb" d="M296.4 312.9h2.0v2.0h-2.0zM297.0 312.9h2.0v2.0h-2.0z"/><path fill="#cee8b9" d="M287.3 312.3h2.0v2.0h-2.0z"/><path fill="#e8efc5" d="M292.7 317.7h2.0v2.0h-2.0z"/><path fill="#f7e9ba" d="M283.3 323.4h2.0v2.0h-2.0zM287.2 323.4h2.0v2.0h-2.0z"/><path fill="#e2eec3" d="M275.3 316.2h2.0v2.0h-2.0z"/><path fill="#dbedc1" d="M293.0 314.7h2.0v2.0h-2.0z"/><path fill="#f3edc1" d="M275.4 321.4h2.0v2.0h-2.0zM295.4 321.3h2.0v2.0h-2.0zM288.9 321.3h2.0v2.0h-2.0z"/><path fill="#fae2b1" d="M295.7 326.3h2.0v2.0h-2.0z"/><path fill="#fcdca7" d="M295.2 329.2h2.0v2.0h-2.0z"/><path fill="#e0edc3" d="M274.9 315.9h2.0v2.0h-2.0zM297.3 315.7h2.0v2.0h-2.0z"/><path fill="#c7e6b3" d="M281.3 311.1h2.0v2.0h-2.0z"/><path fill="#c1e3ae" d="M294.4 310.0h2.0v2.0h-2.0z"/><path fill="#fdd6a0" d="M287.0 332.2h2.0v2.0h-2.0zM336.3 332.1h2.0v2.0h-2.0z"/><path fill="#fcdaa5" d="M291.3 330.0h2.0v2.0h-2.0z"/><path fill="#f8e8b9" d="M283.9 323.8h2.0v2.0h-2.0z"/><path fill="#88cd8b" d="M272.2 303.1h2.0v2.0h-2.0z"/><path fill="#addca1" d="M269.9 307.3h2.0v2.0h-2.0zM298.3 307.3h2.0v2.0h-2.0z"/><path fill="#fae2b0" d="M293.0 326.5h2.0v2.0h-2.0z"/><path fill="#fae3b1" d="M283.2 326.2h2.0v2.0h-2.0z"/><path fill="#ffc58f" d="M334.5 340.0h2.0v2.0h-2.0zM321.8 340.0h2.0v2.0h-2.0zM282.4 339.9h2.0v2.0h-2.0zM283.4 339.9h2.0v2.0h-2.0zM293.1 340.0h2.0v2.0h-2.0zM300.4 340.0h2.0v2.0h-2.0zM287.9 339.8h2.0v2.0h-2.0zM296.3 339.9h2.0v2.0h-2.0z"/><path fill="#fece97" d="M290.9 336.1h2.0v2.0h-2.0zM305.0 336.0h2.0v2.0h-2.0zM292.3 336.2h2.0v2.0h-2.0zM346.5 336.1h2.0v2.0h-2.0zM311.3 336.2h2.0v2.0h-2.0zM299.2 336.1h2.0v2.0h-2.0z"/><path fill="#ffb988" d="M342.7 343.9h2.0v2.0h-2.0zM379.2 343.8h2.0v2.0h-2.0zM411.5 343.9h2.0v2.0h-2.0z"/><path fill="#ffb388" d="M307.5 345.6h2.0v2.0h-2.0zM397.4 345.6h2.0v2.0h-2.0zM408.5 345.7h2.0v2.0h-2.0zM287.1 345.5h2.0v2.0h-2.0zM284.3 345.7h2.0v2.0h-2.0zM405.9 345.6h2.0v2.0h-2.0zM330.4 345.5h2.0v2.0h-2.0zM300.4 345.6h2.0v2.0h-2.0zM335.2 345.5h2.0v2.0h-2.0z"/><path fill="#ffca92" d="M287.2 338.3h2.0v2.0h-2.0zM326.1 338.2h2.0v2.0h-2.0zM374.6 338.1h2.0v2.0h-2.0zM284.6 338.3h2.0v2.0h-2.0zM289.1 338.0h2.0v2.0h-2.0z"/><path fill="#ffb488" d="M315.9 345.4h2.0v2.0h-2.0zM347.8 345.4h2.0v2.0h-2.0zM302.4 345.4h2.0v2.0h-2.0zM311.3 345.3h2.0v2.0h-2.0zM293.2 345.4h2.0v2.0h-2.0z"/><path fill="#ffbd8a" d="M306.6 342.6h2.0v2.0h-2.0zM312.9 342.6h2.0v2.0h-2.0zM286.2 342.5h2.0v2.0h-2.0zM285.1 342.5h2.0v2.0h-2.0z"/><path fill="#ffb788" d="M286.5 344.4h2.0v2.0h-2.0zM303.8 344.2h2.0v2.0h-2.0zM284.7 344.2h2.0v2.0h-2.0zM345.7 344.3h2.0v2.0h-2.0z"/><path fill="#ffbf8b" d="M287.2 341.9h2.0v2.0h-2.0zM284.8 342.0h2.0v2.0h-2.0zM294.5 342.0h2.0v2.0h-2.0zM317.8 341.9h2.0v2.0h-2.0zM299.6 342.0h2.0v2.0h-2.0z"/><path fill="#ffb888" d="M377.6 344.0h2.0v2.0h-2.0zM298.0 344.0h2.0v2.0h-2.0zM406.5 343.9h2.0v2.0h-2.0zM296.0 344.0h2.0v2.0h-2.0zM325.3 344.0h2.0v2.0h-2.0z"/><path fill="#fecd95" d="M288.3 336.8h2.0v2.0h-2.0z"/><path fill="#ffb588" d="M360.2 344.8h2.0v2.0h-2.0zM303.7 345.1h2.0v2.0h-2.0zM365.4 345.1h2.0v2.0h-2.0zM309.2 345.0h2.0v2.0h-2.0zM339.3 344.9h2.0v2.0h-2.0zM293.5 344.9h2.0v2.0h-2.0z"/><path fill="#ff9f8a" d="M317.5 352.1h2.0v2.0h-2.0z"/><path fill="#ffc890" d="M319.5 339.1h2.0v2.0h-2.0zM283.8 338.9h2.0v2.0h-2.0zM295.9 338.9h2.0v2.0h-2.0zM379.1 339.1h2.0v2.0h-2.0zM354.2 338.9h2.0v2.0h-2.0z"/><path fill="#ff9e8b" d="M291.1 352.4h2.0v2.0h-2.0z"/><path fill="#fdd29c" d="M331.7 333.9h2.0v2.0h-2.0zM288.4 333.9h2.0v2.0h-2.0zM333.2 334.0h2.0v2.0h-2.0zM307.5 333.9h2.0v2.0h-2.0zM285.9 333.8h2.0v2.0h-2.0z"/><path fill="#ffa788" d="M298.8 349.3h2.0v2.0h-2.0zM389.6 349.4h2.0v2.0h-2.0zM385.4 349.4h2.0v2.0h-2.0zM321.6 349.3h2.0v2.0h-2.0zM301.1 349.5h2.0v2.0h-2.0z"/><path fill="#ffcb93" d="M284.3 337.7h2.0v2.0h-2.0zM315.9 337.6h2.0v2.0h-2.0zM307.3 337.6h2.0v2.0h-2.0zM294.4 337.7h2.0v2.0h-2.0zM301.7 337.7h2.0v2.0h-2.0zM307.8 337.7h2.0v2.0h-2.0z"/><path fill="#ffaa88" d="M306.7 348.5h2.0v2.0h-2.0zM329.2 348.4h2.0v2.0h-2.0zM294.2 348.3h2.0v2.0h-2.0z"/><path fill="#ffb188" d="M347.4 346.3h2.0v2.0h-2.0zM311.0 346.3h2.0v2.0h-2.0zM418.3 346.1h2.0v2.0h-2.0zM328.0 346.4h2.0v2.0h-2.0zM292.2 346.4h2.0v2.0h-2.0zM288.3 346.3h2.0v2.0h-2.0z"/><path fill="#ffc58e" d="M342.4 340.0h2.0v2.0h-2.0zM313.7 340.0h2.0v2.0h-2.0zM325.5 340.0h2.0v2.0h-2.0zM308.1 340.1h2.0v2.0h-2.0zM309.7 340.1h2.0v2.0h-2.0zM305.1 340.1h2.0v2.0h-2.0z"/><path fill="#ffc18d" d="M333.1 341.1h2.0v2.0h-2.0zM330.4 341.2h2.0v2.0h-2.0zM287.1 341.2h2.0v2.0h-2.0zM283.0 341.2h2.0v2.0h-2.0z"/><path fill="#fed19a" d="M284.6 334.6h2.0v2.0h-2.0zM283.2 334.7h2.0v2.0h-2.0zM295.1 334.7h2.0v2.0h-2.0zM282.2 334.6h2.0v2.0h-2.0z"/><path fill="#fecf98" d="M334.7 335.7h2.0v2.0h-2.0zM322.2 335.7h2.0v2.0h-2.0z"/><path fill="#ffba89" d="M300.1 343.4h2.0v2.0h-2.0zM294.4 343.5h2.0v2.0h-2.0zM291.0 343.4h2.0v2.0h-2.0zM301.0 343.5h2.0v2.0h-2.0z"/><path fill="#ffab88" d="M310.1 348.0h2.0v2.0h-2.0zM314.1 348.0h2.0v2.0h-2.0zM315.6 348.1h2.0v2.0h-2.0z"/><path fill="#ffca93" d="M297.4 337.8h2.0v2.0h-2.0zM310.0 338.0h2.0v2.0h-2.0zM307.2 338.0h2.0v2.0h-2.0z"/><path fill="#ffbb8a" d="M303.9 343.0h2.0v2.0h-2.0zM326.5 343.0h2.0v2.0h-2.0zM332.9 343.1h2.0v2.0h-2.0zM282.4 343.0h2.0v2.0h-2.0z"/><path fill="#ffbe8b" d="M323.7 342.0h2.0v2.0h-2.0zM324.7 342.2h2.0v2.0h-2.0zM380.0 342.1h2.0v2.0h-2.0zM363.3 342.3h2.0v2.0h-2.0z"/><path fill="#ffa688" d="M312.1 349.6h2.0v2.0h-2.0z"/><path fill="#ffb688" d="M288.9 344.8h2.0v2.0h-2.0zM282.1 344.7h2.0v2.0h-2.0z"/><path fill="#ff948d" d="M312.0 355.9h2.0v2.0h-2.0zM273.4 355.9h2.0v2.0h-2.0z"/><path fill="#fecd96" d="M284.9 336.6h2.0v2.0h-2.0zM282.5 336.5h2.0v2.0h-2.0zM299.5 336.6h2.0v2.0h-2.0zM283.0 336.7h2.0v2.0h-2.0zM369.4 336.5h2.0v2.0h-2.0zM290.0 336.5h2.0v2.0h-2.0z"/><path fill="#fed19b" d="M285.0 334.3h2.0v2.0h-2.0zM302.7 334.3h2.0v2.0h-2.0zM405.6 334.4h2.0v2.0h-2.0z"/><path fill="#fed29c" d="M290.2 334.0h2.0v2.0h-2.0zM287.3 334.2h2.0v2.0h-2.0z"/><path fill="#ffc992" d="M310.2 338.3h2.0v2.0h-2.0z"/><path fill="#fdd59f" d="M283.7 332.6h2.0v2.0h-2.0z"/><path fill="#ff958d" d="M317.2 355.6h2.0v2.0h-2.0zM299.7 355.7h2.0v2.0h-2.0zM273.7 355.7h2.0v2.0h-2.0zM269.0 355.6h2.0v2.0h-2.0z"/><path fill="#ffa888" d="M334.7 349.0h2.0v2.0h-2.0zM325.4 349.1h2.0v2.0h-2.0zM285.6 348.9h2.0v2.0h-2.0z"/><path fill="#ffa689" d="M294.9 349.7h2.0v2.0h-2.0z"/><path fill="#ffc78f" d="M293.8 339.5h2.0v2.0h-2.0zM305.8 339.4h2.0v2.0h-2.0zM353.0 339.4h2.0v2.0h-2.0z"/><path fill="#fecf99" d="M290.3 335.3h2.0v2.0h-2.0zM364.4 335.4h2.0v2.0h-2.0zM312.8 335.4h2.0v2.0h-2.0zM357.9 335.4h2.0v2.0h-2.0z"/><path fill="#ffa988" d="M338.6 348.8h2.0v2.0h-2.0zM369.9 348.6h2.0v2.0h-2.0zM288.7 348.8h2.0v2.0h-2.0zM333.1 348.7h2.0v2.0h-2.0z"/><path fill="#fdd39e" d="M345.0 333.3h2.0v2.0h-2.0z"/><path fill="#fbdfab" d="M288.0 327.9h2.0v2.0h-2.0z"/><path fill="#fece98" d="M298.7 335.8h2.0v2.0h-2.0zM282.7 335.9h2.0v2.0h-2.0zM285.0 335.8h2.0v2.0h-2.0z"/><path fill="#ffb989" d="M286.0 343.6h2.0v2.0h-2.0zM361.2 343.7h2.0v2.0h-2.0z"/><path fill="#ffbd8b" d="M324.3 342.4h2.0v2.0h-2.0z"/><path fill="#ffa28a" d="M355.9 351.0h2.0v2.0h-2.0zM284.2 351.2h2.0v2.0h-2.0z"/><path fill="#ff948e" d="M325.6 356.1h2.0v2.0h-2.0zM269.0 356.0h2.0v2.0h-2.0z"/><path fill="#ffa389" d="M314.0 350.9h2.0v2.0h-2.0zM286.2 350.8h2.0v2.0h-2.0z"/><path fill="#ffbb89" d="M330.5 343.2h2.0v2.0h-2.0z"/><path fill="#ff988c" d="M289.0 354.6h2.0v2.0h-2.0z"/><path fill="#ffc38e" d="M288.3 340.5h2.0v2.0h-2.0z"/><path fill="#ff968d" d="M286.9 355.3h2.0v2.0h-2.0zM272.1 355.3h2.0v2.0h-2.0z"/><path fill="#ff938e" d="M267.1 356.4h2.0v2.0h-2.0zM317.4 356.2h2.0v2.0h-2.0z"/><path fill="#ff928e" d="M270.2 356.7h2.0v2.0h-2.0zM254.3 356.5h2.0v2.0h-2.0zM388.6 356.6h2.0v2.0h-2.0z"/><path fill="#ff6197" d="M293.3 366.2h2.0v2.0h-2.0zM290.5 366.3h2.0v2.0h-2.0z"/><path fill="#ff4894" d="M276.2 370.3h2.0v2.0h-2.0z"/><path fill="#ff4a95" d="M284.3 370.0h2.0v2.0h-2.0zM260.1 370.0h2.0v2.0h-2.0z"/><path fill="#ff7095" d="M291.1 363.7h2.0v2.0h-2.0zM297.4 363.6h2.0v2.0h-2.0z"/><path fill="#ff5396" d="M288.1 368.5h2.0v2.0h-2.0z"/><path fill="#ff8d8f" d="M269.3 358.3h2.0v2.0h-2.0zM273.6 358.3h2.0v2.0h-2.0z"/><path fill="#ff4d95" d="M265.1 369.4h2.0v2.0h-2.0z"/><path fill="#ff8691" d="M294.7 359.8h2.0v2.0h-2.0zM382.8 359.9h2.0v2.0h-2.0z"/><path fill="#ff9b8c" d="M272.1 353.7h2.0v2.0h-2.0zM285.7 353.7h2.0v2.0h-2.0zM264.8 353.8h2.0v2.0h-2.0z"/><path fill="#ff6397" d="M277.1 366.0h2.0v2.0h-2.0z"/><path fill="#ff7f92" d="M269.6 361.1h2.0v2.0h-2.0zM296.5 361.1h2.0v2.0h-2.0z"/><path fill="#ff7c92" d="M290.1 361.5h2.0v2.0h-2.0zM276.3 361.5h2.0v2.0h-2.0zM257.1 361.5h2.0v2.0h-2.0z"/><path fill="#ff4494" d="M297.2 370.9h2.0v2.0h-2.0zM269.3 370.9h2.0v2.0h-2.0z"/><path fill="#ff5897" d="M260.1 367.7h2.0v2.0h-2.0zM276.9 367.8h2.0v2.0h-2.0z"/><path fill="#ff8391" d="M254.2 360.4h2.0v2.0h-2.0zM296.3 360.3h2.0v2.0h-2.0zM383.2 360.4h2.0v2.0h-2.0z"/><path fill="#ff8990" d="M267.5 359.4h2.0v2.0h-2.0z"/><path fill="#ff5998" d="M287.1 367.5h2.0v2.0h-2.0z"/><path fill="#ff7294" d="M260.3 363.3h2.0v2.0h-2.0z"/><path fill="#ff8890" d="M400.8 359.4h2.0v2.0h-2.0z"/><path fill="#ff7594" d="M374.7 362.8h2.0v2.0h-2.0zM361.8 362.8h2.0v2.0h-2.0z"/><path fill="#ff5597" d="M395.5 368.2h2.0v2.0h-2.0z"/><path fill="#ff6597" d="M339.1 365.6h2.0v2.0h-2.0z"/><path fill="#ff6297" d="M310.8 366.1h2.0v2.0h-2.0z"/><path fill="#ff8092" d="M331.6 360.8h2.0v2.0h-2.0z"/><path fill="#deedc2" d="M296.4 315.4h2.0v2.0h-2.0z"/><path fill="#a9da9f" d="M296.8 306.8h2.0v2.0h-2.0z"/><path fill="#99d495" d="M298.7 304.9h2.0v2.0h-2.0z"/><path fill="#9cd597" d="M293.3 305.2h2.0v2.0h-2.0z"/><path fill="#96d294" d="M293.4 304.5h2.0v2.0h-2.0z"/><path fill="#acdba1" d="M297.9 307.1h2.0v2.0h-2.0z"/><path fill="#c2e4b0" d="M287.0 310.3h2.0v2.0h-2.0z"/><path fill="#b3dea5" d="M287.4 308.0h2.0v2.0h-2.0z"/><path fill="#dfedc2" d="M282.2 315.5h2.0v2.0h-2.0zM295.2 315.4h2.0v2.0h-2.0z"/><path fill="#e5eec4" d="M288.2 317.0h2.0v2.0h-2.0z"/><path fill="#d6ebbe" d="M291.9 313.6h2.0v2.0h-2.0z"/><path fill="#ff2088" d="M258.0 389.1h2.0v2.0h-2.0zM254.4 386.0h2.0v2.0h-2.0zM240.1 386.0h2.0v2.0h-2.0zM255.0 386.3h2.0v2.0h-2.0zM241.5 390.3h2.0v2.0h-2.0zM256.5 385.0h2.0v2.0h-2.0zM251.7 387.4h2.0v2.0h-2.0zM256.3 386.1h2.0v2.0h-2.0zM241.1 384.7h2.0v2.0h-2.0zM260.2 388.1h2.0v2.0h-2.0zM240.4 387.2h2.0v2.0h-2.0zM244.6 384.9h2.0v2.0h-2.0zM244.6 390.8h2.0v2.0h-2.0zM246.8 385.2h2.0v2.0h-2.0zM253.2 387.4h2.0v2.0h-2.0zM241.3 399.5h2.0v2.0h-2.0zM253.5 406.6h2.0v2.0h-2.0z"/><path fill="#5fc06f" d="M234.0 299.0h2.0v2.0h-2.0z"/><line x1="235.4" y1="332.3" x2="417" y2="366.2" stroke="#0a4888" stroke-width="2.5"/><polygon points="500,334 505,328 511,322 518,317 528,313 540,311 555,310 575,309.5 600,309.5 612,310 620,312 623,316 624,325 624,338 620,346 615,352 605,356 595,358 585,361 575,363 565,365 555,366 545,367 535,368 525,370 515,371 510,369 507,363 504,357 501,352 500,347" fill="url(#gf)"/><path fill="#ffffff" d="M585.6 315.4h1.4v1.4h-1.4zM604.0 311.4h1.4v1.4h-1.4zM578.0 314.8h1.4v1.4h-1.4zM548.4 320.0h1.4v1.4h-1.4zM548.8 319.2h1.4v1.4h-1.4zM606.2 321.0h1.4v1.4h-1.4zM539.8 312.9h1.4v1.4h-1.4zM536.9 314.5h1.4v1.4h-1.4zM610.9 317.7h1.4v1.4h-1.4zM543.2 312.4h1.4v1.4h-1.4zM596.8 317.5h1.4v1.4h-1.4zM529.5 317.2h1.4v1.4h-1.4zM546.4 314.2h1.4v1.4h-1.4zM538.4 321.2h1.4v1.4h-1.4zM570.4 317.5h1.4v1.4h-1.4zM547.7 315.1h1.4v1.4h-1.4zM587.5 318.8h1.4v1.4h-1.4zM610.9 313.8h1.4v1.4h-1.4zM550.9 315.3h1.4v1.4h-1.4zM557.1 319.5h1.4v1.4h-1.4zM562.7 315.0h1.4v1.4h-1.4zM574.5 316.9h1.4v1.4h-1.4zM561.1 311.4h1.4v1.4h-1.4zM595.5 312.4h1.4v1.4h-1.4zM606.2 313.8h1.4v1.4h-1.4zM552.3 316.7h1.4v1.4h-1.4zM611.0 315.1h1.4v1.4h-1.4zM572.5 315.4h1.4v1.4h-1.4zM539.4 314.2h1.4v1.4h-1.4zM611.8 320.7h1.4v1.4h-1.4zM552.2 320.5h1.4v1.4h-1.4zM530.7 318.5h1.4v1.4h-1.4zM531.6 315.6h1.4v1.4h-1.4zM566.4 315.6h1.4v1.4h-1.4zM614.0 314.8h1.4v1.4h-1.4zM530.9 312.4h1.4v1.4h-1.4zM596.7 312.6h1.4v1.4h-1.4zM534.6 313.3h1.4v1.4h-1.4zM617.3 315.7h1.4v1.4h-1.4zM542.6 317.9h1.4v1.4h-1.4z"/><path fill="#ffffff" d="M568.8 361.0h1.4v1.4h-1.4zM609.0 363.1h1.4v1.4h-1.4zM577.2 359.6h1.4v1.4h-1.4zM591.1 358.4h1.4v1.4h-1.4zM559.9 364.2h1.4v1.4h-1.4zM576.1 365.3h1.4v1.4h-1.4zM587.9 361.2h1.4v1.4h-1.4zM596.7 360.3h1.4v1.4h-1.4zM587.7 360.2h1.4v1.4h-1.4zM567.2 364.0h1.4v1.4h-1.4zM548.9 367.0h1.4v1.4h-1.4zM606.8 364.9h1.4v1.4h-1.4zM574.7 359.6h1.4v1.4h-1.4zM570.5 359.7h1.4v1.4h-1.4zM558.7 364.5h1.4v1.4h-1.4zM601.6 360.3h1.4v1.4h-1.4zM599.7 357.4h1.4v1.4h-1.4zM591.5 363.0h1.4v1.4h-1.4zM552.4 364.9h1.4v1.4h-1.4zM556.1 362.9h1.4v1.4h-1.4zM554.7 363.9h1.4v1.4h-1.4zM606.4 362.0h1.4v1.4h-1.4zM546.8 363.6h1.4v1.4h-1.4zM575.2 365.4h1.4v1.4h-1.4zM554.0 357.2h1.4v1.4h-1.4z"/><path fill="#fcdda9" d="M503.8 328.5h2.0v2.0h-2.0z"/><path fill="#fdd8a4" d="M502.6 330.7h2.0v2.0h-2.0zM628.7 330.8h2.0v2.0h-2.0zM647.0 330.8h2.0v2.0h-2.0zM638.5 330.8h2.0v2.0h-2.0z"/><path fill="#fbdfab" d="M504.3 327.9h2.0v2.0h-2.0z"/><path fill="#fdd49e" d="M500.3 333.2h2.0v2.0h-2.0zM499.5 333.1h2.0v2.0h-2.0zM621.3 333.2h2.0v2.0h-2.0z"/><path fill="#fecf98" d="M502.0 335.5h2.0v2.0h-2.0zM646.9 335.8h2.0v2.0h-2.0z"/><path fill="#fdd7a2" d="M504.6 331.4h2.0v2.0h-2.0z"/><path fill="#f9e4b3" d="M504.5 325.6h2.0v2.0h-2.0z"/><path fill="#f3edc3" d="M508.8 320.8h2.0v2.0h-2.0z"/><path fill="#fcdca8" d="M506.2 328.9h2.0v2.0h-2.0zM629.7 328.8h2.0v2.0h-2.0z"/><path fill="#f7e9b9" d="M508.3 323.8h2.0v2.0h-2.0zM518.5 323.7h2.0v2.0h-2.0z"/><path fill="#fae2b0" d="M505.8 326.6h2.0v2.0h-2.0zM634.4 326.5h2.0v2.0h-2.0z"/><path fill="#f6eabc" d="M506.3 322.8h2.0v2.0h-2.0zM513.8 322.9h2.0v2.0h-2.0zM516.6 323.0h2.0v2.0h-2.0z"/><path fill="#f8e8b8" d="M505.3 324.1h2.0v2.0h-2.0z"/><path fill="#f9e5b4" d="M504.8 325.3h2.0v2.0h-2.0z"/><path fill="#ecefc7" d="M512.7 318.4h2.0v2.0h-2.0z"/><path fill="#f2eec5" d="M510.9 320.3h2.0v2.0h-2.0z"/><path fill="#f0f0c8" d="M512.5 319.4h2.0v2.0h-2.0z"/><path fill="#e7eec5" d="M516.7 317.2h2.0v2.0h-2.0z"/><path fill="#f2eec3" d="M509.9 320.8h2.0v2.0h-2.0z"/><path fill="#f6eabd" d="M513.0 322.7h2.0v2.0h-2.0zM622.1 322.7h2.0v2.0h-2.0z"/><path fill="#d3eabc" d="M519.0 313.2h2.0v2.0h-2.0zM521.7 313.1h2.0v2.0h-2.0z"/><path fill="#cde8b8" d="M525.3 312.2h2.0v2.0h-2.0zM556.6 312.1h2.0v2.0h-2.0zM613.6 312.1h2.0v2.0h-2.0z"/><path fill="#dfedc2" d="M524.5 315.5h2.0v2.0h-2.0zM517.9 315.6h2.0v2.0h-2.0z"/><path fill="#dcedc1" d="M520.1 314.9h2.0v2.0h-2.0z"/><path fill="#d6ebbe" d="M523.2 313.6h2.0v2.0h-2.0z"/><path fill="#cee8b9" d="M526.1 312.4h2.0v2.0h-2.0z"/><path fill="#e2eec3" d="M519.1 316.3h2.0v2.0h-2.0z"/><path fill="#c5e5b2" d="M531.5 310.8h2.0v2.0h-2.0zM535.2 310.8h2.0v2.0h-2.0zM539.9 310.8h2.0v2.0h-2.0zM534.6 310.7h2.0v2.0h-2.0zM542.4 310.8h2.0v2.0h-2.0zM513.0 310.7h2.0v2.0h-2.0zM525.5 310.8h2.0v2.0h-2.0z"/><path fill="#b9e0a8" d="M532.5 308.7h2.0v2.0h-2.0z"/><path fill="#c4e5b1" d="M527.8 310.6h2.0v2.0h-2.0zM618.7 310.6h2.0v2.0h-2.0zM610.4 310.7h2.0v2.0h-2.0zM545.9 310.7h2.0v2.0h-2.0z"/><path fill="#d8ecc0" d="M527.4 313.9h2.0v2.0h-2.0zM527.9 314.0h2.0v2.0h-2.0z"/><path fill="#c9e6b5" d="M531.4 311.4h2.0v2.0h-2.0zM623.9 311.4h2.0v2.0h-2.0zM619.8 311.4h2.0v2.0h-2.0z"/><path fill="#c3e4b0" d="M533.1 310.4h2.0v2.0h-2.0zM567.9 310.4h2.0v2.0h-2.0zM612.9 310.5h2.0v2.0h-2.0z"/><path fill="#c8e6b4" d="M536.3 311.4h2.0v2.0h-2.0zM550.1 311.3h2.0v2.0h-2.0zM542.6 311.3h2.0v2.0h-2.0zM603.5 311.2h2.0v2.0h-2.0zM603.8 311.3h2.0v2.0h-2.0zM516.0 311.2h2.0v2.0h-2.0z"/><path fill="#cae7b5" d="M535.1 311.6h2.0v2.0h-2.0zM546.8 311.5h2.0v2.0h-2.0z"/><path fill="#d2eabb" d="M530.3 312.9h2.0v2.0h-2.0z"/><path fill="#cee8b8" d="M534.3 312.2h2.0v2.0h-2.0zM610.3 312.2h2.0v2.0h-2.0z"/><path fill="#bee2ac" d="M546.1 309.5h2.0v2.0h-2.0zM593.1 309.5h2.0v2.0h-2.0zM578.9 309.5h2.0v2.0h-2.0zM555.6 309.5h2.0v2.0h-2.0z"/><path fill="#d9ecc0" d="M540.3 314.2h2.0v2.0h-2.0z"/><path fill="#bae1aa" d="M553.7 308.9h2.0v2.0h-2.0z"/><path fill="#bfe3ad" d="M548.5 309.8h2.0v2.0h-2.0zM584.5 309.8h2.0v2.0h-2.0zM546.5 309.7h2.0v2.0h-2.0zM558.0 309.7h2.0v2.0h-2.0zM620.5 309.7h2.0v2.0h-2.0z"/><path fill="#a0d69a" d="M547.3 305.8h2.0v2.0h-2.0z"/><path fill="#c6e5b3" d="M550.5 311.0h2.0v2.0h-2.0zM588.1 311.0h2.0v2.0h-2.0zM619.5 310.9h2.0v2.0h-2.0z"/><path fill="#b8e0a8" d="M545.8 308.6h2.0v2.0h-2.0zM545.6 308.6h2.0v2.0h-2.0zM567.5 308.6h2.0v2.0h-2.0zM569.5 308.5h2.0v2.0h-2.0z"/><path fill="#b2dea5" d="M541.3 307.9h2.0v2.0h-2.0zM543.5 307.9h2.0v2.0h-2.0z"/><path fill="#bce1ab" d="M550.0 309.2h2.0v2.0h-2.0zM587.5 309.2h2.0v2.0h-2.0z"/><path fill="#b3dea5" d="M556.3 308.0h2.0v2.0h-2.0zM561.0 308.0h2.0v2.0h-2.0zM607.4 308.0h2.0v2.0h-2.0zM517.9 308.0h2.0v2.0h-2.0zM549.0 308.0h2.0v2.0h-2.0zM595.7 308.0h2.0v2.0h-2.0z"/><path fill="#aedca2" d="M563.4 307.4h2.0v2.0h-2.0zM597.9 307.4h2.0v2.0h-2.0z"/><path fill="#b5dfa6" d="M568.4 308.2h2.0v2.0h-2.0zM567.0 308.2h2.0v2.0h-2.0zM609.4 308.2h2.0v2.0h-2.0zM569.4 308.2h2.0v2.0h-2.0z"/><path fill="#a1d79a" d="M573.8 305.8h2.0v2.0h-2.0zM557.3 305.9h2.0v2.0h-2.0z"/><path fill="#a0d699" d="M569.3 305.7h2.0v2.0h-2.0z"/><path fill="#b0dda3" d="M558.9 307.7h2.0v2.0h-2.0zM541.3 307.6h2.0v2.0h-2.0zM520.1 307.6h2.0v2.0h-2.0z"/><path fill="#b7e0a8" d="M558.9 308.5h2.0v2.0h-2.0zM586.6 308.5h2.0v2.0h-2.0z"/><path fill="#b4dea5" d="M564.9 308.1h2.0v2.0h-2.0zM526.6 308.1h2.0v2.0h-2.0z"/><path fill="#c2e4af" d="M566.2 310.2h2.0v2.0h-2.0zM541.4 310.2h2.0v2.0h-2.0z"/><path fill="#bfe2ad" d="M562.0 309.7h2.0v2.0h-2.0z"/><path fill="#9fd699" d="M560.1 305.6h2.0v2.0h-2.0z"/><path fill="#addca1" d="M558.7 307.2h2.0v2.0h-2.0zM574.0 307.3h2.0v2.0h-2.0z"/><path fill="#bde2ac" d="M579.0 309.4h2.0v2.0h-2.0zM597.5 309.5h2.0v2.0h-2.0zM601.2 309.5h2.0v2.0h-2.0zM546.5 309.5h2.0v2.0h-2.0zM537.1 309.4h2.0v2.0h-2.0z"/><path fill="#b4dea6" d="M585.0 308.1h2.0v2.0h-2.0zM598.4 308.1h2.0v2.0h-2.0z"/><path fill="#b1dda4" d="M585.7 307.8h2.0v2.0h-2.0zM609.9 307.8h2.0v2.0h-2.0zM615.3 307.7h2.0v2.0h-2.0zM593.4 307.8h2.0v2.0h-2.0zM558.0 307.7h2.0v2.0h-2.0z"/><path fill="#bae1a9" d="M575.7 308.9h2.0v2.0h-2.0z"/><path fill="#d0e9ba" d="M576.3 312.7h2.0v2.0h-2.0zM510.0 312.6h2.0v2.0h-2.0z"/><path fill="#a2d79b" d="M595.2 305.9h2.0v2.0h-2.0z"/><path fill="#b2dea4" d="M577.0 307.9h2.0v2.0h-2.0z"/><path fill="#9dd598" d="M591.8 305.4h2.0v2.0h-2.0z"/><path fill="#95d293" d="M582.9 304.4h2.0v2.0h-2.0zM533.9 304.5h2.0v2.0h-2.0z"/><path fill="#c1e3ae" d="M579.2 310.0h2.0v2.0h-2.0zM591.7 310.0h2.0v2.0h-2.0z"/><path fill="#bee2ad" d="M579.8 309.7h2.0v2.0h-2.0zM607.0 309.6h2.0v2.0h-2.0zM601.0 309.6h2.0v2.0h-2.0z"/><path fill="#c0e3ae" d="M574.1 309.9h2.0v2.0h-2.0zM558.8 309.9h2.0v2.0h-2.0z"/><path fill="#bbe1aa" d="M574.3 309.1h2.0v2.0h-2.0zM613.2 309.0h2.0v2.0h-2.0zM521.2 309.1h2.0v2.0h-2.0zM581.6 309.0h2.0v2.0h-2.0zM578.6 309.1h2.0v2.0h-2.0z"/><path fill="#c6e5b2" d="M594.0 310.9h2.0v2.0h-2.0z"/><path fill="#abdba0" d="M604.9 307.0h2.0v2.0h-2.0zM548.9 307.1h2.0v2.0h-2.0z"/><path fill="#d1e9bb" d="M604.9 312.8h2.0v2.0h-2.0zM617.8 312.8h2.0v2.0h-2.0zM520.3 312.8h2.0v2.0h-2.0z"/><path fill="#a4d89c" d="M609.8 306.2h2.0v2.0h-2.0zM593.2 306.2h2.0v2.0h-2.0zM565.7 306.2h2.0v2.0h-2.0zM524.9 306.2h2.0v2.0h-2.0z"/><path fill="#a9da9f" d="M603.4 306.8h2.0v2.0h-2.0zM577.4 306.8h2.0v2.0h-2.0zM532.8 306.8h2.0v2.0h-2.0zM545.0 306.8h2.0v2.0h-2.0z"/><path fill="#9ed598" d="M607.8 305.5h2.0v2.0h-2.0zM566.9 305.5h2.0v2.0h-2.0z"/><path fill="#bce2ab" d="M599.1 309.3h2.0v2.0h-2.0zM554.5 309.3h2.0v2.0h-2.0z"/><path fill="#d1eabb" d="M618.2 312.8h2.0v2.0h-2.0z"/><path fill="#afdca3" d="M617.3 307.5h2.0v2.0h-2.0z"/><path fill="#cfe9ba" d="M621.2 312.5h2.0v2.0h-2.0zM520.1 312.5h2.0v2.0h-2.0z"/><path fill="#c2e4b0" d="M621.0 310.3h2.0v2.0h-2.0zM619.4 310.3h2.0v2.0h-2.0zM588.4 310.3h2.0v2.0h-2.0z"/><path fill="#f4ecc0" d="M622.4 321.6h2.0v2.0h-2.0zM622.7 321.8h2.0v2.0h-2.0z"/><path fill="#f5ebbf" d="M622.1 322.2h2.0v2.0h-2.0zM515.7 322.1h2.0v2.0h-2.0z"/><path fill="#eaefc6" d="M623.5 318.1h2.0v2.0h-2.0zM618.8 317.9h2.0v2.0h-2.0zM521.3 317.9h2.0v2.0h-2.0z"/><path fill="#f3edc2" d="M622.1 321.2h2.0v2.0h-2.0zM504.2 321.0h2.0v2.0h-2.0z"/><path fill="#f2eec4" d="M619.4 320.4h2.0v2.0h-2.0zM527.1 320.5h2.0v2.0h-2.0zM517.6 320.7h2.0v2.0h-2.0z"/><path fill="#fdd6a1" d="M623.6 331.9h2.0v2.0h-2.0z"/><path fill="#fae1af" d="M621.8 326.8h2.0v2.0h-2.0zM626.4 326.8h2.0v2.0h-2.0z"/><path fill="#fdd8a3" d="M622.5 331.0h2.0v2.0h-2.0zM648.9 331.2h2.0v2.0h-2.0zM642.6 331.0h2.0v2.0h-2.0z"/><path fill="#fcddaa" d="M622.9 328.3h2.0v2.0h-2.0z"/><path fill="#fdd5a0" d="M622.4 332.5h2.0v2.0h-2.0z"/><path fill="#fbdfad" d="M625.4 327.5h2.0v2.0h-2.0z"/><path fill="#fecd96" d="M624.9 336.3h2.0v2.0h-2.0z"/><path fill="#fecc95" d="M623.4 336.9h2.0v2.0h-2.0z"/><path fill="#fece98" d="M622.2 335.9h2.0v2.0h-2.0z"/><path fill="#fed099" d="M623.9 335.2h2.0v2.0h-2.0z"/><path fill="#ffb888" d="M618.1 344.0h2.0v2.0h-2.0zM501.4 343.9h2.0v2.0h-2.0z"/><path fill="#ffb488" d="M621.0 345.4h2.0v2.0h-2.0zM500.4 345.4h2.0v2.0h-2.0zM624.9 345.2h2.0v2.0h-2.0z"/><path fill="#ffc68f" d="M619.4 339.6h2.0v2.0h-2.0z"/><path fill="#ffca93" d="M620.0 338.0h2.0v2.0h-2.0z"/><path fill="#ffbf8c" d="M617.5 341.8h2.0v2.0h-2.0z"/><path fill="#ffc18d" d="M621.7 341.1h2.0v2.0h-2.0z"/><path fill="#ffc991" d="M622.2 338.6h2.0v2.0h-2.0z"/><path fill="#ffc890" d="M622.2 339.1h2.0v2.0h-2.0zM652.5 339.0h2.0v2.0h-2.0z"/><path fill="#ffa489" d="M616.4 350.5h2.0v2.0h-2.0zM614.3 350.5h2.0v2.0h-2.0z"/><path fill="#ffaa88" d="M619.8 348.3h2.0v2.0h-2.0zM616.2 348.4h2.0v2.0h-2.0zM641.1 348.3h2.0v2.0h-2.0z"/><path fill="#ffa689" d="M615.0 349.7h2.0v2.0h-2.0zM646.4 349.7h2.0v2.0h-2.0zM649.9 349.7h2.0v2.0h-2.0z"/><path fill="#ffab88" d="M612.9 348.0h2.0v2.0h-2.0z"/><path fill="#ffa888" d="M615.7 349.0h2.0v2.0h-2.0zM605.6 349.2h2.0v2.0h-2.0zM618.0 349.1h2.0v2.0h-2.0zM652.5 349.0h2.0v2.0h-2.0z"/><path fill="#ff9a8c" d="M607.6 354.0h2.0v2.0h-2.0zM606.4 354.1h2.0v2.0h-2.0z"/><path fill="#ff978d" d="M604.8 354.9h2.0v2.0h-2.0zM609.9 354.9h2.0v2.0h-2.0zM612.8 355.1h2.0v2.0h-2.0z"/><path fill="#ff988d" d="M606.8 354.7h2.0v2.0h-2.0zM602.1 354.8h2.0v2.0h-2.0z"/><path fill="#ff938e" d="M604.8 356.2h2.0v2.0h-2.0zM592.2 356.3h2.0v2.0h-2.0zM601.4 356.4h2.0v2.0h-2.0zM644.2 356.3h2.0v2.0h-2.0z"/><path fill="#ff958d" d="M607.1 355.8h2.0v2.0h-2.0zM596.7 355.6h2.0v2.0h-2.0z"/><path fill="#ff9d8b" d="M604.5 352.9h2.0v2.0h-2.0zM586.6 352.9h2.0v2.0h-2.0zM501.8 352.9h2.0v2.0h-2.0zM600.1 352.9h2.0v2.0h-2.0z"/><path fill="#ff9f8b" d="M611.6 352.2h2.0v2.0h-2.0z"/><path fill="#ff968d" d="M607.2 355.2h2.0v2.0h-2.0zM602.8 355.4h2.0v2.0h-2.0zM645.6 355.5h2.0v2.0h-2.0z"/><path fill="#ff8990" d="M598.0 359.4h2.0v2.0h-2.0zM509.8 359.4h2.0v2.0h-2.0zM507.0 359.4h2.0v2.0h-2.0zM590.9 359.4h2.0v2.0h-2.0z"/><path fill="#ff948d" d="M598.6 355.8h2.0v2.0h-2.0zM598.3 355.8h2.0v2.0h-2.0zM621.7 355.9h2.0v2.0h-2.0z"/><path fill="#ff918e" d="M603.2 356.8h2.0v2.0h-2.0zM502.7 356.9h2.0v2.0h-2.0zM601.2 357.0h2.0v2.0h-2.0zM646.8 357.0h2.0v2.0h-2.0z"/><path fill="#ff948e" d="M600.5 356.0h2.0v2.0h-2.0z"/><path fill="#ff998c" d="M601.5 354.2h2.0v2.0h-2.0zM594.9 354.5h2.0v2.0h-2.0z"/><path fill="#ff928e" d="M585.4 356.5h2.0v2.0h-2.0z"/><path fill="#ff8f8f" d="M589.0 357.6h2.0v2.0h-2.0zM600.1 357.4h2.0v2.0h-2.0zM601.4 357.5h2.0v2.0h-2.0z"/><path fill="#ff908f" d="M590.9 357.3h2.0v2.0h-2.0zM590.8 357.3h2.0v2.0h-2.0zM618.4 357.3h2.0v2.0h-2.0z"/><path fill="#ff8a90" d="M588.5 359.2h2.0v2.0h-2.0zM582.3 359.1h2.0v2.0h-2.0z"/><path fill="#ff8791" d="M593.5 359.7h2.0v2.0h-2.0z"/><path fill="#ff8291" d="M585.9 360.5h2.0v2.0h-2.0z"/><path fill="#ff7f92" d="M585.8 361.0h2.0v2.0h-2.0zM576.8 361.1h2.0v2.0h-2.0zM604.6 361.0h2.0v2.0h-2.0z"/><path fill="#ff6d95" d="M575.9 364.1h2.0v2.0h-2.0zM564.8 364.1h2.0v2.0h-2.0z"/><path fill="#ff8491" d="M577.0 360.2h2.0v2.0h-2.0z"/><path fill="#ff8391" d="M578.6 360.4h2.0v2.0h-2.0zM601.4 360.3h2.0v2.0h-2.0z"/><path fill="#ff7793" d="M576.2 362.4h2.0v2.0h-2.0z"/><path fill="#ff8e8f" d="M580.4 358.0h2.0v2.0h-2.0zM603.3 357.7h2.0v2.0h-2.0zM593.3 358.0h2.0v2.0h-2.0zM623.8 357.9h2.0v2.0h-2.0z"/><path fill="#ff6f95" d="M575.8 363.9h2.0v2.0h-2.0zM564.8 363.8h2.0v2.0h-2.0zM560.5 363.8h2.0v2.0h-2.0zM506.6 363.8h2.0v2.0h-2.0zM601.8 363.8h2.0v2.0h-2.0z"/><path fill="#ff6996" d="M575.0 364.9h2.0v2.0h-2.0zM563.5 364.8h2.0v2.0h-2.0zM539.6 364.9h2.0v2.0h-2.0z"/><path fill="#ff8b90" d="M581.5 358.7h2.0v2.0h-2.0zM582.8 358.8h2.0v2.0h-2.0zM576.5 358.7h2.0v2.0h-2.0zM609.4 358.8h2.0v2.0h-2.0z"/><path fill="#ff7993" d="M571.5 362.1h2.0v2.0h-2.0z"/><path fill="#ff7693" d="M571.9 362.5h2.0v2.0h-2.0zM503.6 362.6h2.0v2.0h-2.0z"/><path fill="#ff8192" d="M566.1 360.8h2.0v2.0h-2.0zM595.1 360.7h2.0v2.0h-2.0z"/><path fill="#ff7893" d="M568.7 362.3h2.0v2.0h-2.0z"/><path fill="#ff6b95" d="M570.3 364.6h2.0v2.0h-2.0zM561.9 364.5h2.0v2.0h-2.0zM509.5 364.5h2.0v2.0h-2.0zM514.1 364.4h2.0v2.0h-2.0z"/><path fill="#ff7b93" d="M565.4 361.8h2.0v2.0h-2.0zM618.7 361.8h2.0v2.0h-2.0z"/><path fill="#ff8591" d="M571.2 360.1h2.0v2.0h-2.0zM606.5 360.1h2.0v2.0h-2.0z"/><path fill="#ff6197" d="M560.0 366.2h2.0v2.0h-2.0zM508.3 366.3h2.0v2.0h-2.0zM509.6 366.2h2.0v2.0h-2.0zM513.0 366.3h2.0v2.0h-2.0zM591.8 366.2h2.0v2.0h-2.0zM590.2 366.2h2.0v2.0h-2.0zM628.0 366.3h2.0v2.0h-2.0z"/><path fill="#ff6497" d="M564.0 365.7h2.0v2.0h-2.0zM537.8 365.7h2.0v2.0h-2.0zM509.8 365.8h2.0v2.0h-2.0zM545.3 365.8h2.0v2.0h-2.0zM518.8 365.7h2.0v2.0h-2.0zM513.4 365.8h2.0v2.0h-2.0z"/><path fill="#ff5296" d="M555.2 368.7h2.0v2.0h-2.0zM523.3 368.7h2.0v2.0h-2.0zM539.5 368.7h2.0v2.0h-2.0zM514.8 368.8h2.0v2.0h-2.0zM508.0 368.7h2.0v2.0h-2.0z"/><path fill="#ff5f98" d="M558.7 366.6h2.0v2.0h-2.0zM548.6 366.6h2.0v2.0h-2.0zM527.7 366.6h2.0v2.0h-2.0zM514.2 366.7h2.0v2.0h-2.0zM510.7 366.7h2.0v2.0h-2.0z"/><path fill="#ff7a93" d="M560.1 361.8h2.0v2.0h-2.0zM555.6 362.0h2.0v2.0h-2.0z"/><path fill="#ff6097" d="M547.3 366.4h2.0v2.0h-2.0zM536.5 366.4h2.0v2.0h-2.0zM506.7 366.5h2.0v2.0h-2.0zM526.6 366.5h2.0v2.0h-2.0zM519.2 366.4h2.0v2.0h-2.0zM545.4 366.5h2.0v2.0h-2.0z"/><path fill="#ff6c95" d="M552.6 364.4h2.0v2.0h-2.0zM553.0 364.3h2.0v2.0h-2.0zM622.9 364.4h2.0v2.0h-2.0z"/><path fill="#ff5897" d="M545.4 367.7h2.0v2.0h-2.0zM542.7 367.8h2.0v2.0h-2.0zM537.6 367.8h2.0v2.0h-2.0zM603.0 367.7h2.0v2.0h-2.0z"/><path fill="#ff5b98" d="M553.3 367.3h2.0v2.0h-2.0zM534.1 367.2h2.0v2.0h-2.0zM511.5 367.3h2.0v2.0h-2.0zM512.1 367.3h2.0v2.0h-2.0zM512.3 367.3h2.0v2.0h-2.0zM505.2 367.2h2.0v2.0h-2.0zM547.8 367.3h2.0v2.0h-2.0z"/><path fill="#ff6a96" d="M553.4 364.6h2.0v2.0h-2.0zM527.9 364.7h2.0v2.0h-2.0z"/><path fill="#ff5597" d="M544.8 368.2h2.0v2.0h-2.0zM559.9 368.2h2.0v2.0h-2.0zM592.1 368.2h2.0v2.0h-2.0z"/><path fill="#ff5997" d="M546.5 367.6h2.0v2.0h-2.0zM511.3 367.7h2.0v2.0h-2.0zM548.9 367.7h2.0v2.0h-2.0zM616.2 367.7h2.0v2.0h-2.0z"/><path fill="#ff5998" d="M537.5 367.5h2.0v2.0h-2.0zM546.4 367.5h2.0v2.0h-2.0zM580.3 367.5h2.0v2.0h-2.0z"/><path fill="#ff6297" d="M535.4 366.0h2.0v2.0h-2.0zM541.8 366.1h2.0v2.0h-2.0zM527.0 366.1h2.0v2.0h-2.0zM540.8 366.1h2.0v2.0h-2.0zM520.1 366.2h2.0v2.0h-2.0z"/><path fill="#ff5f97" d="M540.1 366.5h2.0v2.0h-2.0zM509.7 366.6h2.0v2.0h-2.0z"/><path fill="#ff5196" d="M543.4 368.8h2.0v2.0h-2.0zM519.0 368.8h2.0v2.0h-2.0zM511.7 368.8h2.0v2.0h-2.0zM550.8 368.9h2.0v2.0h-2.0zM545.6 368.9h2.0v2.0h-2.0z"/><path fill="#ff5396" d="M538.1 368.6h2.0v2.0h-2.0zM533.5 368.6h2.0v2.0h-2.0zM522.1 368.5h2.0v2.0h-2.0zM601.4 368.5h2.0v2.0h-2.0zM582.7 368.6h2.0v2.0h-2.0z"/><path fill="#ff5497" d="M528.0 368.4h2.0v2.0h-2.0zM625.4 368.3h2.0v2.0h-2.0z"/><path fill="#ff5d98" d="M529.7 366.9h2.0v2.0h-2.0zM525.1 367.0h2.0v2.0h-2.0zM652.5 367.0h2.0v2.0h-2.0z"/><path fill="#ff5697" d="M532.1 368.0h2.0v2.0h-2.0zM526.7 368.0h2.0v2.0h-2.0zM519.3 368.0h2.0v2.0h-2.0zM525.1 368.2h2.0v2.0h-2.0zM545.9 368.1h2.0v2.0h-2.0zM574.0 368.1h2.0v2.0h-2.0z"/><path fill="#ff5e98" d="M520.3 366.8h2.0v2.0h-2.0zM518.9 366.9h2.0v2.0h-2.0zM529.0 366.7h2.0v2.0h-2.0zM533.3 366.7h2.0v2.0h-2.0z"/><path fill="#ff3d92" d="M514.7 372.0h2.0v2.0h-2.0zM512.3 372.1h2.0v2.0h-2.0z"/><path fill="#ff4293" d="M518.0 371.3h2.0v2.0h-2.0zM515.2 371.3h2.0v2.0h-2.0zM538.6 371.3h2.0v2.0h-2.0zM571.6 371.2h2.0v2.0h-2.0z"/><path fill="#ff4995" d="M514.8 370.1h2.0v2.0h-2.0zM508.4 370.1h2.0v2.0h-2.0zM538.6 370.1h2.0v2.0h-2.0zM628.1 370.1h2.0v2.0h-2.0z"/><path fill="#ff4894" d="M522.5 370.3h2.0v2.0h-2.0zM539.4 370.3h2.0v2.0h-2.0zM600.8 370.4h2.0v2.0h-2.0zM594.2 370.2h2.0v2.0h-2.0zM625.2 370.4h2.0v2.0h-2.0z"/><path fill="#ff4c95" d="M512.1 369.6h2.0v2.0h-2.0zM545.3 369.7h2.0v2.0h-2.0z"/><path fill="#ff5a98" d="M509.7 367.5h2.0v2.0h-2.0zM538.9 367.4h2.0v2.0h-2.0zM603.9 367.4h2.0v2.0h-2.0z"/><path fill="#ff6397" d="M507.3 365.8h2.0v2.0h-2.0zM507.5 365.9h2.0v2.0h-2.0zM526.0 365.9h2.0v2.0h-2.0zM516.0 365.9h2.0v2.0h-2.0zM591.0 366.0h2.0v2.0h-2.0z"/><path fill="#ff908e" d="M505.3 357.2h2.0v2.0h-2.0zM601.1 357.2h2.0v2.0h-2.0zM604.6 357.2h2.0v2.0h-2.0z"/><path fill="#ff7d92" d="M503.1 361.4h2.0v2.0h-2.0zM600.7 361.5h2.0v2.0h-2.0z"/><path fill="#ff9b8c" d="M496.1 353.7h2.0v2.0h-2.0zM501.8 353.8h2.0v2.0h-2.0z"/><path fill="#ff9c8b" d="M501.3 353.2h2.0v2.0h-2.0zM630.7 353.2h2.0v2.0h-2.0z"/><path fill="#ffa28a" d="M499.8 351.2h2.0v2.0h-2.0zM615.0 351.1h2.0v2.0h-2.0z"/><path fill="#ffac88" d="M501.1 347.8h2.0v2.0h-2.0zM499.6 347.8h2.0v2.0h-2.0z"/><path fill="#ffa688" d="M500.4 349.7h2.0v2.0h-2.0z"/><path fill="#ffb088" d="M499.1 346.5h2.0v2.0h-2.0zM649.9 346.5h2.0v2.0h-2.0z"/><path fill="#ffaf88" d="M500.3 346.9h2.0v2.0h-2.0z"/><path fill="#ffb288" d="M501.2 345.9h2.0v2.0h-2.0zM498.8 346.0h2.0v2.0h-2.0z"/><path fill="#ffcb93" d="M500.3 337.7h2.0v2.0h-2.0z"/><path fill="#fece97" d="M501.6 336.2h2.0v2.0h-2.0zM646.2 336.0h2.0v2.0h-2.0z"/><path fill="#ffb788" d="M499.2 344.4h2.0v2.0h-2.0z"/><path fill="#ffc992" d="M500.8 338.3h2.0v2.0h-2.0z"/><path fill="#fdd39d" d="M498.0 333.7h2.0v2.0h-2.0z"/><path fill="#ffb989" d="M498.6 343.7h2.0v2.0h-2.0z"/><path fill="#ffba89" d="M498.3 343.3h2.0v2.0h-2.0z"/><path fill="#ffc38d" d="M497.8 340.7h2.0v2.0h-2.0z"/><path fill="#06a82a" d="M592.3 278.9h2.0v2.0h-2.0zM589.1 284.0h2.0v2.0h-2.0zM599.8 275.2h2.0v2.0h-2.0zM578.9 278.9h2.0v2.0h-2.0zM598.0 281.3h2.0v2.0h-2.0zM582.0 286.4h2.0v2.0h-2.0zM577.8 285.2h2.0v2.0h-2.0zM597.4 273.0h2.0v2.0h-2.0zM590.9 282.9h2.0v2.0h-2.0zM605.0 277.0h2.0v2.0h-2.0zM583.8 277.9h2.0v2.0h-2.0zM605.8 278.8h2.0v2.0h-2.0zM595.3 283.7h2.0v2.0h-2.0zM579.4 280.9h2.0v2.0h-2.0zM581.0 287.7h2.0v2.0h-2.0zM583.5 283.3h2.0v2.0h-2.0zM603.0 275.8h2.0v2.0h-2.0zM604.3 280.7h2.0v2.0h-2.0zM593.4 276.4h2.0v2.0h-2.0zM595.3 285.5h2.0v2.0h-2.0zM591.7 288.3h2.0v2.0h-2.0zM603.0 282.4h2.0v2.0h-2.0zM592.5 283.0h2.0v2.0h-2.0zM574.1 284.0h2.0v2.0h-2.0zM600.9 284.2h2.0v2.0h-2.0zM599.5 277.7h2.0v2.0h-2.0zM595.1 283.0h2.0v2.0h-2.0zM597.9 282.3h2.0v2.0h-2.0zM605.0 281.2h2.0v2.0h-2.0zM581.9 284.9h2.0v2.0h-2.0zM590.8 284.7h2.0v2.0h-2.0zM590.4 284.1h2.0v2.0h-2.0zM586.1 275.4h2.0v2.0h-2.0zM581.8 286.2h2.0v2.0h-2.0zM596.1 275.9h2.0v2.0h-2.0zM579.2 279.8h2.0v2.0h-2.0zM599.2 282.3h2.0v2.0h-2.0zM583.8 274.6h2.0v2.0h-2.0zM585.3 282.3h2.0v2.0h-2.0zM603.6 278.5h2.0v2.0h-2.0zM586.9 287.6h2.0v2.0h-2.0zM605.5 278.1h2.0v2.0h-2.0zM604.3 285.0h2.0v2.0h-2.0zM576.2 280.0h2.0v2.0h-2.0zM589.3 287.0h2.0v2.0h-2.0zM582.6 284.0h2.0v2.0h-2.0zM594.2 281.5h2.0v2.0h-2.0zM592.5 280.2h2.0v2.0h-2.0zM592.4 280.2h2.0v2.0h-2.0zM602.9 273.3h2.0v2.0h-2.0zM601.2 285.9h2.0v2.0h-2.0zM571.4 285.4h2.0v2.0h-2.0zM583.7 281.1h2.0v2.0h-2.0zM589.1 285.7h2.0v2.0h-2.0zM588.0 283.7h2.0v2.0h-2.0zM584.5 284.1h2.0v2.0h-2.0zM580.3 284.8h2.0v2.0h-2.0zM586.3 286.9h2.0v2.0h-2.0zM580.7 277.7h2.0v2.0h-2.0zM592.9 273.1h2.0v2.0h-2.0zM605.1 283.1h2.0v2.0h-2.0zM605.0 274.6h2.0v2.0h-2.0zM595.8 275.0h2.0v2.0h-2.0zM573.9 279.9h2.0v2.0h-2.0zM587.5 282.2h2.0v2.0h-2.0zM587.3 274.9h2.0v2.0h-2.0zM594.9 276.3h2.0v2.0h-2.0zM581.2 286.6h2.0v2.0h-2.0zM594.9 285.5h2.0v2.0h-2.0zM603.3 288.1h2.0v2.0h-2.0zM589.2 282.2h2.0v2.0h-2.0zM580.7 278.7h2.0v2.0h-2.0zM596.2 278.0h2.0v2.0h-2.0zM595.2 285.6h2.0v2.0h-2.0zM592.6 272.5h2.0v2.0h-2.0zM590.7 278.1h2.0v2.0h-2.0zM596.0 285.2h2.0v2.0h-2.0zM588.6 285.6h2.0v2.0h-2.0zM576.0 287.3h2.0v2.0h-2.0zM599.4 279.1h2.0v2.0h-2.0zM603.6 282.2h2.0v2.0h-2.0zM578.5 281.8h2.0v2.0h-2.0zM600.8 284.6h2.0v2.0h-2.0zM600.2 271.7h2.0v2.0h-2.0zM577.4 278.3h2.0v2.0h-2.0zM576.9 284.4h2.0v2.0h-2.0zM573.8 286.4h2.0v2.0h-2.0zM590.6 275.4h2.0v2.0h-2.0zM602.3 281.6h2.0v2.0h-2.0zM594.9 288.0h2.0v2.0h-2.0zM578.0 282.8h2.0v2.0h-2.0zM590.8 286.0h2.0v2.0h-2.0zM594.4 281.1h2.0v2.0h-2.0zM586.3 275.2h2.0v2.0h-2.0zM580.4 284.1h2.0v2.0h-2.0zM590.3 282.3h2.0v2.0h-2.0zM600.8 276.3h2.0v2.0h-2.0zM580.4 285.0h2.0v2.0h-2.0zM593.7 284.4h2.0v2.0h-2.0zM590.5 285.8h2.0v2.0h-2.0zM590.9 277.8h2.0v2.0h-2.0zM593.4 284.7h2.0v2.0h-2.0zM603.2 283.7h2.0v2.0h-2.0zM589.3 278.1h2.0v2.0h-2.0zM585.9 276.7h2.0v2.0h-2.0zM592.7 288.2h2.0v2.0h-2.0zM591.7 275.1h2.0v2.0h-2.0zM581.3 284.8h2.0v2.0h-2.0zM594.8 272.6h2.0v2.0h-2.0zM599.4 274.2h2.0v2.0h-2.0zM597.5 274.1h2.0v2.0h-2.0zM589.9 278.4h2.0v2.0h-2.0zM601.6 276.5h2.0v2.0h-2.0zM573.2 285.3h2.0v2.0h-2.0zM573.9 286.6h2.0v2.0h-2.0zM601.0 273.8h2.0v2.0h-2.0zM601.9 279.8h2.0v2.0h-2.0zM584.4 275.2h2.0v2.0h-2.0zM605.4 280.1h2.0v2.0h-2.0zM588.3 283.0h2.0v2.0h-2.0zM585.2 279.8h2.0v2.0h-2.0zM604.5 279.1h2.0v2.0h-2.0zM584.2 288.2h2.0v2.0h-2.0zM587.6 283.9h2.0v2.0h-2.0zM581.0 284.6h2.0v2.0h-2.0zM583.9 286.7h2.0v2.0h-2.0zM590.2 288.1h2.0v2.0h-2.0zM586.4 284.4h2.0v2.0h-2.0zM580.3 282.7h2.0v2.0h-2.0zM594.2 274.8h2.0v2.0h-2.0zM578.1 280.8h2.0v2.0h-2.0zM600.3 279.5h2.0v2.0h-2.0zM572.0 281.5h2.0v2.0h-2.0zM594.2 286.5h2.0v2.0h-2.0zM600.0 272.8h2.0v2.0h-2.0zM580.1 282.8h2.0v2.0h-2.0zM589.7 276.9h2.0v2.0h-2.0zM598.3 279.6h2.0v2.0h-2.0zM593.7 286.6h2.0v2.0h-2.0zM596.5 273.0h2.0v2.0h-2.0zM572.9 287.4h2.0v2.0h-2.0zM593.8 274.0h2.0v2.0h-2.0zM575.6 281.0h2.0v2.0h-2.0zM596.1 282.1h2.0v2.0h-2.0zM594.5 284.8h2.0v2.0h-2.0zM581.0 280.8h2.0v2.0h-2.0zM604.0 288.0h2.0v2.0h-2.0zM597.4 273.1h2.0v2.0h-2.0zM592.8 285.3h2.0v2.0h-2.0zM586.1 278.6h2.0v2.0h-2.0zM587.5 276.1h2.0v2.0h-2.0zM586.5 282.1h2.0v2.0h-2.0zM601.9 286.2h2.0v2.0h-2.0zM598.8 281.0h2.0v2.0h-2.0zM580.5 287.3h2.0v2.0h-2.0zM575.1 282.9h2.0v2.0h-2.0zM593.2 273.2h2.0v2.0h-2.0zM578.1 284.4h2.0v2.0h-2.0zM601.0 278.8h2.0v2.0h-2.0zM589.6 285.2h2.0v2.0h-2.0zM591.4 280.3h2.0v2.0h-2.0zM593.3 285.2h2.0v2.0h-2.0zM599.0 282.2h2.0v2.0h-2.0zM594.1 274.9h2.0v2.0h-2.0zM576.7 287.2h2.0v2.0h-2.0zM578.8 279.7h2.0v2.0h-2.0zM602.0 273.9h2.0v2.0h-2.0zM594.8 276.0h2.0v2.0h-2.0zM592.9 287.3h2.0v2.0h-2.0zM599.7 286.6h2.0v2.0h-2.0zM589.1 281.9h2.0v2.0h-2.0zM597.2 272.0h2.0v2.0h-2.0zM603.6 274.7h2.0v2.0h-2.0zM596.2 280.0h2.0v2.0h-2.0zM592.4 286.1h2.0v2.0h-2.0zM581.4 287.5h2.0v2.0h-2.0zM597.4 282.6h2.0v2.0h-2.0zM591.1 278.7h2.0v2.0h-2.0zM604.9 278.8h2.0v2.0h-2.0zM579.4 282.2h2.0v2.0h-2.0zM591.2 278.8h2.0v2.0h-2.0zM597.1 282.2h2.0v2.0h-2.0zM599.8 287.7h2.0v2.0h-2.0zM559.9 282.4h2.0v2.0h-2.0zM573.0 287.4h2.0v2.0h-2.0zM560.7 287.5h2.0v2.0h-2.0zM555.3 277.2h2.0v2.0h-2.0zM560.3 280.9h2.0v2.0h-2.0zM567.0 283.5h2.0v2.0h-2.0zM573.8 277.4h2.0v2.0h-2.0zM555.3 287.5h2.0v2.0h-2.0zM552.6 276.4h2.0v2.0h-2.0zM570.9 275.1h2.0v2.0h-2.0zM553.2 277.3h2.0v2.0h-2.0zM556.0 284.0h2.0v2.0h-2.0zM572.9 279.6h2.0v2.0h-2.0zM553.5 287.2h2.0v2.0h-2.0zM556.9 275.7h2.0v2.0h-2.0zM558.2 278.5h2.0v2.0h-2.0zM573.5 280.4h2.0v2.0h-2.0zM556.7 283.0h2.0v2.0h-2.0zM556.5 280.4h2.0v2.0h-2.0zM572.3 276.8h2.0v2.0h-2.0zM570.2 286.8h2.0v2.0h-2.0zM605.2 267.1h2.0v2.0h-2.0zM541.8 279.0h2.0v2.0h-2.0zM550.0 279.0h2.0v2.0h-2.0zM557.0 285.0h2.0v2.0h-2.0zM605.0 267.0h2.0v2.0h-2.0zM609.0 270.0h2.0v2.0h-2.0zM612.0 272.0h2.0v2.0h-2.0zM605.0 285.0h2.0v2.0h-2.0z"/><path fill="#0ea92f" d="M575.8 289.3h2.0v2.0h-2.0z"/><path fill="#11aa32" d="M587.1 289.7h2.0v2.0h-2.0zM579.3 289.8h2.0v2.0h-2.0zM584.1 289.7h2.0v2.0h-2.0zM604.1 289.8h2.0v2.0h-2.0zM585.1 289.8h2.0v2.0h-2.0zM596.2 289.8h2.0v2.0h-2.0z"/><path fill="#0ba92d" d="M575.6 288.9h2.0v2.0h-2.0zM583.9 288.9h2.0v2.0h-2.0z"/><path fill="#18ab37" d="M599.8 290.7h2.0v2.0h-2.0zM585.5 290.7h2.0v2.0h-2.0z"/><path fill="#13ab33" d="M594.6 290.0h2.0v2.0h-2.0z"/><path fill="#19ac38" d="M596.4 290.8h2.0v2.0h-2.0zM594.4 290.8h2.0v2.0h-2.0z"/><path fill="#0da92f" d="M573.7 289.2h2.0v2.0h-2.0zM574.0 289.2h2.0v2.0h-2.0zM590.4 289.3h2.0v2.0h-2.0zM552.6 289.2h2.0v2.0h-2.0z"/><path fill="#17ab36" d="M578.7 290.5h2.0v2.0h-2.0zM589.7 290.5h2.0v2.0h-2.0zM601.0 290.5h2.0v2.0h-2.0zM613.9 290.6h2.0v2.0h-2.0zM577.7 290.5h2.0v2.0h-2.0zM603.9 290.6h2.0v2.0h-2.0z"/><path fill="#0ba92e" d="M604.9 289.0h2.0v2.0h-2.0z"/><path fill="#0faa30" d="M604.9 289.5h2.0v2.0h-2.0zM588.6 289.5h2.0v2.0h-2.0zM590.0 289.4h2.0v2.0h-2.0z"/><path fill="#10aa31" d="M603.1 289.6h2.0v2.0h-2.0zM577.2 289.6h2.0v2.0h-2.0zM561.2 289.7h2.0v2.0h-2.0z"/><path fill="#16ab36" d="M571.3 290.4h2.0v2.0h-2.0zM598.8 290.5h2.0v2.0h-2.0zM593.8 290.4h2.0v2.0h-2.0z"/><path fill="#12aa33" d="M589.5 289.9h2.0v2.0h-2.0zM578.8 289.9h2.0v2.0h-2.0z"/><path fill="#16ab35" d="M590.5 290.4h2.0v2.0h-2.0zM609.8 290.4h2.0v2.0h-2.0zM577.0 290.3h2.0v2.0h-2.0z"/><path fill="#08a82b" d="M572.3 288.6h2.0v2.0h-2.0zM585.7 288.5h2.0v2.0h-2.0z"/><path fill="#15ab35" d="M581.8 290.3h2.0v2.0h-2.0zM595.5 290.3h2.0v2.0h-2.0zM571.5 290.2h2.0v2.0h-2.0z"/><path fill="#0ca92e" d="M582.5 289.1h2.0v2.0h-2.0zM594.1 289.1h2.0v2.0h-2.0z"/><path fill="#0eaa30" d="M588.2 289.4h2.0v2.0h-2.0z"/><path fill="#0faa31" d="M587.2 289.6h2.0v2.0h-2.0zM603.2 289.5h2.0v2.0h-2.0z"/><path fill="#70c57b" d="M605.5 300.7h2.0v2.0h-2.0zM602.7 300.7h2.0v2.0h-2.0zM614.7 300.7h2.0v2.0h-2.0zM581.1 300.7h2.0v2.0h-2.0zM607.0 300.7h2.0v2.0h-2.0zM534.1 300.7h2.0v2.0h-2.0z"/><path fill="#26ae41" d="M602.9 292.4h2.0v2.0h-2.0zM593.9 292.4h2.0v2.0h-2.0zM577.6 292.4h2.0v2.0h-2.0zM588.9 292.4h2.0v2.0h-2.0zM573.3 292.4h2.0v2.0h-2.0z"/><path fill="#5abe6b" d="M601.6 298.4h2.0v2.0h-2.0zM581.9 298.5h2.0v2.0h-2.0zM618.1 298.4h2.0v2.0h-2.0zM573.1 298.4h2.0v2.0h-2.0z"/><path fill="#21ad3e" d="M591.0 291.8h2.0v2.0h-2.0z"/><path fill="#5bbe6c" d="M587.3 298.6h2.0v2.0h-2.0zM608.2 298.6h2.0v2.0h-2.0zM577.4 298.5h2.0v2.0h-2.0z"/><path fill="#14ab34" d="M579.8 290.1h2.0v2.0h-2.0zM596.2 290.2h2.0v2.0h-2.0z"/><path fill="#5dbf6e" d="M614.2 298.8h2.0v2.0h-2.0z"/><path fill="#45b759" d="M606.9 296.1h2.0v2.0h-2.0z"/><path fill="#58bd69" d="M602.9 298.2h2.0v2.0h-2.0zM593.1 298.2h2.0v2.0h-2.0z"/><path fill="#25ae40" d="M586.1 292.3h2.0v2.0h-2.0zM575.5 292.3h2.0v2.0h-2.0zM598.5 292.3h2.0v2.0h-2.0zM558.7 292.3h2.0v2.0h-2.0z"/><path fill="#4ab95e" d="M605.1 296.6h2.0v2.0h-2.0zM546.7 296.6h2.0v2.0h-2.0z"/><path fill="#37b24e" d="M620.5 294.6h2.0v2.0h-2.0zM574.8 294.5h2.0v2.0h-2.0z"/><path fill="#1dac3b" d="M590.5 291.3h2.0v2.0h-2.0z"/><path fill="#1fad3c" d="M569.8 291.5h2.0v2.0h-2.0zM566.1 291.5h2.0v2.0h-2.0zM654.0 291.6h2.0v2.0h-2.0z"/><path fill="#6fc57a" d="M599.8 300.6h2.0v2.0h-2.0zM539.2 300.6h2.0v2.0h-2.0zM596.2 300.6h2.0v2.0h-2.0zM614.7 300.6h2.0v2.0h-2.0zM559.2 300.6h2.0v2.0h-2.0z"/><path fill="#21ad3d" d="M574.9 291.8h2.0v2.0h-2.0zM582.0 291.8h2.0v2.0h-2.0zM611.6 291.8h2.0v2.0h-2.0z"/><path fill="#2daf46" d="M604.5 293.3h2.0v2.0h-2.0zM573.6 293.4h2.0v2.0h-2.0zM606.5 293.3h2.0v2.0h-2.0z"/><path fill="#66c274" d="M571.4 299.8h2.0v2.0h-2.0zM582.2 299.7h2.0v2.0h-2.0z"/><path fill="#3ab350" d="M576.7 294.8h2.0v2.0h-2.0z"/><path fill="#49b85d" d="M618.7 296.5h2.0v2.0h-2.0zM584.7 296.6h2.0v2.0h-2.0z"/><path fill="#1aac38" d="M576.7 290.9h2.0v2.0h-2.0zM603.7 290.9h2.0v2.0h-2.0z"/><path fill="#43b658" d="M602.4 295.9h2.0v2.0h-2.0zM585.1 295.8h2.0v2.0h-2.0z"/><path fill="#2caf45" d="M587.2 293.2h2.0v2.0h-2.0zM571.1 293.3h2.0v2.0h-2.0zM604.0 293.2h2.0v2.0h-2.0z"/><path fill="#31b049" d="M587.4 293.9h2.0v2.0h-2.0zM618.0 293.8h2.0v2.0h-2.0z"/><path fill="#3cb452" d="M608.1 295.1h2.0v2.0h-2.0zM578.9 295.1h2.0v2.0h-2.0z"/><path fill="#40b555" d="M613.1 295.5h2.0v2.0h-2.0zM612.0 295.5h2.0v2.0h-2.0z"/><path fill="#6bc477" d="M584.1 300.2h2.0v2.0h-2.0zM579.1 300.2h2.0v2.0h-2.0z"/><path fill="#61c071" d="M602.9 299.3h2.0v2.0h-2.0zM599.4 299.2h2.0v2.0h-2.0z"/><path fill="#33b14b" d="M602.0 294.1h2.0v2.0h-2.0z"/><path fill="#1bac39" d="M582.1 291.1h2.0v2.0h-2.0zM595.3 291.1h2.0v2.0h-2.0zM575.1 291.0h2.0v2.0h-2.0z"/><path fill="#24ae3f" d="M570.7 292.2h2.0v2.0h-2.0zM617.5 292.1h2.0v2.0h-2.0z"/><path fill="#15ab34" d="M576.5 290.2h2.0v2.0h-2.0z"/><path fill="#20ad3d" d="M602.2 291.7h2.0v2.0h-2.0zM607.0 291.7h2.0v2.0h-2.0zM619.1 291.7h2.0v2.0h-2.0zM619.3 291.7h2.0v2.0h-2.0zM619.3 291.7h2.0v2.0h-2.0zM612.2 291.7h2.0v2.0h-2.0zM611.4 291.7h2.0v2.0h-2.0zM612.9 291.7h2.0v2.0h-2.0zM605.7 291.7h2.0v2.0h-2.0zM608.9 291.7h2.0v2.0h-2.0zM611.9 291.7h2.0v2.0h-2.0zM617.3 291.7h2.0v2.0h-2.0zM626.9 291.7h2.0v2.0h-2.0zM621.8 291.7h2.0v2.0h-2.0zM617.4 291.7h2.0v2.0h-2.0zM622.2 291.7h2.0v2.0h-2.0zM615.7 291.7h2.0v2.0h-2.0zM606.1 291.7h2.0v2.0h-2.0zM621.5 291.7h2.0v2.0h-2.0z"/><path fill="#72c67c" d="M614.9 300.9h2.0v2.0h-2.0zM590.4 300.9h2.0v2.0h-2.0zM553.7 300.9h2.0v2.0h-2.0zM569.4 300.9h2.0v2.0h-2.0z"/><path fill="#41b656" d="M578.4 295.6h2.0v2.0h-2.0zM612.7 295.7h2.0v2.0h-2.0zM575.3 295.6h2.0v2.0h-2.0z"/><path fill="#71c67b" d="M617.6 300.8h2.0v2.0h-2.0zM570.6 300.8h2.0v2.0h-2.0z"/><path fill="#67c275" d="M607.3 299.8h2.0v2.0h-2.0zM597.9 299.8h2.0v2.0h-2.0zM573.9 299.8h2.0v2.0h-2.0z"/><path fill="#40b556" d="M574.1 295.6h2.0v2.0h-2.0z"/><path fill="#46b75a" d="M598.3 296.2h2.0v2.0h-2.0zM601.7 296.2h2.0v2.0h-2.0z"/><path fill="#19ac37" d="M619.5 290.7h2.0v2.0h-2.0zM596.5 290.7h2.0v2.0h-2.0z"/><path fill="#22ad3e" d="M584.6 291.9h2.0v2.0h-2.0zM585.7 292.0h2.0v2.0h-2.0z"/><path fill="#2eb047" d="M580.6 293.5h2.0v2.0h-2.0zM597.9 293.5h2.0v2.0h-2.0zM584.9 293.5h2.0v2.0h-2.0z"/><path fill="#6ec57a" d="M588.2 300.5h2.0v2.0h-2.0zM593.6 300.5h2.0v2.0h-2.0z"/><path fill="#3eb554" d="M586.1 295.3h2.0v2.0h-2.0z"/><path fill="#46b75b" d="M580.3 296.3h2.0v2.0h-2.0zM554.5 296.2h2.0v2.0h-2.0z"/><path fill="#2baf44" d="M584.6 293.1h2.0v2.0h-2.0zM574.1 293.1h2.0v2.0h-2.0z"/><path fill="#4dba60" d="M594.3 296.9h2.0v2.0h-2.0zM611.2 297.0h2.0v2.0h-2.0zM595.2 296.9h2.0v2.0h-2.0zM652.5 297.0h2.0v2.0h-2.0z"/><path fill="#49b85c" d="M604.9 296.5h2.0v2.0h-2.0z"/><path fill="#4bb95f" d="M587.0 296.8h2.0v2.0h-2.0zM589.2 296.8h2.0v2.0h-2.0zM558.0 296.8h2.0v2.0h-2.0z"/><path fill="#1eac3b" d="M616.0 291.4h2.0v2.0h-2.0z"/><path fill="#39b350" d="M607.6 294.8h2.0v2.0h-2.0z"/><path fill="#42b657" d="M609.7 295.8h2.0v2.0h-2.0z"/><path fill="#3db453" d="M611.7 295.2h2.0v2.0h-2.0zM595.6 295.2h2.0v2.0h-2.0z"/><path fill="#54bc66" d="M617.3 297.8h2.0v2.0h-2.0zM601.6 297.8h2.0v2.0h-2.0z"/><path fill="#6dc479" d="M584.0 300.4h2.0v2.0h-2.0zM600.4 300.4h2.0v2.0h-2.0zM554.1 300.4h2.0v2.0h-2.0zM545.7 300.4h2.0v2.0h-2.0zM578.1 300.4h2.0v2.0h-2.0z"/><path fill="#45b75a" d="M582.5 296.1h2.0v2.0h-2.0z"/><path fill="#1dac3a" d="M571.1 291.2h2.0v2.0h-2.0zM608.1 291.3h2.0v2.0h-2.0z"/><path fill="#51bb63" d="M611.6 297.4h2.0v2.0h-2.0z"/><path fill="#63c172" d="M593.5 299.4h2.0v2.0h-2.0zM576.5 299.4h2.0v2.0h-2.0zM518.1 299.4h2.0v2.0h-2.0z"/><path fill="#13ab34" d="M579.8 290.1h2.0v2.0h-2.0z"/><path fill="#47b85c" d="M586.5 296.4h2.0v2.0h-2.0zM585.3 296.4h2.0v2.0h-2.0z"/><path fill="#2eb046" d="M573.2 293.4h2.0v2.0h-2.0z"/><path fill="#62c171" d="M598.6 299.3h2.0v2.0h-2.0zM535.9 299.3h2.0v2.0h-2.0z"/><path fill="#65c273" d="M605.1 299.6h2.0v2.0h-2.0zM531.6 299.6h2.0v2.0h-2.0z"/><path fill="#50bb63" d="M604.5 297.4h2.0v2.0h-2.0zM599.9 297.3h2.0v2.0h-2.0zM604.7 297.3h2.0v2.0h-2.0zM557.1 297.3h2.0v2.0h-2.0z"/><path fill="#4eba61" d="M578.3 297.1h2.0v2.0h-2.0zM580.3 297.1h2.0v2.0h-2.0z"/><path fill="#36b24d" d="M617.2 294.5h2.0v2.0h-2.0zM608.0 294.4h2.0v2.0h-2.0zM559.0 294.4h2.0v2.0h-2.0z"/><path fill="#6ec579" d="M599.2 300.5h2.0v2.0h-2.0zM595.2 300.5h2.0v2.0h-2.0zM552.1 300.5h2.0v2.0h-2.0z"/><path fill="#35b24c" d="M609.2 294.3h2.0v2.0h-2.0zM607.9 294.3h2.0v2.0h-2.0zM577.8 294.3h2.0v2.0h-2.0z"/><path fill="#44b759" d="M586.5 296.0h2.0v2.0h-2.0zM573.7 296.0h2.0v2.0h-2.0z"/><path fill="#57bd68" d="M619.7 298.1h2.0v2.0h-2.0zM605.5 298.1h2.0v2.0h-2.0zM561.2 298.1h2.0v2.0h-2.0z"/><path fill="#1ead3b" d="M604.1 291.4h2.0v2.0h-2.0z"/><path fill="#38b34f" d="M611.0 294.7h2.0v2.0h-2.0z"/><path fill="#51bb64" d="M579.5 297.5h2.0v2.0h-2.0zM607.9 297.5h2.0v2.0h-2.0z"/><path fill="#2fb047" d="M610.3 293.6h2.0v2.0h-2.0zM596.6 293.6h2.0v2.0h-2.0z"/><path fill="#2baf45" d="M619.8 293.1h2.0v2.0h-2.0zM608.7 293.1h2.0v2.0h-2.0z"/><path fill="#33b14a" d="M580.7 294.1h2.0v2.0h-2.0z"/><path fill="#6cc478" d="M609.5 300.3h2.0v2.0h-2.0zM588.7 300.3h2.0v2.0h-2.0z"/><path fill="#6dc478" d="M591.3 300.4h2.0v2.0h-2.0z"/><path fill="#5fc06f" d="M569.9 299.0h2.0v2.0h-2.0z"/><path fill="#53bc65" d="M595.9 297.6h2.0v2.0h-2.0zM539.8 297.7h2.0v2.0h-2.0z"/><path fill="#5ebf6f" d="M603.0 298.9h2.0v2.0h-2.0zM571.6 298.9h2.0v2.0h-2.0z"/><path fill="#4bb95e" d="M583.3 296.8h2.0v2.0h-2.0zM607.4 296.7h2.0v2.0h-2.0z"/><path fill="#55bc67" d="M618.9 297.9h2.0v2.0h-2.0z"/><path fill="#48b85c" d="M597.1 296.4h2.0v2.0h-2.0zM618.2 296.4h2.0v2.0h-2.0z"/><path fill="#39b34f" d="M580.5 294.7h2.0v2.0h-2.0z"/><path fill="#1cac39" d="M574.4 291.1h2.0v2.0h-2.0z"/><path fill="#29af43" d="M601.3 292.9h2.0v2.0h-2.0zM599.0 292.9h2.0v2.0h-2.0z"/><path fill="#3ab351" d="M594.7 294.9h2.0v2.0h-2.0zM551.9 294.9h2.0v2.0h-2.0zM544.2 294.9h2.0v2.0h-2.0zM548.4 294.9h2.0v2.0h-2.0zM556.5 294.9h2.0v2.0h-2.0zM543.6 294.9h2.0v2.0h-2.0zM554.3 294.9h2.0v2.0h-2.0zM547.4 294.9h2.0v2.0h-2.0zM559.4 294.9h2.0v2.0h-2.0zM548.0 294.9h2.0v2.0h-2.0zM547.5 294.9h2.0v2.0h-2.0zM546.4 294.9h2.0v2.0h-2.0zM551.8 294.9h2.0v2.0h-2.0zM560.1 294.9h2.0v2.0h-2.0zM551.8 294.9h2.0v2.0h-2.0zM555.8 294.9h2.0v2.0h-2.0zM551.4 294.9h2.0v2.0h-2.0z"/><path fill="#47b85b" d="M599.3 296.3h2.0v2.0h-2.0z"/><path fill="#4cb95f" d="M616.8 296.9h2.0v2.0h-2.0z"/><path fill="#5dbf6d" d="M587.3 298.7h2.0v2.0h-2.0zM596.1 298.8h2.0v2.0h-2.0z"/><path fill="#2aaf44" d="M570.9 293.0h2.0v2.0h-2.0z"/><path fill="#73c67d" d="M620.0 301.0h2.0v2.0h-2.0zM583.6 301.0h2.0v2.0h-2.0z"/><path fill="#5ebf6e" d="M593.8 298.9h2.0v2.0h-2.0zM536.3 298.9h2.0v2.0h-2.0zM536.5 298.9h2.0v2.0h-2.0z"/><path fill="#44b758" d="M571.4 295.9h2.0v2.0h-2.0z"/><path fill="#0aa92d" d="M567.4 288.8h2.0v2.0h-2.0z"/><path fill="#52bb64" d="M530.1 297.5h2.0v2.0h-2.0z"/><path fill="#79c881" d="M548.7 301.6h2.0v2.0h-2.0zM564.7 301.6h2.0v2.0h-2.0zM563.0 301.6h2.0v2.0h-2.0z"/><path fill="#8bce8d" d="M556.8 303.4h2.0v2.0h-2.0z"/><path fill="#9cd597" d="M548.9 305.2h2.0v2.0h-2.0zM548.7 305.3h2.0v2.0h-2.0zM572.2 305.3h2.0v2.0h-2.0zM520.9 305.3h2.0v2.0h-2.0zM619.2 305.3h2.0v2.0h-2.0z"/><path fill="#92d191" d="M542.4 304.1h2.0v2.0h-2.0zM607.4 304.1h2.0v2.0h-2.0z"/><path fill="#99d395" d="M559.0 304.9h2.0v2.0h-2.0zM523.8 304.9h2.0v2.0h-2.0z"/><path fill="#58bd6a" d="M550.2 298.3h2.0v2.0h-2.0z"/><path fill="#56bd68" d="M536.6 298.0h2.0v2.0h-2.0z"/><path fill="#9ed698" d="M549.5 305.5h2.0v2.0h-2.0z"/><path fill="#5cbf6d" d="M551.7 298.7h2.0v2.0h-2.0zM600.0 298.7h2.0v2.0h-2.0zM523.3 298.7h2.0v2.0h-2.0zM588.9 298.7h2.0v2.0h-2.0z"/><path fill="#64c173" d="M548.8 299.5h2.0v2.0h-2.0zM591.1 299.6h2.0v2.0h-2.0z"/><path fill="#7bc982" d="M553.5 301.7h2.0v2.0h-2.0z"/><path fill="#82cb86" d="M530.6 302.4h2.0v2.0h-2.0z"/><path fill="#76c77e" d="M549.1 301.2h2.0v2.0h-2.0z"/><path fill="#74c77d" d="M538.3 301.1h2.0v2.0h-2.0zM585.9 301.1h2.0v2.0h-2.0zM588.1 301.1h2.0v2.0h-2.0z"/><path fill="#9bd597" d="M547.1 305.2h2.0v2.0h-2.0z"/><path fill="#acdba1" d="M526.9 307.2h2.0v2.0h-2.0zM612.7 307.2h2.0v2.0h-2.0zM612.5 307.2h2.0v2.0h-2.0zM515.3 307.1h2.0v2.0h-2.0z"/><path fill="#84cc88" d="M587.0 302.7h2.0v2.0h-2.0z"/><path fill="#c1e4af" d="M569.9 310.2h2.0v2.0h-2.0z"/><path fill="#91d090" d="M562.5 303.9h2.0v2.0h-2.0zM617.3 303.9h2.0v2.0h-2.0z"/><path fill="#7dca83" d="M578.7 302.0h2.0v2.0h-2.0zM527.4 301.9h2.0v2.0h-2.0z"/><path fill="#97d394" d="M544.4 304.7h2.0v2.0h-2.0zM602.8 304.6h2.0v2.0h-2.0zM548.1 304.6h2.0v2.0h-2.0z"/><path fill="#7ac981" d="M540.3 301.7h2.0v2.0h-2.0z"/><path fill="#77c880" d="M587.2 301.4h2.0v2.0h-2.0z"/><path fill="#87cd8a" d="M587.9 302.9h2.0v2.0h-2.0zM599.9 302.9h2.0v2.0h-2.0zM584.3 302.9h2.0v2.0h-2.0zM592.3 303.0h2.0v2.0h-2.0zM570.3 303.0h2.0v2.0h-2.0z"/><path fill="#57bd69" d="M534.6 298.2h2.0v2.0h-2.0z"/><path fill="#60c070" d="M595.7 299.1h2.0v2.0h-2.0zM577.6 299.2h2.0v2.0h-2.0z"/><path fill="#7ac982" d="M544.6 301.7h2.0v2.0h-2.0z"/><path fill="#5cbf6c" d="M518.3 298.7h2.0v2.0h-2.0zM536.9 298.6h2.0v2.0h-2.0z"/><path fill="#59be6a" d="M617.0 298.3h2.0v2.0h-2.0z"/><path fill="#91d191" d="M564.8 304.0h2.0v2.0h-2.0z"/><path fill="#91d091" d="M597.4 304.0h2.0v2.0h-2.0z"/><path fill="#aadba0" d="M607.5 307.0h2.0v2.0h-2.0z"/><path fill="#aada9f" d="M559.2 306.9h2.0v2.0h-2.0z"/><path fill="#89ce8b" d="M519.8 303.1h2.0v2.0h-2.0z"/><path fill="#93d192" d="M603.8 304.2h2.0v2.0h-2.0z"/><path fill="#90d090" d="M586.0 303.8h2.0v2.0h-2.0zM530.3 303.9h2.0v2.0h-2.0z"/><path fill="#8dcf8e" d="M575.1 303.6h2.0v2.0h-2.0z"/><path fill="#69c376" d="M556.6 300.0h2.0v2.0h-2.0z"/><path fill="#98d395" d="M540.5 304.8h2.0v2.0h-2.0zM567.7 304.8h2.0v2.0h-2.0z"/><path fill="#78c880" d="M562.6 301.5h2.0v2.0h-2.0zM612.9 301.4h2.0v2.0h-2.0z"/><path fill="#81cb86" d="M516.4 302.3h2.0v2.0h-2.0z"/><path fill="#7fca85" d="M619.8 302.2h2.0v2.0h-2.0z"/><path fill="#a5d89c" d="M568.7 306.3h2.0v2.0h-2.0z"/><path fill="#b9e0a9" d="M545.4 308.7h2.0v2.0h-2.0z"/><path fill="#96d294" d="M526.6 304.5h2.0v2.0h-2.0z"/><path fill="#65c274" d="M530.0 299.7h2.0v2.0h-2.0z"/><path fill="#c5e5b1" d="M576.1 310.7h2.0v2.0h-2.0z"/><path fill="#8fd090" d="M517.1 303.8h2.0v2.0h-2.0z"/><path fill="#9ad496" d="M520.9 305.0h2.0v2.0h-2.0zM517.3 305.0h2.0v2.0h-2.0z"/><path fill="#94d293" d="M574.2 304.4h2.0v2.0h-2.0z"/><path fill="#86cd89" d="M530.5 302.8h2.0v2.0h-2.0zM598.5 302.8h2.0v2.0h-2.0zM518.3 302.8h2.0v2.0h-2.0z"/><path fill="#bfe3ae" d="M530.8 309.8h2.0v2.0h-2.0z"/><path fill="#aadaa0" d="M557.2 306.9h2.0v2.0h-2.0zM540.5 306.9h2.0v2.0h-2.0z"/><path fill="#b6dfa7" d="M598.9 308.3h2.0v2.0h-2.0z"/><path fill="#82cb87" d="M608.7 302.5h2.0v2.0h-2.0z"/><path fill="#8ace8c" d="M553.5 303.2h2.0v2.0h-2.0z"/><path fill="#addba1" d="M569.5 307.2h2.0v2.0h-2.0z"/><path fill="#68c375" d="M518.9 299.9h2.0v2.0h-2.0z"/><path fill="#bbe1ab" d="M582.6 309.1h2.0v2.0h-2.0z"/><path fill="#7eca84" d="M540.3 302.1h2.0v2.0h-2.0zM620.8 302.1h2.0v2.0h-2.0z"/><path fill="#88cd8b" d="M583.1 303.1h2.0v2.0h-2.0z"/><path fill="#6ac377" d="M607.0 300.1h2.0v2.0h-2.0z"/><path fill="#80cb85" d="M512.1 302.3h2.0v2.0h-2.0z"/><path fill="#85cc89" d="M566.4 302.8h2.0v2.0h-2.0z"/><path fill="#f3edc1" d="M510.1 321.4h2.0v2.0h-2.0z"/><path fill="#f1efc5" d="M509.5 320.2h2.0v2.0h-2.0z"/><path fill="#c7e6b3" d="M519.1 311.1h2.0v2.0h-2.0z"/><path fill="#ebefc6" d="M514.0 318.3h2.0v2.0h-2.0z"/><path fill="#f1efc6" d="M507.7 319.9h2.0v2.0h-2.0z"/><path fill="#daecc1" d="M514.4 314.3h2.0v2.0h-2.0z"/><path fill="#d7ecbf" d="M524.0 313.8h2.0v2.0h-2.0z"/><path fill="#e0edc3" d="M505.5 315.8h2.0v2.0h-2.0z"/><path fill="#d7ebbf" d="M515.3 313.7h2.0v2.0h-2.0z"/><path fill="#f0f0c7" d="M507.0 319.6h2.0v2.0h-2.0z"/><path fill="#dbecc1" d="M507.6 314.6h2.0v2.0h-2.0zM514.3 314.6h2.0v2.0h-2.0z"/><path fill="#f7e9bb" d="M523.7 323.3h2.0v2.0h-2.0z"/><path fill="#ff2c90" d="M534.3 376.5h2.0v2.0h-2.0zM516.5 376.3h2.0v2.0h-2.0zM526.6 376.7h2.0v2.0h-2.0zM534.0 376.7h2.0v2.0h-2.0zM525.7 376.6h2.0v2.0h-2.0zM515.4 376.2h2.0v2.0h-2.0zM520.3 376.4h2.0v2.0h-2.0zM545.8 376.3h2.0v2.0h-2.0zM550.2 376.5h2.0v2.0h-2.0z"/><path fill="#ff2d90" d="M529.5 375.7h2.0v2.0h-2.0zM529.4 375.6h2.0v2.0h-2.0zM530.0 375.7h2.0v2.0h-2.0zM539.3 375.6h2.0v2.0h-2.0zM577.7 376.0h2.0v2.0h-2.0z"/><path fill="#ff4b95" d="M515.6 369.8h2.0v2.0h-2.0zM530.0 369.9h2.0v2.0h-2.0zM524.0 369.9h2.0v2.0h-2.0zM600.9 369.9h2.0v2.0h-2.0z"/><path fill="#ff2e90" d="M541.7 375.4h2.0v2.0h-2.0zM529.2 375.4h2.0v2.0h-2.0zM512.0 375.3h2.0v2.0h-2.0zM517.5 375.1h2.0v2.0h-2.0zM538.9 375.4h2.0v2.0h-2.0zM512.2 375.1h2.0v2.0h-2.0zM531.6 375.2h2.0v2.0h-2.0zM534.6 375.5h2.0v2.0h-2.0zM572.0 375.1h2.0v2.0h-2.0zM587.2 375.3h2.0v2.0h-2.0zM598.2 375.0h2.0v2.0h-2.0z"/><path fill="#ff5797" d="M545.3 368.0h2.0v2.0h-2.0zM533.0 367.9h2.0v2.0h-2.0z"/><path fill="#ff3c92" d="M520.5 372.2h2.0v2.0h-2.0zM518.6 372.1h2.0v2.0h-2.0zM519.5 372.3h2.0v2.0h-2.0zM589.1 372.2h2.0v2.0h-2.0zM602.2 372.2h2.0v2.0h-2.0z"/><path fill="#ff3090" d="M516.1 374.3h2.0v2.0h-2.0zM517.1 374.2h2.0v2.0h-2.0zM506.7 374.3h2.0v2.0h-2.0zM545.8 374.1h2.0v2.0h-2.0zM598.4 374.1h2.0v2.0h-2.0z"/><path fill="#ff2f90" d="M507.6 374.8h2.0v2.0h-2.0zM518.9 374.6h2.0v2.0h-2.0zM524.7 374.5h2.0v2.0h-2.0zM569.5 374.5h2.0v2.0h-2.0zM586.5 375.0h2.0v2.0h-2.0zM597.4 374.8h2.0v2.0h-2.0z"/><path fill="#ff6796" d="M536.3 365.2h2.0v2.0h-2.0zM519.3 365.2h2.0v2.0h-2.0zM524.0 365.2h2.0v2.0h-2.0z"/><path fill="#ff3691" d="M505.7 373.1h2.0v2.0h-2.0zM508.0 373.2h2.0v2.0h-2.0zM521.2 373.2h2.0v2.0h-2.0z"/><path fill="#ff6596" d="M515.3 365.5h2.0v2.0h-2.0zM523.6 365.5h2.0v2.0h-2.0zM545.3 365.6h2.0v2.0h-2.0zM504.6 365.5h2.0v2.0h-2.0zM537.6 365.5h2.0v2.0h-2.0zM585.3 365.6h2.0v2.0h-2.0z"/><path fill="#ff3190" d="M537.4 374.0h2.0v2.0h-2.0zM526.9 373.9h2.0v2.0h-2.0z"/><path fill="#ff2a90" d="M536.8 377.4h2.0v2.0h-2.0zM511.7 377.5h2.0v2.0h-2.0zM525.5 377.3h2.0v2.0h-2.0zM512.8 377.7h2.0v2.0h-2.0zM516.8 377.7h2.0v2.0h-2.0zM521.6 377.4h2.0v2.0h-2.0zM511.7 377.3h2.0v2.0h-2.0zM529.3 377.3h2.0v2.0h-2.0zM511.3 377.4h2.0v2.0h-2.0zM522.0 377.7h2.0v2.0h-2.0zM562.7 377.6h2.0v2.0h-2.0zM562.8 377.5h2.0v2.0h-2.0zM582.9 377.7h2.0v2.0h-2.0zM528.6 377.4h2.0v2.0h-2.0z"/><path fill="#ff3391" d="M509.8 373.7h2.0v2.0h-2.0zM522.0 373.6h2.0v2.0h-2.0zM568.4 373.6h2.0v2.0h-2.0z"/><path fill="#ff228a" d="M516.2 382.5h2.0v2.0h-2.0zM511.8 382.5h2.0v2.0h-2.0zM562.5 382.7h2.0v2.0h-2.0zM521.8 382.6h2.0v2.0h-2.0zM563.2 382.7h2.0v2.0h-2.0z"/><path fill="#ff3f93" d="M539.2 371.7h2.0v2.0h-2.0zM593.8 371.7h2.0v2.0h-2.0zM583.4 371.8h2.0v2.0h-2.0zM583.8 371.7h2.0v2.0h-2.0z"/><path fill="#ff4494" d="M538.2 370.9h2.0v2.0h-2.0zM540.3 370.9h2.0v2.0h-2.0z"/><path fill="#ff258d" d="M512.1 381.0h2.0v2.0h-2.0zM524.5 381.1h2.0v2.0h-2.0zM517.5 380.8h2.0v2.0h-2.0zM513.0 380.9h2.0v2.0h-2.0zM512.4 381.0h2.0v2.0h-2.0z"/><path fill="#ff3b92" d="M505.8 372.4h2.0v2.0h-2.0zM515.4 372.3h2.0v2.0h-2.0zM539.3 372.3h2.0v2.0h-2.0z"/><path fill="#ff4193" d="M520.4 371.5h2.0v2.0h-2.0zM538.7 371.5h2.0v2.0h-2.0zM534.7 371.4h2.0v2.0h-2.0zM520.8 371.4h2.0v2.0h-2.0zM565.8 371.4h2.0v2.0h-2.0zM591.6 371.4h2.0v2.0h-2.0z"/><path fill="#ff2990" d="M533.9 378.3h2.0v2.0h-2.0zM521.3 378.4h2.0v2.0h-2.0zM536.0 378.0h2.0v2.0h-2.0zM520.4 378.3h2.0v2.0h-2.0zM517.4 378.2h2.0v2.0h-2.0zM536.0 378.0h2.0v2.0h-2.0zM518.9 378.2h2.0v2.0h-2.0zM529.0 378.1h2.0v2.0h-2.0zM567.8 377.9h2.0v2.0h-2.0zM572.5 378.1h2.0v2.0h-2.0zM592.3 378.3h2.0v2.0h-2.0zM611.8 378.0h2.0v2.0h-2.0z"/><path fill="#ff4a95" d="M527.9 370.0h2.0v2.0h-2.0zM538.2 370.0h2.0v2.0h-2.0zM517.1 369.9h2.0v2.0h-2.0z"/><path fill="#ff5c98" d="M528.2 367.1h2.0v2.0h-2.0zM518.4 367.0h2.0v2.0h-2.0zM572.5 367.2h2.0v2.0h-2.0z"/><path fill="#ff4e95" d="M522.2 369.4h2.0v2.0h-2.0z"/><path fill="#ff4594" d="M523.6 370.8h2.0v2.0h-2.0zM578.2 370.7h2.0v2.0h-2.0zM581.8 370.8h2.0v2.0h-2.0z"/><path fill="#ff6696" d="M504.8 365.3h2.0v2.0h-2.0zM561.3 365.4h2.0v2.0h-2.0zM596.9 365.5h2.0v2.0h-2.0z"/><path fill="#ff248c" d="M511.2 381.4h2.0v2.0h-2.0zM519.4 381.1h2.0v2.0h-2.0zM511.7 381.7h2.0v2.0h-2.0zM511.9 381.3h2.0v2.0h-2.0zM522.6 381.2h2.0v2.0h-2.0zM523.5 381.3h2.0v2.0h-2.0zM550.8 381.3h2.0v2.0h-2.0z"/><path fill="#ff3791" d="M511.8 373.0h2.0v2.0h-2.0zM519.5 373.0h2.0v2.0h-2.0zM520.3 373.0h2.0v2.0h-2.0zM544.8 372.9h2.0v2.0h-2.0z"/><path fill="#ff3891" d="M506.8 372.9h2.0v2.0h-2.0zM538.8 372.9h2.0v2.0h-2.0z"/><path fill="#ff3892" d="M539.4 372.8h2.0v2.0h-2.0z"/><path fill="#ff3390" d="M531.1 373.7h2.0v2.0h-2.0zM545.6 373.7h2.0v2.0h-2.0z"/><path fill="#ff238b" d="M517.2 382.2h2.0v2.0h-2.0zM511.9 381.9h2.0v2.0h-2.0zM554.0 381.8h2.0v2.0h-2.0zM560.5 382.0h2.0v2.0h-2.0zM567.4 382.2h2.0v2.0h-2.0zM558.7 382.4h2.0v2.0h-2.0zM607.6 382.2h2.0v2.0h-2.0z"/><path fill="#ff278f" d="M528.7 379.4h2.0v2.0h-2.0zM511.7 379.6h2.0v2.0h-2.0zM546.9 379.5h2.0v2.0h-2.0zM588.0 379.2h2.0v2.0h-2.0zM520.6 379.3h2.0v2.0h-2.0z"/><path fill="#ff4e96" d="M539.8 369.3h2.0v2.0h-2.0zM525.2 369.3h2.0v2.0h-2.0z"/><path fill="#ff268e" d="M519.9 379.9h2.0v2.0h-2.0zM525.6 379.8h2.0v2.0h-2.0zM518.4 380.2h2.0v2.0h-2.0zM573.4 380.0h2.0v2.0h-2.0zM532.3 380.2h2.0v2.0h-2.0z"/><path fill="#ff3992" d="M507.9 372.7h2.0v2.0h-2.0zM518.5 372.8h2.0v2.0h-2.0z"/><path fill="#ff2890" d="M531.9 379.0h2.0v2.0h-2.0zM521.8 379.0h2.0v2.0h-2.0zM532.4 378.5h2.0v2.0h-2.0zM564.8 378.7h2.0v2.0h-2.0zM558.0 378.6h2.0v2.0h-2.0zM577.5 378.8h2.0v2.0h-2.0zM559.5 378.6h2.0v2.0h-2.0z"/><path fill="#ff4d95" d="M508.8 369.5h2.0v2.0h-2.0zM522.2 369.5h2.0v2.0h-2.0zM552.8 369.6h2.0v2.0h-2.0z"/><path fill="#ff3290" d="M531.9 373.8h2.0v2.0h-2.0zM551.6 373.7h2.0v2.0h-2.0z"/><path fill="#ff4f96" d="M543.4 369.3h2.0v2.0h-2.0z"/><path fill="#ff4994" d="M531.7 370.2h2.0v2.0h-2.0z"/><path fill="#ff3e93" d="M527.0 371.9h2.0v2.0h-2.0z"/><path fill="#ff3591" d="M534.0 373.4h2.0v2.0h-2.0z"/><path fill="#ff4694" d="M532.4 370.5h2.0v2.0h-2.0zM526.7 370.6h2.0v2.0h-2.0zM564.3 370.6h2.0v2.0h-2.0zM599.8 370.6h2.0v2.0h-2.0zM626.0 370.7h2.0v2.0h-2.0z"/><path fill="#ff4794" d="M515.7 370.4h2.0v2.0h-2.0zM523.2 370.4h2.0v2.0h-2.0zM530.8 370.5h2.0v2.0h-2.0z"/><path fill="#ff2b90" d="M521.2 377.1h2.0v2.0h-2.0zM531.2 377.0h2.0v2.0h-2.0zM508.5 377.2h2.0v2.0h-2.0zM598.7 376.9h2.0v2.0h-2.0z"/><path fill="#ff4093" d="M554.6 371.6h2.0v2.0h-2.0z"/><path fill="#ff3a92" d="M573.1 372.6h2.0v2.0h-2.0zM494.0 372.5h2.0v2.0h-2.0zM498.0 372.5h2.0v2.0h-2.0z"/><path fill="#ff5496" d="M552.8 368.5h2.0v2.0h-2.0z"/><path fill="#ff4394" d="M593.8 371.1h2.0v2.0h-2.0zM573.6 371.0h2.0v2.0h-2.0z"/><path fill="#ff8790" d="M602.3 359.6h2.0v2.0h-2.0z"/><path fill="#ff3491" d="M596.7 373.6h2.0v2.0h-2.0z"/><path fill="#ff8d8f" d="M595.6 358.2h2.0v2.0h-2.0zM600.4 358.1h2.0v2.0h-2.0z"/><path fill="#ff8c90" d="M603.5 358.6h2.0v2.0h-2.0z"/><path fill="#ff7294" d="M593.7 363.3h2.0v2.0h-2.0z"/><path fill="#ff9e8b" d="M603.4 352.6h2.0v2.0h-2.0z"/><path fill="#ff8092" d="M624.8 360.9h2.0v2.0h-2.0z"/><path fill="#ffa788" d="M620.1 349.3h2.0v2.0h-2.0z"/><path fill="#ffa18a" d="M613.1 351.4h2.0v2.0h-2.0z"/><path fill="#ff7095" d="M592.5 363.6h2.0v2.0h-2.0z"/><path fill="#ff7194" d="M615.7 363.5h2.0v2.0h-2.0z"/><path fill="#ff2189" d="M540.4 383.8h2.0v2.0h-2.0z"/><path fill="#ff2088" d="M540.6 388.1h2.0v2.0h-2.0zM530.7 387.8h2.0v2.0h-2.0zM566.8 386.4h2.0v2.0h-2.0zM522.8 387.8h2.0v2.0h-2.0zM544.7 391.0h2.0v2.0h-2.0zM615.9 389.4h2.0v2.0h-2.0zM581.7 388.0h2.0v2.0h-2.0zM601.8 390.0h2.0v2.0h-2.0zM590.0 389.3h2.0v2.0h-2.0zM566.4 389.4h2.0v2.0h-2.0zM558.0 403.6h2.0v2.0h-2.0zM555.0 410.0h2.0v2.0h-2.0z"/><path fill="#f8e7b6" d="M628.3 324.6h2.0v2.0h-2.0z"/><path fill="#fdd29c" d="M639.9 334.0h2.0v2.0h-2.0z"/><path fill="#ffc790" d="M637.2 339.3h2.0v2.0h-2.0z"/><path fill="#f8e7b7" d="M649.9 324.5h2.0v2.0h-2.0z"/><path fill="#fcdba6" d="M623.4 329.6h2.0v2.0h-2.0z"/><path fill="#ffbc8a" d="M648.2 342.9h2.0v2.0h-2.0z"/><path fill="#ffc08c" d="M650.5 341.7h2.0v2.0h-2.0z"/><path fill="#fae1ae" d="M652.5 327.0h2.0v2.0h-2.0z"/><line x1="495.5" y1="348.5" x2="654.6" y2="320.8" stroke="#0a4888" stroke-width="2.5"/><path d="M79.9 5 Q80.9 21 79.9 37 Q78.9 21 79.9 5Z" fill="#f868ec" stroke="#f868ec" stroke-width="1"/><ellipse cx="80.1" cy="21.1" rx="2.6" ry="2.1" fill="#f868ec"/><path d="M107.7 40.1 C108.7 42.1 108.65 52.1 109.60000000000001 56.1 C108.65 60.1 108.7 70.1 107.7 72.1 C106.7 70.1 106.75 60.1 105.8 56.1 C106.75 52.1 106.7 42.1 107.7 40.1Z" fill="#00B0F6" stroke="#00B0F6" stroke-width="0.9"/><line x1="104.8" y1="56.2" x2="110.6" y2="56.2" stroke="#00B0F6" stroke-width="1.6"/><ellipse cx="104.8" cy="56.2" rx="1.9" ry="1.9" fill="#00B0F6"/><ellipse cx="110.6" cy="56.2" rx="1.9" ry="1.9" fill="#00B0F6"/><rect x="106.2" y="54.3" width="3" height="4" fill="#00B0F6"/><path d="M81.7 75.1 C82.7 77.1 82.4 87.1 83.10000000000001 91.1 C82.4 95.1 82.7 105.1 81.7 107.1 C80.7 105.1 81.0 95.1 80.3 91.1 C81.0 87.1 80.7 77.1 81.7 75.1Z" fill="#00BF7D" stroke="#00BF7D" stroke-width="0.9"/><line x1="80.4" y1="91.1" x2="83.3" y2="91.1" stroke="#00BF7D" stroke-width="1.6"/><ellipse cx="80.4" cy="91.1" rx="1.9" ry="1.9" fill="#00BF7D"/><ellipse cx="83.3" cy="91.1" rx="1.9" ry="1.9" fill="#00BF7D"/><path d="M159 110.5 C160 112.5 161.65 122.2 164.3 126.2 C161.65 130.2 160 139.9 159 141.9 C158 139.9 156.35 130.2 153.7 126.2 C156.35 122.2 158 112.5 159 110.5Z" fill="none" stroke="#A3A500" stroke-width="0.9"/><line x1="151.6" y1="126" x2="166.2" y2="126" stroke="#A3A500" stroke-width="1.3"/><ellipse cx="151.6" cy="126" rx="2.0" ry="2.0" fill="#A3A500"/><ellipse cx="166.2" cy="126" rx="2.0" ry="2.0" fill="#A3A500"/><rect x="156.9" y="120.5" width="3.8" height="11" fill="#A3A500"/><path d="M95.3 145 C96.3 147 96.6 157 97.89999999999999 161 C96.6 165 96.3 175 95.3 177 C94.3 175 94.0 165 92.7 161 C94.0 157 94.3 147 95.3 145Z" fill="none" stroke="#F8766D" stroke-width="0.9"/><line x1="91" y1="160.9" x2="100.3" y2="160.9" stroke="#F8766D" stroke-width="1.3"/><ellipse cx="91" cy="160.9" rx="2.0" ry="2.0" fill="#F8766D"/><ellipse cx="100.3" cy="160.9" rx="2.0" ry="2.0" fill="#F8766D"/><rect x="93.8" y="156.3" width="2.6" height="9.3" fill="#F8766D"/><path d="M88.4 252.2 C89.4 254.2 89.30000000000001 264.2 90.2 268.2 C89.30000000000001 272.2 89.4 282.2 88.4 284.2 C87.4 282.2 87.5 272.2 86.60000000000001 268.2 C87.5 264.2 87.4 254.2 88.4 252.2Z" fill="none" stroke="#f868ec" stroke-width="0.9"/><line x1="85.5" y1="268.2" x2="91.2" y2="268.2" stroke="#f868ec" stroke-width="1.3"/><ellipse cx="85.5" cy="268.2" rx="1.9" ry="1.9" fill="#f868ec"/><ellipse cx="91.2" cy="268.2" rx="1.9" ry="1.9" fill="#f868ec"/><rect x="87.4" y="264" width="2" height="8.4" fill="#f868ec"/><path d="M139.9 287.2 C140.9 289.2 143.75 299.2 147.6 303.2 C143.75 307.2 140.9 317.2 139.9 319.2 C138.9 317.2 136.05 307.2 132.20000000000002 303.2 C136.05 299.2 138.9 289.2 139.9 287.2Z" fill="none" stroke="#00B0F6" stroke-width="0.9"/><line x1="128.6" y1="303.2" x2="150.8" y2="303.2" stroke="#00B0F6" stroke-width="1.2"/><ellipse cx="128.6" cy="303.2" rx="2.9" ry="1.7" fill="#00B0F6"/><ellipse cx="150.8" cy="303.2" rx="2.9" ry="1.7" fill="#00B0F6"/><rect x="137.5" y="297.7" width="4.9" height="10.6" fill="#fff" stroke="#00B0F6" stroke-width="1"/><line x1="139.9" y1="297.7" x2="139.9" y2="308.3" stroke="#00B0F6" stroke-width="1"/><path d="M81 322.1 C82 324.1 81.65 334.1 82.3 338.1 C81.65 342.1 82 352.1 81 354.1 C80 352.1 80.35 342.1 79.7 338.1 C80.35 334.1 80 324.1 81 322.1Z" fill="#00BF7D" stroke="#00BF7D" stroke-width="0.9"/><line x1="78.6" y1="338.1" x2="84" y2="338.1" stroke="#00BF7D" stroke-width="1.6"/><ellipse cx="78.6" cy="338.1" rx="1.9" ry="1.9" fill="#00BF7D"/><ellipse cx="84" cy="338.1" rx="1.9" ry="1.9" fill="#00BF7D"/><path d="M105.8 357 C106.8 359 107.89999999999999 369 110.0 373 C107.89999999999999 377 106.8 387 105.8 389 C104.8 387 103.7 377 101.6 373 C103.7 369 104.8 359 105.8 357Z" fill="none" stroke="#A3A500" stroke-width="0.9"/><line x1="100.2" y1="372.8" x2="112" y2="372.8" stroke="#A3A500" stroke-width="1.3"/><ellipse cx="100.2" cy="372.8" rx="1.9" ry="1.9" fill="#A3A500"/><ellipse cx="112" cy="372.8" rx="1.9" ry="1.9" fill="#A3A500"/><rect x="104.1" y="367.4" width="3.2" height="11.1" fill="#A3A500"/><path d="M87 392 C88 394 89.3 404 91.6 408 C89.3 412 88 422 87 424 C86 422 84.7 412 82.4 408 C84.7 404 86 394 87 392Z" fill="none" stroke="#F8766D" stroke-width="0.9"/><line x1="83.8" y1="408" x2="93.2" y2="408" stroke="#F8766D" stroke-width="1.3"/><ellipse cx="93.2" cy="408" rx="2.0" ry="2.0" fill="#F8766D"/><rect x="85.5" y="402.4" width="3.2" height="11.3" fill="#F8766D"/><path d="M70 0V181.5H173.5V0" fill="none" stroke="#404040" stroke-width="0.75"/><rect x="70" y="0" width="103.5" height="1" fill="#a6a6a6"/><rect x="70" y="1" width="103.5" height="1" fill="#ffffff" opacity="0.0"/><rect x="68.5" y="247.5" width="104.0" height="181.0" fill="none" stroke="#404040" stroke-width="0.75"/><path d="M226 0V183.5H426.5V0" fill="none" stroke="#404040" stroke-width="0.75"/><rect x="226" y="0" width="200.5" height="1" fill="#a6a6a6"/><rect x="226" y="1" width="200.5" height="1" fill="#ffffff" opacity="0.0"/><path d="M481 0V183.5H681.5V0" fill="none" stroke="#404040" stroke-width="0.75"/><rect x="481" y="0" width="200.5" height="1" fill="#a6a6a6"/><rect x="481" y="1" width="200.5" height="1" fill="#ffffff" opacity="0.0"/><rect x="225" y="247.5" width="202.5" height="185.0" fill="none" stroke="#404040" stroke-width="0.75"/><rect x="481.5" y="247.5" width="203.0" height="185.0" fill="none" stroke="#404040" stroke-width="0.75"/><line x1="63" y1="21.5" x2="70" y2="21.5" stroke="#555555" stroke-width="1"/><text x="60.5" y="25.9" font-size="11.7" text-anchor="end" font-weight="normal" fill="#000" >AI</text><line x1="63" y1="56.5" x2="70" y2="56.5" stroke="#555555" stroke-width="1"/><text x="60.5" y="60.9" font-size="11.7" text-anchor="end" font-weight="normal" fill="#000" >MAT</text><line x1="63" y1="91.5" x2="70" y2="91.5" stroke="#555555" stroke-width="1"/><text x="60.5" y="95.9" font-size="11.7" text-anchor="end" font-weight="normal" fill="#000" >MAP</text><line x1="63" y1="126.5" x2="70" y2="126.5" stroke="#555555" stroke-width="1"/><text x="60.5" y="130.9" font-size="11.7" text-anchor="end" font-weight="normal" fill="#000" >Summer_T</text><line x1="63" y1="161.5" x2="70" y2="161.5" stroke="#555555" stroke-width="1"/><text x="60.5" y="165.9" font-size="11.7" text-anchor="end" font-weight="normal" fill="#000" >Summer_P</text><line x1="74.5" y1="181.5" x2="74.5" y2="189" stroke="#555555" stroke-width="1"/><text x="74.5" y="200.3" font-size="12" text-anchor="middle" font-weight="normal" fill="#000" >0</text><line x1="101.5" y1="181.5" x2="101.5" y2="189" stroke="#555555" stroke-width="1"/><text x="101.5" y="200.3" font-size="12" text-anchor="middle" font-weight="normal" fill="#000" >6</text><line x1="128.5" y1="181.5" x2="128.5" y2="189" stroke="#555555" stroke-width="1"/><text x="128.5" y="200.3" font-size="12" text-anchor="middle" font-weight="normal" fill="#000" >12</text><line x1="155.5" y1="181.5" x2="155.5" y2="189" stroke="#555555" stroke-width="1"/><text x="155.5" y="200.3" font-size="12" text-anchor="middle" font-weight="normal" fill="#000" >18</text><text x="59.5" y="220.7" font-size="11.6" text-anchor="start" font-weight="normal" fill="#000" >Relative importance (%)</text><line x1="61.2" y1="268.5" x2="68.5" y2="268.5" stroke="#555555" stroke-width="1"/><text x="59.2" y="273.0" font-size="11.7" text-anchor="end" font-weight="normal" fill="#000" >AI</text><line x1="61.2" y1="303.5" x2="68.5" y2="303.5" stroke="#555555" stroke-width="1"/><text x="59.2" y="308.0" font-size="11.7" text-anchor="end" font-weight="normal" fill="#000" >MAT</text><line x1="61.2" y1="338.5" x2="68.5" y2="338.5" stroke="#555555" stroke-width="1"/><text x="59.2" y="342.9" font-size="11.7" text-anchor="end" font-weight="normal" fill="#000" >MAP</text><line x1="61.2" y1="373.5" x2="68.5" y2="373.5" stroke="#555555" stroke-width="1"/><text x="59.2" y="377.8" font-size="11.7" text-anchor="end" font-weight="normal" fill="#000" >Summer_T</text><line x1="61.2" y1="408.5" x2="68.5" y2="408.5" stroke="#555555" stroke-width="1"/><text x="59.2" y="412.8" font-size="11.7" text-anchor="end" font-weight="normal" fill="#000" >Summer_P</text><line x1="72.5" y1="428.5" x2="72.5" y2="433.3" stroke="#555555" stroke-width="1"/><text x="72.6" y="447" font-size="11" text-anchor="middle" font-weight="normal" fill="#000" >0</text><line x1="101.5" y1="428.5" x2="101.5" y2="433.3" stroke="#555555" stroke-width="1"/><text x="101.39999999999999" y="447" font-size="11" text-anchor="middle" font-weight="normal" fill="#000" >3</text><line x1="130.5" y1="428.5" x2="130.5" y2="433.3" stroke="#555555" stroke-width="1"/><text x="130.2" y="447" font-size="11" text-anchor="middle" font-weight="normal" fill="#000" >6</text><line x1="159.5" y1="428.5" x2="159.5" y2="433.3" stroke="#555555" stroke-width="1"/><text x="159.0" y="447" font-size="11" text-anchor="middle" font-weight="normal" fill="#000" >9</text><text x="61.5" y="466.2" font-size="11.6" text-anchor="start" font-weight="normal" fill="#000" >Relative importance (%)</text><line x1="219" y1="43.5" x2="226" y2="43.5" stroke="#555555" stroke-width="1"/><text x="216.8" y="47.58" font-size="10" text-anchor="end" font-weight="normal" fill="#000" >4</text><line x1="219" y1="87.5" x2="226" y2="87.5" stroke="#555555" stroke-width="1"/><text x="216.8" y="91.7" font-size="10" text-anchor="end" font-weight="normal" fill="#000" >0</text><line x1="219" y1="131.5" x2="226" y2="131.5" stroke="#555555" stroke-width="1"/><text x="216.8" y="135.82" font-size="10" text-anchor="end" font-weight="normal" fill="#000" >-4</text><line x1="219" y1="175.5" x2="226" y2="175.5" stroke="#555555" stroke-width="1"/><text x="216.8" y="179.94" font-size="10" text-anchor="end" font-weight="normal" fill="#000" >-8</text><line x1="234.5" y1="183.5" x2="234.5" y2="190.7" stroke="#555555" stroke-width="1"/><text x="234.6" y="199.9" font-size="10" text-anchor="middle" font-weight="normal" fill="#000" >0</text><line x1="290.5" y1="183.5" x2="290.5" y2="190.7" stroke="#555555" stroke-width="1"/><text x="290.1" y="199.9" font-size="10" text-anchor="middle" font-weight="normal" fill="#000" >2</text><line x1="345.5" y1="183.5" x2="345.5" y2="190.7" stroke="#555555" stroke-width="1"/><text x="345.6" y="199.9" font-size="10" text-anchor="middle" font-weight="normal" fill="#000" >4</text><line x1="401.5" y1="183.5" x2="401.5" y2="190.7" stroke="#555555" stroke-width="1"/><text x="401.1" y="199.9" font-size="10" text-anchor="middle" font-weight="normal" fill="#000" >6</text><text x="333.8" y="221" font-size="11.6" text-anchor="middle" font-weight="normal" fill="#000" >Aridity index</text><text transform="translate(203.9,92) rotate(-90)" font-size="11.3" text-anchor="middle">PC1 score</text><text x="317" y="177.2" font-size="11.5" text-anchor="middle">R<tspan font-size="7.6" dy="-4.4">2</tspan><tspan dy="4.4"> &lt; 0.01, </tspan><tspan font-style="italic">ns</tspan></text><line x1="474" y1="42.5" x2="481" y2="42.5" stroke="#555555" stroke-width="1"/><text x="471.3" y="46.7" font-size="10" text-anchor="end" font-weight="normal" fill="#000" >4</text><line x1="474" y1="86.5" x2="481" y2="86.5" stroke="#555555" stroke-width="1"/><text x="471.3" y="91.1" font-size="10" text-anchor="end" font-weight="normal" fill="#000" >0</text><line x1="474" y1="131.5" x2="481" y2="131.5" stroke="#555555" stroke-width="1"/><text x="471.3" y="135.5" font-size="10" text-anchor="end" font-weight="normal" fill="#000" >-4</text><line x1="474" y1="175.5" x2="481" y2="175.5" stroke="#555555" stroke-width="1"/><text x="471.3" y="179.9" font-size="10" text-anchor="end" font-weight="normal" fill="#000" >-8</text><line x1="489.5" y1="183.5" x2="489.5" y2="190.7" stroke="#555555" stroke-width="1"/><text x="489.6" y="199.7" font-size="10" text-anchor="middle" font-weight="normal" fill="#000" >0</text><line x1="548.5" y1="183.5" x2="548.5" y2="190.7" stroke="#555555" stroke-width="1"/><text x="548.6" y="199.7" font-size="10" text-anchor="middle" font-weight="normal" fill="#000" >10</text><line x1="607.5" y1="183.5" x2="607.5" y2="190.7" stroke="#555555" stroke-width="1"/><text x="607.6" y="199.7" font-size="10" text-anchor="middle" font-weight="normal" fill="#000" >20</text><line x1="666.5" y1="183.5" x2="666.5" y2="190.7" stroke="#555555" stroke-width="1"/><text x="666.6" y="199.7" font-size="10" text-anchor="middle" font-weight="normal" fill="#000" >30</text><text x="575.9" y="221.2" font-size="11.6" text-anchor="middle" font-weight="normal" fill="#000" >Mean summer temperature</text><text transform="translate(459.2,91.5) rotate(-90)" font-size="11.3" text-anchor="middle">PC1 score</text><text x="587.8" y="177.6" font-size="11.5" text-anchor="middle">R<tspan font-size="7.6" dy="-4.4">2</tspan><tspan dy="4.4"> = 0.21, </tspan><tspan font-style="italic">p</tspan> &lt; 0.001</text><line x1="220" y1="255.5" x2="225" y2="255.5" stroke="#555555" stroke-width="1"/><text x="218" y="259.81" font-size="10" text-anchor="end" font-weight="normal" fill="#000" >6</text><line x1="220" y1="296.5" x2="225" y2="296.5" stroke="#555555" stroke-width="1"/><text x="218" y="300.28" font-size="10" text-anchor="end" font-weight="normal" fill="#000" >3</text><line x1="220" y1="336.5" x2="225" y2="336.5" stroke="#555555" stroke-width="1"/><text x="218" y="340.75" font-size="10" text-anchor="end" font-weight="normal" fill="#000" >0</text><line x1="220" y1="377.5" x2="225" y2="377.5" stroke="#555555" stroke-width="1"/><text x="218" y="381.22" font-size="10" text-anchor="end" font-weight="normal" fill="#000" >-3</text><line x1="220" y1="417.5" x2="225" y2="417.5" stroke="#555555" stroke-width="1"/><text x="218" y="421.69" font-size="10" text-anchor="end" font-weight="normal" fill="#000" >-6</text><line x1="233.5" y1="432.5" x2="233.5" y2="437.6" stroke="#555555" stroke-width="1"/><text x="233.6" y="446.8" font-size="10" text-anchor="middle" font-weight="normal" fill="#000" >0</text><line x1="289.5" y1="432.5" x2="289.5" y2="437.6" stroke="#555555" stroke-width="1"/><text x="289.5" y="446.8" font-size="10" text-anchor="middle" font-weight="normal" fill="#000" >2</text><line x1="345.5" y1="432.5" x2="345.5" y2="437.6" stroke="#555555" stroke-width="1"/><text x="345.4" y="446.8" font-size="10" text-anchor="middle" font-weight="normal" fill="#000" >4</text><line x1="401.5" y1="432.5" x2="401.5" y2="437.6" stroke="#555555" stroke-width="1"/><text x="401.29999999999995" y="446.8" font-size="10" text-anchor="middle" font-weight="normal" fill="#000" >6</text><text x="334" y="466.5" font-size="11.6" text-anchor="middle" font-weight="normal" fill="#000" >Aridity index</text><text transform="translate(205.5,339.5) rotate(-90)" font-size="11.3" text-anchor="middle">PC2 score</text><text x="326.8" y="426.5" font-size="11.5" text-anchor="middle">R<tspan font-size="7.6" dy="-4.4">2</tspan><tspan dy="4.4"> = 0.03, </tspan><tspan font-style="italic">p</tspan> &lt; 0.001</text><line x1="476.6" y1="255.5" x2="481.5" y2="255.5" stroke="#555555" stroke-width="1"/><text x="474.3" y="259.81" font-size="10" text-anchor="end" font-weight="normal" fill="#000" >6</text><line x1="476.6" y1="296.5" x2="481.5" y2="296.5" stroke="#555555" stroke-width="1"/><text x="474.3" y="300.28" font-size="10" text-anchor="end" font-weight="normal" fill="#000" >3</text><line x1="476.6" y1="336.5" x2="481.5" y2="336.5" stroke="#555555" stroke-width="1"/><text x="474.3" y="340.75" font-size="10" text-anchor="end" font-weight="normal" fill="#000" >0</text><line x1="476.6" y1="377.5" x2="481.5" y2="377.5" stroke="#555555" stroke-width="1"/><text x="474.3" y="381.22" font-size="10" text-anchor="end" font-weight="normal" fill="#000" >-3</text><line x1="476.6" y1="417.5" x2="481.5" y2="417.5" stroke="#555555" stroke-width="1"/><text x="474.3" y="421.69" font-size="10" text-anchor="end" font-weight="normal" fill="#000" >-6</text><line x1="512.5" y1="432.5" x2="512.5" y2="437.3" stroke="#555555" stroke-width="1"/><text x="512.2" y="446.9" font-size="10" text-anchor="middle" font-weight="normal" fill="#000" >0</text><line x1="566.5" y1="432.5" x2="566.5" y2="437.3" stroke="#555555" stroke-width="1"/><text x="566.4000000000001" y="446.9" font-size="10" text-anchor="middle" font-weight="normal" fill="#000" >10</text><line x1="620.5" y1="432.5" x2="620.5" y2="437.3" stroke="#555555" stroke-width="1"/><text x="620.6" y="446.9" font-size="10" text-anchor="middle" font-weight="normal" fill="#000" >20</text><line x1="674.5" y1="432.5" x2="674.5" y2="437.3" stroke="#555555" stroke-width="1"/><text x="674.8000000000001" y="446.9" font-size="10" text-anchor="middle" font-weight="normal" fill="#000" >30</text><text x="579.5" y="466.3" font-size="11.6" text-anchor="middle" font-weight="normal" fill="#000" >Mean annual temperature</text><text transform="translate(461.3,339.5) rotate(-90)" font-size="11.3" text-anchor="middle">PC2 score</text><text x="594.6" y="424.8" font-size="11.5" text-anchor="middle">R<tspan font-size="7.6" dy="-4.4">2</tspan><tspan dy="4.4"> = 0.09, </tspan><tspan font-style="italic">p</tspan> &lt; 0.001</text><text x="3" y="14" font-size="20" text-anchor="start" font-weight="bold" fill="#000" >a</text><text x="194" y="18.8" font-size="20" text-anchor="start" font-weight="bold" fill="#000" >b</text><text x="449.5" y="13.9" font-size="20" text-anchor="start" font-weight="bold" fill="#000" >c</text><text x="3" y="258" font-size="20" text-anchor="start" font-weight="bold" fill="#000" >d</text><text x="195" y="260.5" font-size="20" text-anchor="start" font-weight="bold" fill="#000" >e</text><text x="450.5" y="259.8" font-size="20" text-anchor="start" font-weight="bold" fill="#000" >f</text></svg></body></html>
